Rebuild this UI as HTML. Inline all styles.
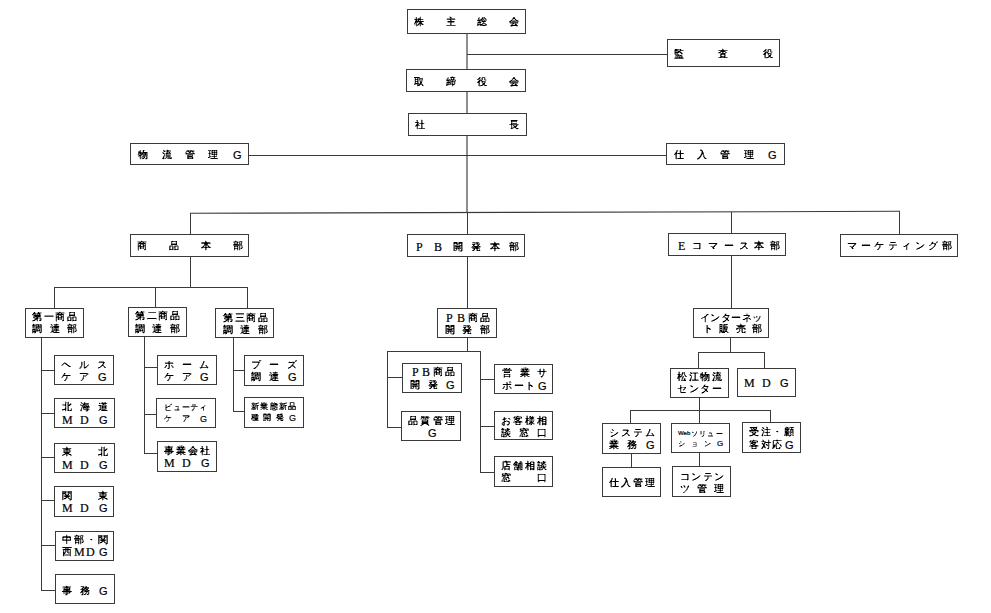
<!DOCTYPE html>
<html><head><meta charset="utf-8"><style>
html,body{margin:0;padding:0;background:#fff;width:991px;height:613px;overflow:hidden}
body{position:relative;font-family:"Liberation Sans",sans-serif;color:#000}
.l{position:absolute;background:#3a3a3a}
.b{position:absolute;box-sizing:border-box;border:1px solid #3a3a3a;background:#fff}
.c{position:absolute;white-space:nowrap;-webkit-text-stroke:0.2px #000}
svg{position:absolute;left:0;top:0}
</style></head><body>
<div class="l" style="left:466px;top:33px;width:2px;height:179px;background:#8e8e8e"></div>
<div class="l" style="left:190px;top:213px;width:1px;height:75px"></div>
<div class="l" style="left:467px;top:212px;width:1px;height:140px"></div>
<div class="l" style="left:731px;top:212px;width:1px;height:97px"></div>
<div class="l" style="left:730px;top:308px;width:1px;height:45px"></div>
<div class="l" style="left:899px;top:211px;width:1px;height:24px"></div>
<div class="l" style="left:54px;top:287px;width:1px;height:22px"></div>
<div class="l" style="left:155px;top:287px;width:1px;height:21px"></div>
<div class="l" style="left:247px;top:287px;width:1px;height:22px"></div>
<div class="l" style="left:41px;top:337px;width:1px;height:254px"></div>
<div class="l" style="left:144px;top:336px;width:1px;height:118px"></div>
<div class="l" style="left:233px;top:337px;width:1px;height:75px"></div>
<div class="l" style="left:387px;top:351px;width:1px;height:77px"></div>
<div class="l" style="left:480px;top:351px;width:1px;height:122px"></div>
<div class="l" style="left:698px;top:352px;width:1px;height:17px"></div>
<div class="l" style="left:764px;top:352px;width:1px;height:17px"></div>
<div class="l" style="left:699px;top:397px;width:1px;height:14px"></div>
<div class="l" style="left:630px;top:410px;width:1px;height:14px"></div>
<div class="l" style="left:699px;top:410px;width:1px;height:14px"></div>
<div class="l" style="left:770px;top:410px;width:1px;height:13px"></div>
<div class="l" style="left:631px;top:453px;width:1px;height:15px"></div>
<div class="l" style="left:699px;top:452px;width:1px;height:15px"></div>
<div class="l" style="left:467px;top:54px;width:201px;height:1px"></div>
<div class="l" style="left:248px;top:155px;width:419px;height:1px"></div>
<div class="l" style="left:54px;top:287px;width:194px;height:1px"></div>
<div class="l" style="left:41px;top:370px;width:14px;height:1px"></div>
<div class="l" style="left:41px;top:413px;width:14px;height:1px"></div>
<div class="l" style="left:41px;top:457px;width:14px;height:1px"></div>
<div class="l" style="left:41px;top:500px;width:14px;height:1px"></div>
<div class="l" style="left:41px;top:545px;width:15px;height:1px"></div>
<div class="l" style="left:41px;top:590px;width:15px;height:1px"></div>
<div class="l" style="left:144px;top:367px;width:14px;height:1px"></div>
<div class="l" style="left:144px;top:414px;width:13px;height:1px"></div>
<div class="l" style="left:144px;top:453px;width:14px;height:1px"></div>
<div class="l" style="left:233px;top:370px;width:12px;height:1px"></div>
<div class="l" style="left:233px;top:411px;width:12px;height:1px"></div>
<div class="l" style="left:387px;top:351px;width:94px;height:1px"></div>
<div class="l" style="left:387px;top:377px;width:16px;height:1px"></div>
<div class="l" style="left:387px;top:427px;width:15px;height:1px"></div>
<div class="l" style="left:480px;top:379px;width:15px;height:1px"></div>
<div class="l" style="left:480px;top:426px;width:15px;height:1px"></div>
<div class="l" style="left:480px;top:472px;width:15px;height:1px"></div>
<div class="l" style="left:698px;top:352px;width:67px;height:1px"></div>
<div class="l" style="left:630px;top:410px;width:141px;height:1px"></div>
<div class="b" style="left:407px;top:9px;width:119px;height:25px"></div>
<div class="b" style="left:667px;top:39px;width:113px;height:28px"></div>
<div class="b" style="left:406px;top:69px;width:120px;height:23px"></div>
<div class="b" style="left:408px;top:113px;width:119px;height:23px"></div>
<div class="b" style="left:130px;top:143px;width:119px;height:22px"></div>
<div class="b" style="left:666px;top:143px;width:119px;height:22px"></div>
<div class="b" style="left:130px;top:234px;width:119px;height:23px"></div>
<div class="b" style="left:407px;top:234px;width:118px;height:23px"></div>
<div class="b" style="left:668px;top:233px;width:118px;height:23px"></div>
<div class="b" style="left:840px;top:234px;width:118px;height:23px"></div>
<div class="b" style="left:25px;top:308px;width:59px;height:30px"></div>
<div class="b" style="left:128px;top:307px;width:59px;height:30px"></div>
<div class="b" style="left:215px;top:308px;width:59px;height:30px"></div>
<div class="b" style="left:54px;top:355px;width:60px;height:30px"></div>
<div class="b" style="left:54px;top:398px;width:61px;height:30px"></div>
<div class="b" style="left:54px;top:443px;width:61px;height:30px"></div>
<div class="b" style="left:54px;top:486px;width:60px;height:31px"></div>
<div class="b" style="left:55px;top:531px;width:59px;height:30px"></div>
<div class="b" style="left:55px;top:574px;width:60px;height:30px"></div>
<div class="b" style="left:157px;top:355px;width:60px;height:30px"></div>
<div class="b" style="left:156px;top:398px;width:60px;height:30px"></div>
<div class="b" style="left:157px;top:441px;width:60px;height:31px"></div>
<div class="b" style="left:244px;top:355px;width:60px;height:31px"></div>
<div class="b" style="left:244px;top:397px;width:60px;height:31px"></div>
<div class="b" style="left:437px;top:308px;width:60px;height:30px"></div>
<div class="b" style="left:402px;top:363px;width:60px;height:30px"></div>
<div class="b" style="left:494px;top:364px;width:59px;height:30px"></div>
<div class="b" style="left:401px;top:411px;width:60px;height:30px"></div>
<div class="b" style="left:494px;top:411px;width:59px;height:29px"></div>
<div class="b" style="left:494px;top:456px;width:59px;height:31px"></div>
<div class="b" style="left:693px;top:308px;width:76px;height:30px"></div>
<div class="b" style="left:670px;top:368px;width:59px;height:30px"></div>
<div class="b" style="left:737px;top:368px;width:59px;height:29px"></div>
<div class="b" style="left:602px;top:423px;width:59px;height:31px"></div>
<div class="b" style="left:671px;top:423px;width:59px;height:30px"></div>
<div class="b" style="left:742px;top:422px;width:59px;height:31px"></div>
<div class="b" style="left:602px;top:467px;width:59px;height:30px"></div>
<div class="b" style="left:672px;top:466px;width:59px;height:31px"></div>
<span class="c" style="left:233px;top:150px;font-family:'Liberation Sans';font-size:11px;line-height:10px">G</span>
<span class="c" style="left:768px;top:150px;font-family:'Liberation Sans';font-size:11px;line-height:10px">G</span>
<span class="c" style="left:416px;top:242px;font-family:'Liberation Serif';font-size:12px;line-height:10px">P</span>
<span class="c" style="left:434px;top:242px;font-family:'Liberation Serif';font-size:12px;line-height:10px">B</span>
<span class="c" style="left:678px;top:241px;font-family:'Liberation Serif';font-size:12px;line-height:10px">E</span>
<span class="c" style="left:98px;top:372px;font-family:'Liberation Sans';font-size:11px;line-height:10px">G</span>
<span class="c" style="left:62px;top:415px;font-family:'Liberation Serif';font-size:12px;line-height:10px">M</span>
<span class="c" style="left:80px;top:415px;font-family:'Liberation Serif';font-size:12px;line-height:10px">D</span>
<span class="c" style="left:99px;top:415px;font-family:'Liberation Sans';font-size:11px;line-height:10px">G</span>
<span class="c" style="left:62px;top:460px;font-family:'Liberation Serif';font-size:12px;line-height:10px">M</span>
<span class="c" style="left:80px;top:460px;font-family:'Liberation Serif';font-size:12px;line-height:10px">D</span>
<span class="c" style="left:99px;top:460px;font-family:'Liberation Sans';font-size:11px;line-height:10px">G</span>
<span class="c" style="left:62px;top:503px;font-family:'Liberation Serif';font-size:12px;line-height:10px">M</span>
<span class="c" style="left:80px;top:503px;font-family:'Liberation Serif';font-size:12px;line-height:10px">D</span>
<span class="c" style="left:99px;top:503px;font-family:'Liberation Sans';font-size:11px;line-height:10px">G</span>
<span class="c" style="left:74px;top:547px;font-family:'Liberation Serif';font-size:12px;line-height:10px">M</span>
<span class="c" style="left:86px;top:547px;font-family:'Liberation Serif';font-size:12px;line-height:10px">D</span>
<span class="c" style="left:99px;top:547px;font-family:'Liberation Sans';font-size:11px;line-height:10px">G</span>
<span class="c" style="left:99px;top:586px;font-family:'Liberation Sans';font-size:11px;line-height:10px">G</span>
<span class="c" style="left:200px;top:372px;font-family:'Liberation Sans';font-size:11px;line-height:10px">G</span>
<span class="c" style="left:200px;top:415px;font-size:9px;line-height:8px">G</span>
<span class="c" style="left:164px;top:458px;font-family:'Liberation Serif';font-size:12px;line-height:10px">M</span>
<span class="c" style="left:182px;top:458px;font-family:'Liberation Serif';font-size:12px;line-height:10px">D</span>
<span class="c" style="left:201px;top:458px;font-family:'Liberation Sans';font-size:11px;line-height:10px">G</span>
<span class="c" style="left:288px;top:372px;font-family:'Liberation Sans';font-size:11px;line-height:10px">G</span>
<span class="c" style="left:289px;top:414px;font-size:9px;line-height:8px">G</span>
<span class="c" style="left:446px;top:313px;font-family:'Liberation Serif';font-size:12px;line-height:10px">P</span>
<span class="c" style="left:457px;top:313px;font-family:'Liberation Serif';font-size:12px;line-height:10px">B</span>
<span class="c" style="left:412px;top:367px;font-family:'Liberation Serif';font-size:12px;line-height:10px">P</span>
<span class="c" style="left:422px;top:367px;font-family:'Liberation Serif';font-size:12px;line-height:10px">B</span>
<span class="c" style="left:446px;top:380px;font-family:'Liberation Sans';font-size:11px;line-height:10px">G</span>
<span class="c" style="left:538px;top:381px;font-family:'Liberation Sans';font-size:11px;line-height:10px">G</span>
<span class="c" style="left:428px;top:428px;font-family:'Liberation Sans';font-size:11px;line-height:10px">G</span>
<span class="c" style="left:744px;top:378px;font-family:'Liberation Serif';font-size:12px;line-height:10px">M</span>
<span class="c" style="left:762px;top:378px;font-family:'Liberation Serif';font-size:12px;line-height:10px">D</span>
<span class="c" style="left:780px;top:378px;font-family:'Liberation Sans';font-size:11px;line-height:10px">G</span>
<span class="c" style="left:646px;top:440px;font-family:'Liberation Sans';font-size:11px;line-height:10px">G</span>
<span class="c" style="left:678px;top:430px;font-size:6px;line-height:7px">Web</span>
<span class="c" style="left:717px;top:440px;font-size:8px;line-height:7px">G</span>
<span class="c" style="left:785px;top:440px;font-family:'Liberation Sans';font-size:11px;line-height:10px">G</span>
<svg width="991" height="613" viewBox="0 0 991 613" shape-rendering="crispEdges" fill="#000">
<line x1="190" y1="213.3" x2="900" y2="211.3" stroke="#3a3a3a" stroke-width="1.1" shape-rendering="auto"/>
<g transform="translate(410 13)"><path d="M5 6h2v1h-2zM8 6h3v1h-3zM6 7h1v1h-1zM8 7h1v1h-1zM5 8h8v1h-8zM5 9h1v1h-1zM10 9h1v1h-1zM9 10h3v1h-3zM8 11h1v1h-1zM12 11h1v1h-1z"/><path d="M6 4h1v1h-1zM10 4h1v1h-1zM6 5h1v1h-1zM8 5h3v1h-3zM7 6h1v1h-1zM11 6h2v1h-2zM10 7h1v1h-1zM13 8h1v1h-1zM6 9h2v1h-2zM9 9h1v1h-1zM11 9h1v1h-1zM4 10h1v1h-1zM6 10h1v1h-1zM6 11h1v1h-1zM10 11h1v1h-1zM6 12h2v1h-2zM10 12h1v1h-1z" fill-opacity="0.72"/><path d="M4 6h1v1h-1zM5 7h1v1h-1zM7 7h1v1h-1zM5 10h1v1h-1zM8 10h1v1h-1zM12 10h1v1h-1zM4 11h1v1h-1zM7 11h1v1h-1zM9 11h1v1h-1zM11 11h1v1h-1zM13 11h1v1h-1z" fill-opacity="0.45"/><path d="M10 3h1v1h-1zM5 4h1v1h-1zM9 4h1v1h-1zM4 5h2v1h-2zM7 5h1v1h-1zM13 6h1v1h-1zM9 7h1v1h-1zM4 9h1v1h-1zM8 9h1v1h-1zM5 11h1v1h-1zM5 12h1v1h-1zM8 12h2v1h-2zM6 13h1v1h-1zM10 13h1v1h-1z" fill-opacity="0.2"/></g>
<g transform="translate(442 13)"><path d="M8 4h1v1h-1zM8 6h1v1h-1zM6 8h6v1h-6z"/><path d="M8 5h2v1h-2zM5 6h3v1h-3zM9 6h4v1h-4zM8 7h1v1h-1zM8 9h2v1h-2zM8 10h1v1h-1zM8 11h1v1h-1zM5 12h8v1h-8z" fill-opacity="0.72"/><path d="M9 4h1v1h-1zM5 5h3v1h-3zM10 5h3v1h-3zM9 7h1v1h-1zM5 8h1v1h-1zM12 8h1v1h-1zM6 9h2v1h-2zM10 9h2v1h-2zM9 10h1v1h-1zM9 11h1v1h-1zM4 12h1v1h-1zM13 12h1v1h-1z" fill-opacity="0.45"/><path d="M7 3h2v1h-2zM7 4h1v1h-1zM4 6h1v1h-1zM13 6h1v1h-1zM5 9h1v1h-1zM12 9h1v1h-1z" fill-opacity="0.2"/></g>
<g transform="translate(473 13)"><path d="M9 5h1v1h-1zM8 6h1v1h-1zM5 7h2v1h-2zM9 8h3v1h-3zM5 9h3v1h-3zM5 11h1v1h-1zM7 11h2v1h-2zM10 12h2v1h-2z"/><path d="M9 4h1v1h-1zM11 4h1v1h-1zM5 5h1v1h-1zM11 5h2v1h-2zM5 6h1v1h-1zM7 6h1v1h-1zM9 6h2v1h-2zM12 6h1v1h-1zM4 7h1v1h-1zM7 7h3v1h-3zM11 7h1v1h-1zM6 8h1v1h-1zM12 8h1v1h-1zM10 9h1v1h-1zM9 10h3v1h-3zM4 11h1v1h-1zM6 11h1v1h-1zM9 11h1v1h-1zM12 11h2v1h-2zM4 12h1v1h-1zM7 12h3v1h-3zM12 12h1v1h-1z" fill-opacity="0.72"/><path d="M6 4h1v1h-1zM10 4h1v1h-1zM6 5h1v1h-1zM8 5h1v1h-1zM10 5h1v1h-1zM6 6h1v1h-1zM13 6h1v1h-1zM10 7h1v1h-1zM12 7h2v1h-2zM5 8h1v1h-1zM7 8h2v1h-2zM4 9h1v1h-1zM4 10h4v1h-4zM12 10h1v1h-1zM5 12h1v1h-1zM13 12h1v1h-1z" fill-opacity="0.45"/><path d="M5 4h1v1h-1zM4 6h1v1h-1zM11 6h1v1h-1zM8 9h1v1h-1zM11 9h1v1h-1zM10 11h2v1h-2zM6 12h1v1h-1z" fill-opacity="0.2"/></g>
<g transform="translate(505 13)"><path d="M8 5h2v1h-2zM10 6h1v1h-1zM6 7h1v1h-1zM11 7h1v1h-1zM5 8h1v1h-1zM8 10h1v1h-1zM10 11h1v1h-1zM6 12h6v1h-6z"/><path d="M8 4h2v1h-2zM7 6h1v1h-1zM12 7h1v1h-1zM4 8h1v1h-1zM7 8h4v1h-4zM12 8h1v1h-1zM5 9h8v1h-8zM7 10h1v1h-1zM10 10h1v1h-1zM7 11h1v1h-1zM11 11h1v1h-1zM12 12h1v1h-1z" fill-opacity="0.72"/><path d="M7 5h1v1h-1zM5 7h1v1h-1zM7 7h4v1h-4zM6 8h1v1h-1zM11 8h1v1h-1zM13 8h1v1h-1zM4 9h1v1h-1zM5 10h2v1h-2zM9 10h1v1h-1zM11 10h2v1h-2zM6 11h1v1h-1zM5 12h1v1h-1zM6 13h1v1h-1z" fill-opacity="0.45"/><path d="M10 5h1v1h-1zM6 6h1v1h-1zM8 6h2v1h-2zM11 6h1v1h-1zM13 7h1v1h-1zM13 9h1v1h-1zM8 11h2v1h-2zM5 13h1v1h-1zM7 13h1v1h-1zM11 13h2v1h-2z" fill-opacity="0.2"/></g>
<g transform="translate(670 45)"><path d="M5 4h2v1h-2zM10 4h1v1h-1zM5 5h2v1h-2zM10 5h1v1h-1zM8 6h2v1h-2zM5 7h4v1h-4zM10 7h1v1h-1zM11 8h1v1h-1zM8 10h1v1h-1zM10 10h1v1h-1zM9 12h1v1h-1zM11 12h1v1h-1z"/><path d="M7 4h2v1h-2zM7 5h1v1h-1zM11 5h2v1h-2zM5 6h1v1h-1zM11 7h1v1h-1zM5 8h1v1h-1zM7 8h1v1h-1zM5 9h4v1h-4zM6 10h2v1h-2zM9 10h1v1h-1zM11 10h1v1h-1zM7 11h1v1h-1zM9 11h1v1h-1zM11 11h1v1h-1zM5 12h4v1h-4zM10 12h1v1h-1zM12 12h1v1h-1zM5 13h8v1h-8z" fill-opacity="0.72"/><path d="M9 4h1v1h-1zM4 5h1v1h-1zM8 5h2v1h-2zM13 5h1v1h-1zM4 6h1v1h-1zM6 6h2v1h-2zM10 6h1v1h-1zM4 7h1v1h-1zM9 7h1v1h-1zM4 8h1v1h-1zM6 8h1v1h-1zM12 8h1v1h-1zM5 10h1v1h-1zM5 11h2v1h-2zM8 11h1v1h-1zM10 11h1v1h-1zM12 11h1v1h-1zM4 13h1v1h-1zM13 13h1v1h-1z" fill-opacity="0.45"/><path d="M4 4h1v1h-1zM11 4h1v1h-1zM10 8h1v1h-1zM4 9h1v1h-1zM9 9h1v1h-1zM11 9h2v1h-2zM12 10h1v1h-1zM4 12h1v1h-1zM13 12h1v1h-1z" fill-opacity="0.2"/></g>
<g transform="translate(714 45)"><path d="M7 5h3v1h-3zM7 6h4v1h-4zM5 7h1v1h-1zM8 8h3v1h-3zM7 9h1v1h-1zM10 9h1v1h-1zM7 11h1v1h-1zM10 11h1v1h-1zM6 12h1v1h-1zM10 12h1v1h-1z"/><path d="M8 4h1v1h-1zM5 5h2v1h-2zM10 5h3v1h-3zM6 6h1v1h-1zM6 7h1v1h-1zM8 7h1v1h-1zM11 7h2v1h-2zM7 8h1v1h-1zM6 9h1v1h-1zM8 9h2v1h-2zM6 10h1v1h-1zM10 10h1v1h-1zM6 11h1v1h-1zM8 11h2v1h-2zM5 12h1v1h-1zM7 12h3v1h-3zM11 12h2v1h-2z" fill-opacity="0.72"/><path d="M9 4h1v1h-1zM4 5h1v1h-1zM13 5h1v1h-1zM11 6h1v1h-1zM4 7h1v1h-1zM9 7h1v1h-1zM6 8h1v1h-1zM11 8h1v1h-1zM11 9h1v1h-1zM7 10h1v1h-1zM11 10h1v1h-1zM11 11h1v1h-1zM4 12h1v1h-1zM13 12h1v1h-1z" fill-opacity="0.45"/><path d="M8 3h1v1h-1zM4 8h2v1h-2z" fill-opacity="0.2"/></g>
<g transform="translate(759 45)"><path d="M6 5h1v1h-1zM6 7h1v1h-1zM8 7h1v1h-1zM5 8h2v1h-2zM9 8h1v1h-1zM5 9h1v1h-1zM10 10h2v1h-2zM10 11h1v1h-1zM8 12h1v1h-1zM12 12h1v1h-1z"/><path d="M6 4h1v1h-1zM9 4h3v1h-3zM5 5h1v1h-1zM9 5h1v1h-1zM11 5h1v1h-1zM4 6h2v1h-2zM9 6h1v1h-1zM11 6h1v1h-1zM7 7h1v1h-1zM10 8h2v1h-2zM4 9h1v1h-1zM6 9h1v1h-1zM9 9h1v1h-1zM11 9h1v1h-1zM6 10h1v1h-1zM6 11h1v1h-1zM9 11h1v1h-1zM11 11h1v1h-1zM6 12h2v1h-2zM9 12h1v1h-1zM11 12h1v1h-1zM13 12h1v1h-1z" fill-opacity="0.72"/><path d="M7 4h1v1h-1zM8 5h1v1h-1zM6 6h3v1h-3zM12 6h1v1h-1zM12 7h1v1h-1zM8 8h1v1h-1zM12 8h1v1h-1zM12 9h1v1h-1zM5 10h1v1h-1zM9 10h1v1h-1zM5 11h1v1h-1zM5 12h1v1h-1z" fill-opacity="0.45"/><path d="M8 4h1v1h-1zM12 4h1v1h-1zM7 5h1v1h-1zM12 5h1v1h-1zM13 6h1v1h-1zM5 7h1v1h-1zM9 7h1v1h-1zM11 7h1v1h-1zM13 7h1v1h-1zM4 8h1v1h-1zM7 8h1v1h-1zM8 9h1v1h-1zM10 9h1v1h-1zM10 12h1v1h-1zM6 13h2v1h-2z" fill-opacity="0.2"/></g>
<g transform="translate(410 73)"><path d="M4 4h5v1h-5zM5 6h1v1h-1zM7 6h1v1h-1zM5 8h1v1h-1zM7 8h1v1h-1zM10 9h2v1h-2zM5 10h3v1h-3zM10 10h1v1h-1zM9 11h1v1h-1zM8 12h1v1h-1zM12 12h1v1h-1z"/><path d="M9 4h1v1h-1zM5 5h1v1h-1zM7 5h1v1h-1zM9 5h4v1h-4zM6 6h1v1h-1zM9 6h1v1h-1zM12 6h1v1h-1zM5 7h1v1h-1zM7 7h1v1h-1zM6 8h1v1h-1zM10 8h2v1h-2zM5 9h1v1h-1zM7 9h1v1h-1zM8 10h1v1h-1zM11 10h1v1h-1zM4 11h1v1h-1zM7 11h2v1h-2zM10 11h3v1h-3zM7 12h1v1h-1zM9 12h1v1h-1z" fill-opacity="0.72"/><path d="M8 5h1v1h-1zM8 6h1v1h-1zM10 6h2v1h-2zM8 7h5v1h-5zM8 8h1v1h-1zM8 9h1v1h-1zM4 10h1v1h-1zM9 10h1v1h-1zM5 11h1v1h-1zM13 12h1v1h-1z" fill-opacity="0.45"/><path d="M4 5h1v1h-1zM4 6h1v1h-1zM4 7h1v1h-1zM4 8h1v1h-1zM9 8h1v1h-1zM12 8h1v1h-1zM4 9h1v1h-1zM6 11h1v1h-1zM7 13h1v1h-1z" fill-opacity="0.2"/></g>
<g transform="translate(442 73)"><path d="M9 4h3v1h-3zM9 6h1v1h-1zM11 6h1v1h-1zM5 7h2v1h-2zM10 8h1v1h-1zM5 9h3v1h-3zM5 11h1v1h-1zM10 11h2v1h-2z"/><path d="M8 4h1v1h-1zM12 4h1v1h-1zM5 5h1v1h-1zM9 5h1v1h-1zM11 5h1v1h-1zM5 6h1v1h-1zM7 6h1v1h-1zM10 6h1v1h-1zM4 7h1v1h-1zM7 7h2v1h-2zM10 7h1v1h-1zM13 7h1v1h-1zM6 8h1v1h-1zM8 8h2v1h-2zM11 8h2v1h-2zM8 9h1v1h-1zM10 9h1v1h-1zM12 9h1v1h-1zM6 10h1v1h-1zM8 10h1v1h-1zM10 10h1v1h-1zM12 10h1v1h-1zM4 11h1v1h-1zM6 11h3v1h-3zM12 11h1v1h-1zM4 12h1v1h-1zM10 12h1v1h-1z" fill-opacity="0.72"/><path d="M10 3h1v1h-1zM6 4h1v1h-1zM6 5h1v1h-1zM12 5h1v1h-1zM4 6h1v1h-1zM6 6h1v1h-1zM8 6h1v1h-1zM12 6h1v1h-1zM9 7h1v1h-1zM11 7h2v1h-2zM5 8h1v1h-1zM7 8h1v1h-1zM13 8h1v1h-1zM4 9h1v1h-1zM9 9h1v1h-1zM4 10h2v1h-2zM7 10h1v1h-1zM9 10h1v1h-1zM9 11h1v1h-1zM5 12h1v1h-1z" fill-opacity="0.45"/><path d="M9 3h1v1h-1zM5 4h1v1h-1zM13 4h1v1h-1zM8 5h1v1h-1zM13 6h1v1h-1zM11 9h1v1h-1zM13 9h1v1h-1zM11 10h1v1h-1zM13 10h1v1h-1zM6 12h1v1h-1zM11 12h1v1h-1zM10 13h1v1h-1z" fill-opacity="0.2"/></g>
<g transform="translate(473 73)"><path d="M6 5h1v1h-1zM6 7h1v1h-1zM8 7h1v1h-1zM5 8h2v1h-2zM9 8h1v1h-1zM5 9h1v1h-1zM10 10h2v1h-2zM10 11h1v1h-1zM8 12h1v1h-1zM12 12h1v1h-1z"/><path d="M6 4h1v1h-1zM9 4h3v1h-3zM5 5h1v1h-1zM9 5h1v1h-1zM11 5h1v1h-1zM4 6h2v1h-2zM9 6h1v1h-1zM11 6h1v1h-1zM7 7h1v1h-1zM10 8h2v1h-2zM4 9h1v1h-1zM6 9h1v1h-1zM9 9h1v1h-1zM11 9h1v1h-1zM6 10h1v1h-1zM6 11h1v1h-1zM9 11h1v1h-1zM11 11h1v1h-1zM6 12h2v1h-2zM9 12h1v1h-1zM11 12h1v1h-1zM13 12h1v1h-1z" fill-opacity="0.72"/><path d="M7 4h1v1h-1zM8 5h1v1h-1zM6 6h3v1h-3zM12 6h1v1h-1zM12 7h1v1h-1zM8 8h1v1h-1zM12 8h1v1h-1zM12 9h1v1h-1zM5 10h1v1h-1zM9 10h1v1h-1zM5 11h1v1h-1zM5 12h1v1h-1z" fill-opacity="0.45"/><path d="M8 4h1v1h-1zM12 4h1v1h-1zM7 5h1v1h-1zM12 5h1v1h-1zM13 6h1v1h-1zM5 7h1v1h-1zM9 7h1v1h-1zM11 7h1v1h-1zM13 7h1v1h-1zM4 8h1v1h-1zM7 8h1v1h-1zM8 9h1v1h-1zM10 9h1v1h-1zM10 12h1v1h-1zM6 13h2v1h-2z" fill-opacity="0.2"/></g>
<g transform="translate(505 73)"><path d="M8 5h2v1h-2zM10 6h1v1h-1zM6 7h1v1h-1zM11 7h1v1h-1zM5 8h1v1h-1zM8 10h1v1h-1zM10 11h1v1h-1zM6 12h6v1h-6z"/><path d="M8 4h2v1h-2zM7 6h1v1h-1zM12 7h1v1h-1zM4 8h1v1h-1zM7 8h4v1h-4zM12 8h1v1h-1zM5 9h8v1h-8zM7 10h1v1h-1zM10 10h1v1h-1zM7 11h1v1h-1zM11 11h1v1h-1zM12 12h1v1h-1z" fill-opacity="0.72"/><path d="M7 5h1v1h-1zM5 7h1v1h-1zM7 7h4v1h-4zM6 8h1v1h-1zM11 8h1v1h-1zM13 8h1v1h-1zM4 9h1v1h-1zM5 10h2v1h-2zM9 10h1v1h-1zM11 10h2v1h-2zM6 11h1v1h-1zM5 12h1v1h-1zM6 13h1v1h-1z" fill-opacity="0.45"/><path d="M10 5h1v1h-1zM6 6h1v1h-1zM8 6h2v1h-2zM11 6h1v1h-1zM13 7h1v1h-1zM13 9h1v1h-1zM8 11h2v1h-2zM5 13h1v1h-1zM7 13h1v1h-1zM11 13h2v1h-2z" fill-opacity="0.2"/></g>
<g transform="translate(411 116)"><path d="M5 6h2v1h-2zM6 7h1v1h-1zM10 7h2v1h-2zM6 8h1v1h-1zM5 9h2v1h-2zM10 12h1v1h-1z"/><path d="M6 4h1v1h-1zM10 4h1v1h-1zM6 5h1v1h-1zM10 5h1v1h-1zM4 6h1v1h-1zM7 6h1v1h-1zM10 6h1v1h-1zM9 7h1v1h-1zM12 7h1v1h-1zM5 8h1v1h-1zM7 8h1v1h-1zM10 8h1v1h-1zM7 9h1v1h-1zM10 9h1v1h-1zM6 10h1v1h-1zM10 10h1v1h-1zM6 11h1v1h-1zM10 11h1v1h-1zM6 12h1v1h-1zM8 12h2v1h-2zM11 12h3v1h-3z" fill-opacity="0.72"/><path d="M5 4h1v1h-1zM11 4h1v1h-1zM11 5h1v1h-1zM11 6h1v1h-1zM7 7h2v1h-2zM11 8h1v1h-1zM4 9h1v1h-1zM8 9h1v1h-1zM11 9h1v1h-1zM4 10h2v1h-2zM11 10h1v1h-1zM11 11h1v1h-1zM7 12h1v1h-1z" fill-opacity="0.45"/><path d="M10 3h1v1h-1zM5 5h1v1h-1zM13 7h1v1h-1zM5 11h1v1h-1zM5 12h1v1h-1zM6 13h1v1h-1z" fill-opacity="0.2"/></g>
<g transform="translate(505 116)"><path d="M6 4h6v1h-6zM6 5h1v1h-1zM6 7h1v1h-1zM6 8h1v1h-1zM11 9h1v1h-1zM9 10h2v1h-2zM10 11h1v1h-1zM6 12h1v1h-1zM11 12h2v1h-2z"/><path d="M7 5h5v1h-5zM6 6h1v1h-1zM7 7h5v1h-5zM5 8h1v1h-1zM7 8h6v1h-6zM6 9h1v1h-1zM8 9h1v1h-1zM6 10h1v1h-1zM11 10h1v1h-1zM6 11h1v1h-1zM8 11h2v1h-2zM7 12h1v1h-1z" fill-opacity="0.72"/><path d="M12 4h1v1h-1zM4 8h1v1h-1zM13 8h1v1h-1zM9 9h1v1h-1zM12 9h1v1h-1zM7 11h1v1h-1zM13 12h1v1h-1z" fill-opacity="0.45"/><path d="M5 4h1v1h-1zM7 6h1v1h-1zM11 6h1v1h-1zM7 9h1v1h-1zM10 9h1v1h-1zM7 10h2v1h-2zM11 11h1v1h-1zM5 12h1v1h-1zM8 12h1v1h-1zM10 12h1v1h-1zM12 13h1v1h-1z" fill-opacity="0.2"/></g>
<g transform="translate(134 146)"><path d="M9 4h1v1h-1zM9 5h1v1h-1zM5 6h2v1h-2zM9 6h4v1h-4zM6 7h1v1h-1zM8 7h1v1h-1zM11 7h1v1h-1zM7 8h1v1h-1zM11 8h1v1h-1zM5 9h2v1h-2zM10 11h1v1h-1zM9 12h1v1h-1zM12 12h1v1h-1z"/><path d="M6 4h1v1h-1zM5 5h2v1h-2zM4 6h1v1h-1zM7 6h2v1h-2zM4 7h2v1h-2zM7 7h1v1h-1zM9 7h2v1h-2zM12 7h1v1h-1zM4 8h1v1h-1zM6 8h1v1h-1zM8 8h3v1h-3zM12 8h1v1h-1zM9 9h4v1h-4zM6 10h1v1h-1zM8 10h3v1h-3zM12 10h1v1h-1zM6 11h1v1h-1zM12 11h1v1h-1zM6 12h1v1h-1zM8 12h1v1h-1z" fill-opacity="0.72"/><path d="M10 4h1v1h-1zM4 5h1v1h-1zM13 6h1v1h-1zM13 7h1v1h-1zM5 8h1v1h-1zM13 8h1v1h-1zM4 9h1v1h-1zM7 9h1v1h-1zM13 9h1v1h-1zM4 10h2v1h-2zM11 10h1v1h-1zM13 10h1v1h-1zM7 11h3v1h-3zM13 11h1v1h-1zM11 12h1v1h-1zM13 12h1v1h-1z" fill-opacity="0.45"/><path d="M5 4h1v1h-1zM8 4h1v1h-1zM8 5h1v1h-1zM3 8h1v1h-1zM8 9h1v1h-1zM7 10h1v1h-1zM5 11h1v1h-1zM5 12h1v1h-1zM7 12h1v1h-1zM10 12h1v1h-1zM6 13h1v1h-1zM8 13h1v1h-1zM11 13h2v1h-2z" fill-opacity="0.2"/></g>
<g transform="translate(158 146)"><path d="M9 4h1v1h-1zM6 5h1v1h-1zM9 5h1v1h-1zM11 6h1v1h-1zM5 7h1v1h-1zM8 7h2v1h-2zM5 11h1v1h-1zM5 12h1v1h-1zM12 12h1v1h-1z"/><path d="M5 4h1v1h-1zM10 4h1v1h-1zM10 5h1v1h-1zM9 6h1v1h-1zM10 7h3v1h-3zM6 8h1v1h-1zM8 8h1v1h-1zM6 9h1v1h-1zM8 9h4v1h-4zM5 10h1v1h-1zM8 10h4v1h-4zM8 11h1v1h-1zM10 11h2v1h-2zM13 11h1v1h-1zM4 12h1v1h-1zM7 12h1v1h-1zM10 12h2v1h-2zM13 12h1v1h-1z" fill-opacity="0.72"/><path d="M6 4h1v1h-1zM8 4h1v1h-1zM11 4h2v1h-2zM5 5h1v1h-1zM7 5h2v1h-2zM11 5h2v1h-2zM4 6h2v1h-2zM8 6h1v1h-1zM10 6h1v1h-1zM6 7h2v1h-2zM9 8h4v1h-4zM12 9h1v1h-1zM6 10h1v1h-1zM12 10h1v1h-1zM9 11h1v1h-1zM12 11h1v1h-1zM6 12h1v1h-1zM9 12h1v1h-1z" fill-opacity="0.45"/><path d="M9 3h1v1h-1zM7 4h1v1h-1zM12 6h1v1h-1zM4 7h1v1h-1zM7 8h1v1h-1zM5 9h1v1h-1zM7 9h1v1h-1zM7 10h1v1h-1zM4 11h1v1h-1zM6 11h2v1h-2zM8 12h1v1h-1zM5 13h1v1h-1z" fill-opacity="0.2"/></g>
<g transform="translate(181 146)"><path d="M7 5h1v1h-1zM9 5h1v1h-1zM11 5h1v1h-1zM8 6h1v1h-1zM5 7h1v1h-1zM12 7h1v1h-1zM7 10h4v1h-4zM11 11h1v1h-1zM7 12h1v1h-1zM11 12h1v1h-1z"/><path d="M6 4h2v1h-2zM9 4h2v1h-2zM5 5h2v1h-2zM8 5h1v1h-1zM10 5h1v1h-1zM12 5h1v1h-1zM9 6h1v1h-1zM6 7h6v1h-6zM13 7h1v1h-1zM7 8h5v1h-5zM6 9h2v1h-2zM11 9h1v1h-1zM6 10h1v1h-1zM11 10h1v1h-1zM6 11h2v1h-2zM6 12h1v1h-1zM8 12h3v1h-3z" fill-opacity="0.72"/><path d="M8 4h1v1h-1zM11 4h2v1h-2zM4 6h2v1h-2zM11 6h2v1h-2zM4 7h1v1h-1zM5 8h2v1h-2zM8 9h3v1h-3zM8 11h3v1h-3z" fill-opacity="0.45"/><path d="M5 4h1v1h-1zM13 4h1v1h-1zM13 5h1v1h-1zM7 6h1v1h-1zM4 8h1v1h-1zM12 8h2v1h-2zM12 11h1v1h-1zM12 12h1v1h-1z" fill-opacity="0.2"/></g>
<g transform="translate(204 146)"><path d="M8 4h1v1h-1zM10 4h1v1h-1zM12 4h1v1h-1zM8 6h1v1h-1zM10 6h1v1h-1zM12 6h1v1h-1zM5 7h1v1h-1zM8 8h1v1h-1zM10 8h1v1h-1zM12 8h1v1h-1zM10 10h1v1h-1zM4 11h1v1h-1zM7 12h6v1h-6z"/><path d="M4 4h3v1h-3zM9 4h1v1h-1zM11 4h1v1h-1zM5 5h1v1h-1zM8 5h1v1h-1zM10 5h1v1h-1zM12 5h1v1h-1zM5 6h1v1h-1zM9 6h1v1h-1zM11 6h1v1h-1zM6 7h1v1h-1zM8 7h1v1h-1zM10 7h1v1h-1zM12 7h1v1h-1zM5 8h1v1h-1zM9 8h1v1h-1zM11 8h1v1h-1zM5 9h1v1h-1zM10 9h1v1h-1zM5 10h2v1h-2zM8 10h2v1h-2zM11 10h2v1h-2zM5 11h1v1h-1zM10 11h1v1h-1zM13 12h1v1h-1z" fill-opacity="0.72"/><path d="M7 4h1v1h-1zM7 5h1v1h-1zM7 6h1v1h-1zM4 7h1v1h-1zM7 7h1v1h-1zM7 8h1v1h-1zM12 9h1v1h-1zM7 10h1v1h-1zM6 12h1v1h-1z" fill-opacity="0.45"/><path d="M13 4h1v1h-1zM6 5h1v1h-1zM9 5h1v1h-1zM11 5h1v1h-1zM13 5h1v1h-1zM6 6h1v1h-1zM13 6h1v1h-1zM9 7h1v1h-1zM11 7h1v1h-1zM13 7h1v1h-1zM6 8h1v1h-1zM13 8h1v1h-1zM6 9h1v1h-1zM9 9h1v1h-1zM6 11h1v1h-1zM9 11h1v1h-1z" fill-opacity="0.2"/></g>
<g transform="translate(670 146)"><path d="M10 5h1v1h-1zM6 6h1v1h-1zM10 6h1v1h-1zM5 7h2v1h-2zM8 7h5v1h-5zM10 8h1v1h-1zM10 9h1v1h-1zM10 10h1v1h-1zM10 11h1v1h-1zM8 12h5v1h-5z"/><path d="M7 4h1v1h-1zM10 4h1v1h-1zM6 5h1v1h-1zM7 7h1v1h-1zM13 7h1v1h-1zM4 8h3v1h-3zM6 9h1v1h-1zM6 10h1v1h-1zM6 11h1v1h-1zM6 12h2v1h-2zM13 12h1v1h-1z" fill-opacity="0.72"/><path d="M6 4h1v1h-1zM7 5h1v1h-1zM5 6h1v1h-1zM5 9h1v1h-1zM5 10h1v1h-1zM5 11h1v1h-1zM5 12h1v1h-1z" fill-opacity="0.45"/><path d="M9 4h1v1h-1zM9 5h1v1h-1zM9 6h1v1h-1zM4 7h1v1h-1zM9 8h1v1h-1zM9 9h1v1h-1zM9 10h1v1h-1zM9 11h1v1h-1zM6 13h1v1h-1z" fill-opacity="0.2"/></g>
<g transform="translate(693 146)"><path d="M8 4h1v1h-1zM9 5h1v1h-1zM9 6h1v1h-1zM9 7h1v1h-1zM8 8h1v1h-1zM7 10h1v1h-1zM6 11h1v1h-1zM11 11h1v1h-1zM5 12h1v1h-1zM12 12h1v1h-1z"/><path d="M7 4h1v1h-1zM8 7h1v1h-1zM10 7h1v1h-1zM10 8h1v1h-1zM7 9h2v1h-2zM10 9h1v1h-1zM10 10h1v1h-1zM4 12h1v1h-1z" fill-opacity="0.72"/><path d="M7 3h1v1h-1zM9 4h1v1h-1zM8 5h1v1h-1zM8 6h1v1h-1zM10 6h1v1h-1zM9 8h1v1h-1zM6 10h1v1h-1zM11 10h1v1h-1zM5 11h1v1h-1zM7 11h1v1h-1zM6 12h1v1h-1zM11 12h1v1h-1zM13 12h1v1h-1zM4 13h1v1h-1z" fill-opacity="0.45"/><path d="M8 3h1v1h-1zM7 8h1v1h-1zM11 9h1v1h-1zM8 10h1v1h-1zM10 11h1v1h-1zM12 11h1v1h-1zM5 13h1v1h-1z" fill-opacity="0.2"/></g>
<g transform="translate(716 146)"><path d="M7 5h1v1h-1zM9 5h1v1h-1zM11 5h1v1h-1zM8 6h1v1h-1zM5 7h1v1h-1zM12 7h1v1h-1zM7 10h4v1h-4zM11 11h1v1h-1zM7 12h1v1h-1zM11 12h1v1h-1z"/><path d="M6 4h2v1h-2zM9 4h2v1h-2zM5 5h2v1h-2zM8 5h1v1h-1zM10 5h1v1h-1zM12 5h1v1h-1zM9 6h1v1h-1zM6 7h6v1h-6zM13 7h1v1h-1zM7 8h5v1h-5zM6 9h2v1h-2zM11 9h1v1h-1zM6 10h1v1h-1zM11 10h1v1h-1zM6 11h2v1h-2zM6 12h1v1h-1zM8 12h3v1h-3z" fill-opacity="0.72"/><path d="M8 4h1v1h-1zM11 4h2v1h-2zM4 6h2v1h-2zM11 6h2v1h-2zM4 7h1v1h-1zM5 8h2v1h-2zM8 9h3v1h-3zM8 11h3v1h-3z" fill-opacity="0.45"/><path d="M5 4h1v1h-1zM13 4h1v1h-1zM13 5h1v1h-1zM7 6h1v1h-1zM4 8h1v1h-1zM12 8h2v1h-2zM12 11h1v1h-1zM12 12h1v1h-1z" fill-opacity="0.2"/></g>
<g transform="translate(740 146)"><path d="M8 4h1v1h-1zM10 4h1v1h-1zM12 4h1v1h-1zM8 6h1v1h-1zM10 6h1v1h-1zM12 6h1v1h-1zM5 7h1v1h-1zM8 8h1v1h-1zM10 8h1v1h-1zM12 8h1v1h-1zM10 10h1v1h-1zM4 11h1v1h-1zM7 12h6v1h-6z"/><path d="M4 4h3v1h-3zM9 4h1v1h-1zM11 4h1v1h-1zM5 5h1v1h-1zM8 5h1v1h-1zM10 5h1v1h-1zM12 5h1v1h-1zM5 6h1v1h-1zM9 6h1v1h-1zM11 6h1v1h-1zM6 7h1v1h-1zM8 7h1v1h-1zM10 7h1v1h-1zM12 7h1v1h-1zM5 8h1v1h-1zM9 8h1v1h-1zM11 8h1v1h-1zM5 9h1v1h-1zM10 9h1v1h-1zM5 10h2v1h-2zM8 10h2v1h-2zM11 10h2v1h-2zM5 11h1v1h-1zM10 11h1v1h-1zM13 12h1v1h-1z" fill-opacity="0.72"/><path d="M7 4h1v1h-1zM7 5h1v1h-1zM7 6h1v1h-1zM4 7h1v1h-1zM7 7h1v1h-1zM7 8h1v1h-1zM12 9h1v1h-1zM7 10h1v1h-1zM6 12h1v1h-1z" fill-opacity="0.45"/><path d="M13 4h1v1h-1zM6 5h1v1h-1zM9 5h1v1h-1zM11 5h1v1h-1zM13 5h1v1h-1zM6 6h1v1h-1zM13 6h1v1h-1zM9 7h1v1h-1zM11 7h1v1h-1zM13 7h1v1h-1zM6 8h1v1h-1zM13 8h1v1h-1zM6 9h1v1h-1zM9 9h1v1h-1zM6 11h1v1h-1zM9 11h1v1h-1z" fill-opacity="0.2"/></g>
<g transform="translate(133 237)"><path d="M8 4h1v1h-1zM7 5h1v1h-1zM10 5h1v1h-1zM6 6h6v1h-6zM7 8h1v1h-1zM10 8h1v1h-1zM5 9h1v1h-1zM7 9h1v1h-1zM10 9h1v1h-1zM7 10h1v1h-1zM7 11h1v1h-1zM12 12h1v1h-1z"/><path d="M9 4h1v1h-1zM6 5h1v1h-1zM5 6h1v1h-1zM12 6h1v1h-1zM5 7h1v1h-1zM7 7h1v1h-1zM9 7h2v1h-2zM12 7h1v1h-1zM5 8h2v1h-2zM11 8h2v1h-2zM6 9h1v1h-1zM8 9h2v1h-2zM12 9h1v1h-1zM5 10h1v1h-1zM10 10h1v1h-1zM12 10h1v1h-1zM5 11h1v1h-1zM10 11h1v1h-1zM12 11h1v1h-1zM5 12h1v1h-1zM11 12h1v1h-1z" fill-opacity="0.72"/><path d="M5 4h3v1h-3zM10 4h3v1h-3zM5 5h1v1h-1zM8 5h2v1h-2zM11 5h2v1h-2zM8 7h1v1h-1zM11 9h1v1h-1zM8 10h2v1h-2zM8 11h2v1h-2zM5 13h1v1h-1z" fill-opacity="0.45"/><path d="M8 3h1v1h-1zM4 4h1v1h-1zM13 4h1v1h-1zM4 5h1v1h-1zM13 5h1v1h-1zM4 6h1v1h-1zM4 7h1v1h-1zM6 7h1v1h-1zM11 7h1v1h-1zM4 8h1v1h-1zM9 8h1v1h-1zM4 9h1v1h-1zM4 10h1v1h-1zM6 10h1v1h-1zM11 10h1v1h-1zM4 11h1v1h-1zM6 11h1v1h-1zM11 11h1v1h-1zM4 12h1v1h-1zM11 13h1v1h-1z" fill-opacity="0.2"/></g>
<g transform="translate(165 237)"><path d="M7 4h1v1h-1zM11 4h1v1h-1zM11 6h1v1h-1zM6 7h6v1h-6zM5 12h1v1h-1zM7 12h1v1h-1zM10 12h1v1h-1zM12 12h1v1h-1z"/><path d="M6 4h1v1h-1zM8 4h3v1h-3zM6 5h1v1h-1zM11 5h1v1h-1zM6 6h1v1h-1zM4 9h2v1h-2zM7 9h1v1h-1zM9 9h2v1h-2zM12 9h1v1h-1zM4 10h1v1h-1zM7 10h1v1h-1zM9 10h1v1h-1zM4 11h1v1h-1zM7 11h1v1h-1zM4 12h1v1h-1zM6 12h1v1h-1zM9 12h1v1h-1zM11 12h1v1h-1z" fill-opacity="0.72"/><path d="M7 6h4v1h-4zM5 8h3v1h-3zM10 8h3v1h-3zM6 9h1v1h-1zM8 9h1v1h-1zM11 9h1v1h-1zM13 9h1v1h-1zM5 10h1v1h-1zM8 10h1v1h-1zM10 10h1v1h-1zM12 10h2v1h-2zM5 11h1v1h-1zM8 11h3v1h-3zM12 11h2v1h-2zM8 12h1v1h-1zM13 12h1v1h-1z" fill-opacity="0.45"/><path d="M7 5h1v1h-1zM10 5h1v1h-1zM4 8h1v1h-1zM9 8h1v1h-1zM4 13h1v1h-1zM9 13h1v1h-1z" fill-opacity="0.2"/></g>
<g transform="translate(197 237)"><path d="M8 5h2v1h-2zM7 6h4v1h-4zM8 7h2v1h-2zM6 9h1v1h-1zM11 9h1v1h-1zM5 10h1v1h-1zM8 10h2v1h-2zM12 10h1v1h-1z"/><path d="M8 4h1v1h-1zM5 5h3v1h-3zM10 5h3v1h-3zM5 6h2v1h-2zM11 6h2v1h-2zM7 7h1v1h-1zM10 7h1v1h-1zM7 8h4v1h-4zM8 9h1v1h-1zM4 10h1v1h-1zM6 10h2v1h-2zM10 10h2v1h-2zM13 10h1v1h-1zM8 11h1v1h-1zM8 12h1v1h-1z" fill-opacity="0.72"/><path d="M9 4h1v1h-1zM4 5h1v1h-1zM4 6h1v1h-1zM13 6h1v1h-1zM6 8h1v1h-1zM11 8h1v1h-1zM5 9h1v1h-1zM9 9h1v1h-1zM12 9h1v1h-1zM9 11h1v1h-1zM9 12h1v1h-1z" fill-opacity="0.45"/><path d="M8 3h1v1h-1zM13 5h1v1h-1zM7 9h1v1h-1zM10 9h1v1h-1zM4 11h2v1h-2zM8 13h1v1h-1z" fill-opacity="0.2"/></g>
<g transform="translate(229 237)"><path d="M6 4h1v1h-1zM8 5h1v1h-1zM5 7h4v1h-4zM5 9h1v1h-1zM8 9h1v1h-1zM5 11h1v1h-1zM8 11h1v1h-1zM12 11h1v1h-1z"/><path d="M7 4h1v1h-1zM11 4h2v1h-2zM5 5h1v1h-1zM10 5h1v1h-1zM12 5h1v1h-1zM5 6h1v1h-1zM8 6h1v1h-1zM10 6h1v1h-1zM12 6h1v1h-1zM4 7h1v1h-1zM9 7h4v1h-4zM5 8h6v1h-6zM12 8h1v1h-1zM6 9h2v1h-2zM10 9h1v1h-1zM5 10h1v1h-1zM8 10h1v1h-1zM10 10h1v1h-1zM13 10h1v1h-1zM6 11h2v1h-2zM10 11h1v1h-1zM5 12h1v1h-1zM8 12h1v1h-1zM10 12h1v1h-1z" fill-opacity="0.72"/><path d="M5 4h1v1h-1zM8 4h1v1h-1zM10 4h1v1h-1zM4 5h1v1h-1zM6 5h2v1h-2zM9 5h1v1h-1zM6 6h2v1h-2zM11 6h1v1h-1zM4 8h1v1h-1zM11 8h1v1h-1zM12 9h2v1h-2zM12 10h1v1h-1zM11 11h1v1h-1z" fill-opacity="0.45"/><path d="M6 3h1v1h-1zM4 4h1v1h-1zM9 4h1v1h-1zM13 4h1v1h-1zM11 5h1v1h-1zM13 5h1v1h-1zM13 8h1v1h-1zM9 9h1v1h-1zM11 9h1v1h-1zM6 10h1v1h-1zM9 10h1v1h-1zM11 10h1v1h-1zM9 11h1v1h-1zM13 11h1v1h-1zM6 12h1v1h-1zM9 12h1v1h-1zM11 12h1v1h-1zM5 13h1v1h-1zM8 13h1v1h-1zM10 13h1v1h-1z" fill-opacity="0.2"/></g>
<g transform="translate(449 238)"><path d="M5 4h3v1h-3zM10 4h3v1h-3zM5 5h1v1h-1zM7 5h1v1h-1zM10 5h1v1h-1zM12 5h1v1h-1zM12 7h1v1h-1zM7 8h4v1h-4zM7 10h1v1h-1zM9 10h1v1h-1zM12 12h1v1h-1z"/><path d="M6 5h1v1h-1zM8 5h2v1h-2zM11 5h1v1h-1zM8 6h1v1h-1zM12 6h1v1h-1zM5 7h3v1h-3zM10 7h2v1h-2zM5 8h2v1h-2zM12 8h1v1h-1zM5 9h1v1h-1zM7 9h4v1h-4zM12 9h1v1h-1zM5 10h2v1h-2zM8 10h1v1h-1zM10 10h3v1h-3zM5 11h1v1h-1zM7 11h1v1h-1zM12 11h1v1h-1zM5 12h2v1h-2z" fill-opacity="0.72"/><path d="M4 4h1v1h-1zM8 4h2v1h-2zM13 4h1v1h-1zM4 5h1v1h-1zM13 5h1v1h-1zM4 6h2v1h-2zM7 6h1v1h-1zM9 6h2v1h-2zM13 6h1v1h-1zM4 7h1v1h-1zM8 7h2v1h-2zM13 7h1v1h-1zM4 8h1v1h-1zM11 8h1v1h-1zM13 8h1v1h-1zM4 9h1v1h-1zM6 9h1v1h-1zM11 9h1v1h-1zM13 9h1v1h-1zM4 10h1v1h-1zM13 10h1v1h-1zM4 11h1v1h-1zM9 11h2v1h-2zM13 11h1v1h-1zM4 12h1v1h-1zM7 12h1v1h-1zM9 12h3v1h-3zM13 12h1v1h-1zM11 13h2v1h-2z" fill-opacity="0.45"/><path d="M8 11h1v1h-1zM10 13h1v1h-1z" fill-opacity="0.2"/></g>
<g transform="translate(467 238)"><path d="M10 5h1v1h-1zM6 6h2v1h-2zM6 7h1v1h-1zM11 7h1v1h-1zM7 8h4v1h-4zM12 8h1v1h-1zM8 9h3v1h-3zM7 10h1v1h-1zM9 10h2v1h-2zM7 11h1v1h-1zM6 12h1v1h-1zM10 12h1v1h-1zM12 12h1v1h-1z"/><path d="M6 4h2v1h-2zM9 4h3v1h-3zM9 5h1v1h-1zM5 6h1v1h-1zM10 6h3v1h-3zM10 7h1v1h-1zM5 8h2v1h-2zM11 8h1v1h-1zM5 9h3v1h-3zM11 9h1v1h-1zM6 10h1v1h-1zM8 10h1v1h-1zM11 10h1v1h-1zM10 11h1v1h-1zM5 12h1v1h-1zM11 12h1v1h-1z" fill-opacity="0.72"/><path d="M5 4h1v1h-1zM8 4h1v1h-1zM7 5h2v1h-2zM11 5h2v1h-2zM9 6h1v1h-1zM7 7h1v1h-1zM13 8h1v1h-1zM4 9h1v1h-1zM12 9h1v1h-1zM5 10h1v1h-1zM12 10h1v1h-1zM6 11h1v1h-1zM9 11h1v1h-1zM12 11h1v1h-1zM9 12h1v1h-1z" fill-opacity="0.45"/><path d="M5 5h2v1h-2zM8 6h1v1h-1zM13 9h1v1h-1zM7 12h1v1h-1zM13 12h1v1h-1z" fill-opacity="0.2"/></g>
<g transform="translate(486 238)"><path d="M8 5h2v1h-2zM7 6h4v1h-4zM8 7h2v1h-2zM6 9h1v1h-1zM11 9h1v1h-1zM5 10h1v1h-1zM8 10h2v1h-2zM12 10h1v1h-1z"/><path d="M8 4h1v1h-1zM5 5h3v1h-3zM10 5h3v1h-3zM5 6h2v1h-2zM11 6h2v1h-2zM7 7h1v1h-1zM10 7h1v1h-1zM7 8h4v1h-4zM8 9h1v1h-1zM4 10h1v1h-1zM6 10h2v1h-2zM10 10h2v1h-2zM13 10h1v1h-1zM8 11h1v1h-1zM8 12h1v1h-1z" fill-opacity="0.72"/><path d="M9 4h1v1h-1zM4 5h1v1h-1zM4 6h1v1h-1zM13 6h1v1h-1zM6 8h1v1h-1zM11 8h1v1h-1zM5 9h1v1h-1zM9 9h1v1h-1zM12 9h1v1h-1zM9 11h1v1h-1zM9 12h1v1h-1z" fill-opacity="0.45"/><path d="M8 3h1v1h-1zM13 5h1v1h-1zM7 9h1v1h-1zM10 9h1v1h-1zM4 11h2v1h-2zM8 13h1v1h-1z" fill-opacity="0.2"/></g>
<g transform="translate(505 238)"><path d="M6 4h1v1h-1zM8 5h1v1h-1zM5 7h4v1h-4zM5 9h1v1h-1zM8 9h1v1h-1zM5 11h1v1h-1zM8 11h1v1h-1zM12 11h1v1h-1z"/><path d="M7 4h1v1h-1zM11 4h2v1h-2zM5 5h1v1h-1zM10 5h1v1h-1zM12 5h1v1h-1zM5 6h1v1h-1zM8 6h1v1h-1zM10 6h1v1h-1zM12 6h1v1h-1zM4 7h1v1h-1zM9 7h4v1h-4zM5 8h6v1h-6zM12 8h1v1h-1zM6 9h2v1h-2zM10 9h1v1h-1zM5 10h1v1h-1zM8 10h1v1h-1zM10 10h1v1h-1zM13 10h1v1h-1zM6 11h2v1h-2zM10 11h1v1h-1zM5 12h1v1h-1zM8 12h1v1h-1zM10 12h1v1h-1z" fill-opacity="0.72"/><path d="M5 4h1v1h-1zM8 4h1v1h-1zM10 4h1v1h-1zM4 5h1v1h-1zM6 5h2v1h-2zM9 5h1v1h-1zM6 6h2v1h-2zM11 6h1v1h-1zM4 8h1v1h-1zM11 8h1v1h-1zM12 9h2v1h-2zM12 10h1v1h-1zM11 11h1v1h-1z" fill-opacity="0.45"/><path d="M6 3h1v1h-1zM4 4h1v1h-1zM9 4h1v1h-1zM13 4h1v1h-1zM11 5h1v1h-1zM13 5h1v1h-1zM13 8h1v1h-1zM9 9h1v1h-1zM11 9h1v1h-1zM6 10h1v1h-1zM9 10h1v1h-1zM11 10h1v1h-1zM9 11h1v1h-1zM13 11h1v1h-1zM6 12h1v1h-1zM9 12h1v1h-1zM11 12h1v1h-1zM5 13h1v1h-1zM8 13h1v1h-1zM10 13h1v1h-1z" fill-opacity="0.2"/></g>
<g transform="translate(688 237)"><path d="M6 6h6v1h-6zM11 11h1v1h-1z"/><path d="M11 7h1v1h-1zM11 8h1v1h-1zM11 9h1v1h-1zM11 10h1v1h-1zM6 11h5v1h-5z" fill-opacity="0.72"/><path d="M5 6h1v1h-1zM12 6h1v1h-1zM12 7h1v1h-1zM12 8h1v1h-1zM12 9h1v1h-1zM12 10h1v1h-1zM5 11h1v1h-1zM12 11h1v1h-1z" fill-opacity="0.45"/><path d="M11 12h1v1h-1z" fill-opacity="0.2"/></g>
<g transform="translate(704 237)"><path d="M5 6h8v1h-8zM10 9h1v1h-1zM9 10h1v1h-1zM9 11h1v1h-1z"/><path d="M11 7h2v1h-2zM10 8h2v1h-2zM7 9h1v1h-1zM9 9h1v1h-1zM8 10h1v1h-1z" fill-opacity="0.72"/><path d="M8 9h1v1h-1zM10 11h1v1h-1z" fill-opacity="0.45"/><path d="M4 6h1v1h-1zM13 6h1v1h-1zM6 9h1v1h-1zM8 11h1v1h-1z" fill-opacity="0.2"/></g>
<g transform="translate(720 237)"><path d="M5 8h8v1h-8z"/><path d="M5 7h8v1h-8z" fill-opacity="0.45"/><path d="M4 8h1v1h-1zM13 8h1v1h-1z" fill-opacity="0.2"/></g>
<g transform="translate(735 237)"><path d="M10 6h1v1h-1zM10 7h1v1h-1zM9 9h1v1h-1zM6 11h1v1h-1z"/><path d="M6 6h4v1h-4zM11 6h1v1h-1zM9 8h1v1h-1zM8 9h1v1h-1zM10 9h1v1h-1zM7 10h2v1h-2zM11 10h1v1h-1zM5 11h1v1h-1zM11 11h2v1h-2z" fill-opacity="0.72"/><path d="M6 5h5v1h-5zM10 8h1v1h-1zM10 10h1v1h-1zM7 11h1v1h-1zM5 12h1v1h-1z" fill-opacity="0.45"/><path d="M5 6h1v1h-1zM9 7h1v1h-1zM11 7h1v1h-1z" fill-opacity="0.2"/></g>
<g transform="translate(750 237)"><path d="M8 5h2v1h-2zM7 6h4v1h-4zM8 7h2v1h-2zM6 9h1v1h-1zM11 9h1v1h-1zM5 10h1v1h-1zM8 10h2v1h-2zM12 10h1v1h-1z"/><path d="M8 4h1v1h-1zM5 5h3v1h-3zM10 5h3v1h-3zM5 6h2v1h-2zM11 6h2v1h-2zM7 7h1v1h-1zM10 7h1v1h-1zM7 8h4v1h-4zM8 9h1v1h-1zM4 10h1v1h-1zM6 10h2v1h-2zM10 10h2v1h-2zM13 10h1v1h-1zM8 11h1v1h-1zM8 12h1v1h-1z" fill-opacity="0.72"/><path d="M9 4h1v1h-1zM4 5h1v1h-1zM4 6h1v1h-1zM13 6h1v1h-1zM6 8h1v1h-1zM11 8h1v1h-1zM5 9h1v1h-1zM9 9h1v1h-1zM12 9h1v1h-1zM9 11h1v1h-1zM9 12h1v1h-1z" fill-opacity="0.45"/><path d="M8 3h1v1h-1zM13 5h1v1h-1zM7 9h1v1h-1zM10 9h1v1h-1zM4 11h2v1h-2zM8 13h1v1h-1z" fill-opacity="0.2"/></g>
<g transform="translate(766 237)"><path d="M6 4h1v1h-1zM8 5h1v1h-1zM5 7h4v1h-4zM5 9h1v1h-1zM8 9h1v1h-1zM5 11h1v1h-1zM8 11h1v1h-1zM12 11h1v1h-1z"/><path d="M7 4h1v1h-1zM11 4h2v1h-2zM5 5h1v1h-1zM10 5h1v1h-1zM12 5h1v1h-1zM5 6h1v1h-1zM8 6h1v1h-1zM10 6h1v1h-1zM12 6h1v1h-1zM4 7h1v1h-1zM9 7h4v1h-4zM5 8h6v1h-6zM12 8h1v1h-1zM6 9h2v1h-2zM10 9h1v1h-1zM5 10h1v1h-1zM8 10h1v1h-1zM10 10h1v1h-1zM13 10h1v1h-1zM6 11h2v1h-2zM10 11h1v1h-1zM5 12h1v1h-1zM8 12h1v1h-1zM10 12h1v1h-1z" fill-opacity="0.72"/><path d="M5 4h1v1h-1zM8 4h1v1h-1zM10 4h1v1h-1zM4 5h1v1h-1zM6 5h2v1h-2zM9 5h1v1h-1zM6 6h2v1h-2zM11 6h1v1h-1zM4 8h1v1h-1zM11 8h1v1h-1zM12 9h2v1h-2zM12 10h1v1h-1zM11 11h1v1h-1z" fill-opacity="0.45"/><path d="M6 3h1v1h-1zM4 4h1v1h-1zM9 4h1v1h-1zM13 4h1v1h-1zM11 5h1v1h-1zM13 5h1v1h-1zM13 8h1v1h-1zM9 9h1v1h-1zM11 9h1v1h-1zM6 10h1v1h-1zM9 10h1v1h-1zM11 10h1v1h-1zM9 11h1v1h-1zM13 11h1v1h-1zM6 12h1v1h-1zM9 12h1v1h-1zM11 12h1v1h-1zM5 13h1v1h-1zM8 13h1v1h-1zM10 13h1v1h-1z" fill-opacity="0.2"/></g>
<g transform="translate(843 237)"><path d="M5 6h8v1h-8zM10 9h1v1h-1zM9 10h1v1h-1zM9 11h1v1h-1z"/><path d="M11 7h2v1h-2zM10 8h2v1h-2zM7 9h1v1h-1zM9 9h1v1h-1zM8 10h1v1h-1z" fill-opacity="0.72"/><path d="M8 9h1v1h-1zM10 11h1v1h-1z" fill-opacity="0.45"/><path d="M4 6h1v1h-1zM13 6h1v1h-1zM6 9h1v1h-1zM8 11h1v1h-1z" fill-opacity="0.2"/></g>
<g transform="translate(857 237)"><path d="M5 8h8v1h-8z"/><path d="M5 7h8v1h-8z" fill-opacity="0.45"/><path d="M4 8h1v1h-1zM13 8h1v1h-1z" fill-opacity="0.2"/></g>
<g transform="translate(870 237)"><path d="M7 5h1v1h-1zM6 7h7v1h-7z"/><path d="M7 6h1v1h-1zM5 8h1v1h-1zM9 9h1v1h-1zM9 10h1v1h-1zM8 11h1v1h-1zM7 12h2v1h-2z" fill-opacity="0.72"/><path d="M8 5h1v1h-1zM6 6h1v1h-1zM13 7h1v1h-1zM6 8h1v1h-1zM9 8h2v1h-2zM4 9h2v1h-2zM10 9h1v1h-1zM9 11h1v1h-1z" fill-opacity="0.45"/><path d="M5 7h1v1h-1zM8 10h1v1h-1zM10 10h1v1h-1z" fill-opacity="0.2"/></g>
<g transform="translate(884 237)"><path d="M7 5h4v1h-4z"/><path d="M6 5h1v1h-1zM11 5h1v1h-1zM8 8h2v1h-2zM8 10h1v1h-1zM7 11h2v1h-2zM6 12h2v1h-2z" fill-opacity="0.72"/><path d="M5 7h8v1h-8zM5 8h3v1h-3zM10 8h3v1h-3zM8 9h2v1h-2zM9 10h1v1h-1z" fill-opacity="0.45"/></g>
<g transform="translate(897 237)"><path d="M10 7h1v1h-1zM9 8h1v1h-1zM7 9h1v1h-1z"/><path d="M11 6h1v1h-1zM8 8h1v1h-1zM9 9h1v1h-1zM9 10h1v1h-1zM9 11h1v1h-1zM9 12h1v1h-1z" fill-opacity="0.72"/><path d="M11 7h1v1h-1zM10 8h1v1h-1zM6 9h1v1h-1zM8 9h1v1h-1z" fill-opacity="0.45"/><path d="M10 6h1v1h-1zM12 6h1v1h-1zM9 7h1v1h-1zM10 9h1v1h-1zM10 10h1v1h-1zM10 11h1v1h-1zM10 12h1v1h-1z" fill-opacity="0.2"/></g>
<g transform="translate(911 237)"><path d="M6 6h1v1h-1zM10 9h1v1h-1zM9 10h1v1h-1zM7 11h1v1h-1z"/><path d="M7 6h1v1h-1zM11 8h2v1h-2zM11 9h1v1h-1zM8 10h1v1h-1zM6 11h1v1h-1zM8 11h1v1h-1z" fill-opacity="0.72"/><path d="M5 5h2v1h-2zM12 7h1v1h-1zM10 10h1v1h-1zM5 12h2v1h-2z" fill-opacity="0.45"/><path d="M5 6h1v1h-1zM7 7h1v1h-1zM13 7h1v1h-1zM9 9h1v1h-1zM7 10h1v1h-1zM5 11h1v1h-1z" fill-opacity="0.2"/></g>
<g transform="translate(924 237)"><path d="M8 5h1v1h-1zM8 6h1v1h-1zM11 7h1v1h-1zM6 12h1v1h-1z"/><path d="M12 5h1v1h-1zM7 6h1v1h-1zM9 6h3v1h-3zM5 8h1v1h-1zM10 8h1v1h-1zM10 9h1v1h-1zM9 10h1v1h-1zM7 11h2v1h-2z" fill-opacity="0.72"/><path d="M13 4h1v1h-1zM13 5h1v1h-1zM6 7h2v1h-2zM10 7h1v1h-1zM6 8h1v1h-1zM11 8h1v1h-1zM9 9h1v1h-1zM8 10h1v1h-1zM5 12h1v1h-1zM7 12h1v1h-1z" fill-opacity="0.45"/><path d="M8 4h1v1h-1zM12 4h1v1h-1zM7 5h1v1h-1zM9 5h1v1h-1zM12 6h1v1h-1zM6 11h1v1h-1z" fill-opacity="0.2"/></g>
<g transform="translate(938 237)"><path d="M6 4h1v1h-1zM8 5h1v1h-1zM5 7h4v1h-4zM5 9h1v1h-1zM8 9h1v1h-1zM5 11h1v1h-1zM8 11h1v1h-1zM12 11h1v1h-1z"/><path d="M7 4h1v1h-1zM11 4h2v1h-2zM5 5h1v1h-1zM10 5h1v1h-1zM12 5h1v1h-1zM5 6h1v1h-1zM8 6h1v1h-1zM10 6h1v1h-1zM12 6h1v1h-1zM4 7h1v1h-1zM9 7h4v1h-4zM5 8h6v1h-6zM12 8h1v1h-1zM6 9h2v1h-2zM10 9h1v1h-1zM5 10h1v1h-1zM8 10h1v1h-1zM10 10h1v1h-1zM13 10h1v1h-1zM6 11h2v1h-2zM10 11h1v1h-1zM5 12h1v1h-1zM8 12h1v1h-1zM10 12h1v1h-1z" fill-opacity="0.72"/><path d="M5 4h1v1h-1zM8 4h1v1h-1zM10 4h1v1h-1zM4 5h1v1h-1zM6 5h2v1h-2zM9 5h1v1h-1zM6 6h2v1h-2zM11 6h1v1h-1zM4 8h1v1h-1zM11 8h1v1h-1zM12 9h2v1h-2zM12 10h1v1h-1zM11 11h1v1h-1z" fill-opacity="0.45"/><path d="M6 3h1v1h-1zM4 4h1v1h-1zM9 4h1v1h-1zM13 4h1v1h-1zM11 5h1v1h-1zM13 5h1v1h-1zM13 8h1v1h-1zM9 9h1v1h-1zM11 9h1v1h-1zM6 10h1v1h-1zM9 10h1v1h-1zM11 10h1v1h-1zM9 11h1v1h-1zM13 11h1v1h-1zM6 12h1v1h-1zM9 12h1v1h-1zM11 12h1v1h-1zM5 13h1v1h-1zM8 13h1v1h-1zM10 13h1v1h-1z" fill-opacity="0.2"/></g>
<g transform="translate(28 308)"><path d="M6 4h1v1h-1zM10 4h1v1h-1zM5 5h2v1h-2zM10 5h2v1h-2zM11 6h1v1h-1zM6 7h6v1h-6zM7 8h5v1h-5zM9 9h1v1h-1zM8 10h2v1h-2zM7 11h1v1h-1zM5 12h2v1h-2zM12 12h1v1h-1z"/><path d="M7 5h1v1h-1zM9 5h1v1h-1zM4 6h2v1h-2zM7 6h1v1h-1zM9 6h1v1h-1zM12 7h1v1h-1zM6 8h1v1h-1zM12 8h1v1h-1zM5 9h2v1h-2zM8 9h1v1h-1zM7 10h1v1h-1zM12 10h1v1h-1zM8 11h2v1h-2zM12 11h1v1h-1zM9 12h1v1h-1zM11 12h1v1h-1z" fill-opacity="0.72"/><path d="M11 4h2v1h-2zM8 5h1v1h-1zM12 5h1v1h-1zM6 6h1v1h-1zM8 6h1v1h-1zM10 6h1v1h-1zM12 6h1v1h-1zM5 7h1v1h-1zM5 8h1v1h-1zM7 9h1v1h-1zM10 9h3v1h-3zM6 10h1v1h-1zM10 10h2v1h-2zM13 10h1v1h-1zM6 11h1v1h-1zM13 11h1v1h-1zM4 12h1v1h-1z" fill-opacity="0.45"/><path d="M5 4h1v1h-1zM7 4h1v1h-1zM9 4h1v1h-1zM13 4h1v1h-1zM13 5h1v1h-1zM4 7h1v1h-1zM5 10h1v1h-1zM11 11h1v1h-1zM7 12h2v1h-2zM13 12h1v1h-1zM4 13h2v1h-2zM9 13h1v1h-1z" fill-opacity="0.2"/></g>
<g transform="translate(40 308)"><path d="M5 8h8v1h-8z" fill-opacity="0.72"/><path d="M5 7h8v1h-8zM4 8h1v1h-1zM13 8h1v1h-1z" fill-opacity="0.45"/><path d="M4 7h1v1h-1zM13 7h1v1h-1z" fill-opacity="0.2"/></g>
<g transform="translate(51 308)"><path d="M8 4h1v1h-1zM7 5h1v1h-1zM10 5h1v1h-1zM6 6h6v1h-6zM7 8h1v1h-1zM10 8h1v1h-1zM5 9h1v1h-1zM7 9h1v1h-1zM10 9h1v1h-1zM7 10h1v1h-1zM7 11h1v1h-1zM12 12h1v1h-1z"/><path d="M9 4h1v1h-1zM6 5h1v1h-1zM5 6h1v1h-1zM12 6h1v1h-1zM5 7h1v1h-1zM7 7h1v1h-1zM9 7h2v1h-2zM12 7h1v1h-1zM5 8h2v1h-2zM11 8h2v1h-2zM6 9h1v1h-1zM8 9h2v1h-2zM12 9h1v1h-1zM5 10h1v1h-1zM10 10h1v1h-1zM12 10h1v1h-1zM5 11h1v1h-1zM10 11h1v1h-1zM12 11h1v1h-1zM5 12h1v1h-1zM11 12h1v1h-1z" fill-opacity="0.72"/><path d="M5 4h3v1h-3zM10 4h3v1h-3zM5 5h1v1h-1zM8 5h2v1h-2zM11 5h2v1h-2zM8 7h1v1h-1zM11 9h1v1h-1zM8 10h2v1h-2zM8 11h2v1h-2zM5 13h1v1h-1z" fill-opacity="0.45"/><path d="M8 3h1v1h-1zM4 4h1v1h-1zM13 4h1v1h-1zM4 5h1v1h-1zM13 5h1v1h-1zM4 6h1v1h-1zM4 7h1v1h-1zM6 7h1v1h-1zM11 7h1v1h-1zM4 8h1v1h-1zM9 8h1v1h-1zM4 9h1v1h-1zM4 10h1v1h-1zM6 10h1v1h-1zM11 10h1v1h-1zM4 11h1v1h-1zM6 11h1v1h-1zM11 11h1v1h-1zM4 12h1v1h-1zM11 13h1v1h-1z" fill-opacity="0.2"/></g>
<g transform="translate(63 308)"><path d="M7 4h1v1h-1zM11 4h1v1h-1zM11 6h1v1h-1zM6 7h6v1h-6zM5 12h1v1h-1zM7 12h1v1h-1zM10 12h1v1h-1zM12 12h1v1h-1z"/><path d="M6 4h1v1h-1zM8 4h3v1h-3zM6 5h1v1h-1zM11 5h1v1h-1zM6 6h1v1h-1zM4 9h2v1h-2zM7 9h1v1h-1zM9 9h2v1h-2zM12 9h1v1h-1zM4 10h1v1h-1zM7 10h1v1h-1zM9 10h1v1h-1zM4 11h1v1h-1zM7 11h1v1h-1zM4 12h1v1h-1zM6 12h1v1h-1zM9 12h1v1h-1zM11 12h1v1h-1z" fill-opacity="0.72"/><path d="M7 6h4v1h-4zM5 8h3v1h-3zM10 8h3v1h-3zM6 9h1v1h-1zM8 9h1v1h-1zM11 9h1v1h-1zM13 9h1v1h-1zM5 10h1v1h-1zM8 10h1v1h-1zM10 10h1v1h-1zM12 10h2v1h-2zM5 11h1v1h-1zM8 11h3v1h-3zM12 11h2v1h-2zM8 12h1v1h-1zM13 12h1v1h-1z" fill-opacity="0.45"/><path d="M7 5h1v1h-1zM10 5h1v1h-1zM4 8h1v1h-1zM9 8h1v1h-1zM4 13h1v1h-1zM9 13h1v1h-1z" fill-opacity="0.2"/></g>
<g transform="translate(28 320)"><path d="M5 4h1v1h-1zM5 5h1v1h-1zM10 5h1v1h-1zM10 6h1v1h-1zM8 7h1v1h-1zM5 9h2v1h-2zM9 10h1v1h-1zM11 10h1v1h-1zM5 11h3v1h-3zM7 12h1v1h-1zM12 12h1v1h-1z"/><path d="M8 4h3v1h-3zM12 4h1v1h-1zM4 5h1v1h-1zM6 5h3v1h-3zM12 5h2v1h-2zM5 6h2v1h-2zM8 6h2v1h-2zM11 6h3v1h-3zM5 7h1v1h-1zM9 7h5v1h-5zM8 8h1v1h-1zM10 8h1v1h-1zM13 8h1v1h-1zM4 9h1v1h-1zM7 9h3v1h-3zM11 9h1v1h-1zM13 9h1v1h-1zM4 10h1v1h-1zM6 10h3v1h-3zM10 10h1v1h-1zM13 10h1v1h-1zM4 11h1v1h-1zM13 11h1v1h-1zM4 12h1v1h-1zM6 12h1v1h-1z" fill-opacity="0.72"/><path d="M6 4h2v1h-2zM11 4h1v1h-1zM13 4h1v1h-1zM9 5h1v1h-1zM11 5h1v1h-1zM4 6h1v1h-1zM7 6h1v1h-1zM4 7h1v1h-1zM6 7h2v1h-2zM5 8h3v1h-3zM9 8h1v1h-1zM11 8h2v1h-2zM12 9h1v1h-1zM5 10h1v1h-1zM12 10h1v1h-1zM8 11h2v1h-2zM11 11h2v1h-2zM5 12h1v1h-1zM11 12h1v1h-1zM13 12h1v1h-1z" fill-opacity="0.45"/><path d="M5 3h1v1h-1zM4 4h1v1h-1zM4 8h1v1h-1zM10 9h1v1h-1zM10 11h1v1h-1zM4 13h1v1h-1zM6 13h1v1h-1zM12 13h1v1h-1z" fill-opacity="0.2"/></g>
<g transform="translate(46 320)"><path d="M10 4h1v1h-1zM8 6h5v1h-5zM6 7h1v1h-1zM8 7h4v1h-4zM10 9h1v1h-1zM10 10h1v1h-1zM6 11h1v1h-1zM8 12h5v1h-5z"/><path d="M5 4h1v1h-1zM8 4h2v1h-2zM11 4h1v1h-1zM9 5h2v1h-2zM7 6h1v1h-1zM12 7h1v1h-1zM6 8h1v1h-1zM9 8h2v1h-2zM6 9h1v1h-1zM8 9h2v1h-2zM11 9h1v1h-1zM6 10h4v1h-4zM11 10h2v1h-2zM5 11h1v1h-1zM7 11h1v1h-1zM10 11h1v1h-1zM7 12h1v1h-1z" fill-opacity="0.72"/><path d="M12 4h1v1h-1zM5 5h2v1h-2zM8 5h1v1h-1zM11 5h1v1h-1zM4 6h3v1h-3zM4 7h2v1h-2zM7 7h1v1h-1zM7 8h2v1h-2zM11 8h2v1h-2zM7 9h1v1h-1zM12 9h1v1h-1zM9 11h1v1h-1zM4 12h2v1h-2zM13 12h1v1h-1z" fill-opacity="0.45"/><path d="M10 3h1v1h-1zM4 4h1v1h-1zM6 4h2v1h-2zM12 5h1v1h-1zM13 6h1v1h-1zM5 8h1v1h-1zM5 9h1v1h-1zM5 10h1v1h-1zM13 10h1v1h-1zM8 11h1v1h-1zM6 12h1v1h-1z" fill-opacity="0.2"/></g>
<g transform="translate(63 320)"><path d="M6 4h1v1h-1zM8 5h1v1h-1zM5 7h4v1h-4zM5 9h1v1h-1zM8 9h1v1h-1zM5 11h1v1h-1zM8 11h1v1h-1zM12 11h1v1h-1z"/><path d="M7 4h1v1h-1zM11 4h2v1h-2zM5 5h1v1h-1zM10 5h1v1h-1zM12 5h1v1h-1zM5 6h1v1h-1zM8 6h1v1h-1zM10 6h1v1h-1zM12 6h1v1h-1zM4 7h1v1h-1zM9 7h4v1h-4zM5 8h6v1h-6zM12 8h1v1h-1zM6 9h2v1h-2zM10 9h1v1h-1zM5 10h1v1h-1zM8 10h1v1h-1zM10 10h1v1h-1zM13 10h1v1h-1zM6 11h2v1h-2zM10 11h1v1h-1zM5 12h1v1h-1zM8 12h1v1h-1zM10 12h1v1h-1z" fill-opacity="0.72"/><path d="M5 4h1v1h-1zM8 4h1v1h-1zM10 4h1v1h-1zM4 5h1v1h-1zM6 5h2v1h-2zM9 5h1v1h-1zM6 6h2v1h-2zM11 6h1v1h-1zM4 8h1v1h-1zM11 8h1v1h-1zM12 9h2v1h-2zM12 10h1v1h-1zM11 11h1v1h-1z" fill-opacity="0.45"/><path d="M6 3h1v1h-1zM4 4h1v1h-1zM9 4h1v1h-1zM13 4h1v1h-1zM11 5h1v1h-1zM13 5h1v1h-1zM13 8h1v1h-1zM9 9h1v1h-1zM11 9h1v1h-1zM6 10h1v1h-1zM9 10h1v1h-1zM11 10h1v1h-1zM9 11h1v1h-1zM13 11h1v1h-1zM6 12h1v1h-1zM9 12h1v1h-1zM11 12h1v1h-1zM5 13h1v1h-1zM8 13h1v1h-1zM10 13h1v1h-1z" fill-opacity="0.2"/></g>
<g transform="translate(131 307)"><path d="M6 4h1v1h-1zM10 4h1v1h-1zM5 5h2v1h-2zM10 5h2v1h-2zM11 6h1v1h-1zM6 7h6v1h-6zM7 8h5v1h-5zM9 9h1v1h-1zM8 10h2v1h-2zM7 11h1v1h-1zM5 12h2v1h-2zM12 12h1v1h-1z"/><path d="M7 5h1v1h-1zM9 5h1v1h-1zM4 6h2v1h-2zM7 6h1v1h-1zM9 6h1v1h-1zM12 7h1v1h-1zM6 8h1v1h-1zM12 8h1v1h-1zM5 9h2v1h-2zM8 9h1v1h-1zM7 10h1v1h-1zM12 10h1v1h-1zM8 11h2v1h-2zM12 11h1v1h-1zM9 12h1v1h-1zM11 12h1v1h-1z" fill-opacity="0.72"/><path d="M11 4h2v1h-2zM8 5h1v1h-1zM12 5h1v1h-1zM6 6h1v1h-1zM8 6h1v1h-1zM10 6h1v1h-1zM12 6h1v1h-1zM5 7h1v1h-1zM5 8h1v1h-1zM7 9h1v1h-1zM10 9h3v1h-3zM6 10h1v1h-1zM10 10h2v1h-2zM13 10h1v1h-1zM6 11h1v1h-1zM13 11h1v1h-1zM4 12h1v1h-1z" fill-opacity="0.45"/><path d="M5 4h1v1h-1zM7 4h1v1h-1zM9 4h1v1h-1zM13 4h1v1h-1zM13 5h1v1h-1zM4 7h1v1h-1zM5 10h1v1h-1zM11 11h1v1h-1zM7 12h2v1h-2zM13 12h1v1h-1zM4 13h2v1h-2zM9 13h1v1h-1z" fill-opacity="0.2"/></g>
<g transform="translate(143 307)"><path d="M5 11h8v1h-8z"/><path d="M6 5h7v1h-7zM4 11h1v1h-1z" fill-opacity="0.72"/><path d="M5 5h1v1h-1zM13 11h1v1h-1z" fill-opacity="0.45"/><path d="M4 12h1v1h-1zM13 12h1v1h-1z" fill-opacity="0.2"/></g>
<g transform="translate(154 307)"><path d="M8 4h1v1h-1zM7 5h1v1h-1zM10 5h1v1h-1zM6 6h6v1h-6zM7 8h1v1h-1zM10 8h1v1h-1zM5 9h1v1h-1zM7 9h1v1h-1zM10 9h1v1h-1zM7 10h1v1h-1zM7 11h1v1h-1zM12 12h1v1h-1z"/><path d="M9 4h1v1h-1zM6 5h1v1h-1zM5 6h1v1h-1zM12 6h1v1h-1zM5 7h1v1h-1zM7 7h1v1h-1zM9 7h2v1h-2zM12 7h1v1h-1zM5 8h2v1h-2zM11 8h2v1h-2zM6 9h1v1h-1zM8 9h2v1h-2zM12 9h1v1h-1zM5 10h1v1h-1zM10 10h1v1h-1zM12 10h1v1h-1zM5 11h1v1h-1zM10 11h1v1h-1zM12 11h1v1h-1zM5 12h1v1h-1zM11 12h1v1h-1z" fill-opacity="0.72"/><path d="M5 4h3v1h-3zM10 4h3v1h-3zM5 5h1v1h-1zM8 5h2v1h-2zM11 5h2v1h-2zM8 7h1v1h-1zM11 9h1v1h-1zM8 10h2v1h-2zM8 11h2v1h-2zM5 13h1v1h-1z" fill-opacity="0.45"/><path d="M8 3h1v1h-1zM4 4h1v1h-1zM13 4h1v1h-1zM4 5h1v1h-1zM13 5h1v1h-1zM4 6h1v1h-1zM4 7h1v1h-1zM6 7h1v1h-1zM11 7h1v1h-1zM4 8h1v1h-1zM9 8h1v1h-1zM4 9h1v1h-1zM4 10h1v1h-1zM6 10h1v1h-1zM11 10h1v1h-1zM4 11h1v1h-1zM6 11h1v1h-1zM11 11h1v1h-1zM4 12h1v1h-1zM11 13h1v1h-1z" fill-opacity="0.2"/></g>
<g transform="translate(166 307)"><path d="M7 4h1v1h-1zM11 4h1v1h-1zM11 6h1v1h-1zM6 7h6v1h-6zM5 12h1v1h-1zM7 12h1v1h-1zM10 12h1v1h-1zM12 12h1v1h-1z"/><path d="M6 4h1v1h-1zM8 4h3v1h-3zM6 5h1v1h-1zM11 5h1v1h-1zM6 6h1v1h-1zM4 9h2v1h-2zM7 9h1v1h-1zM9 9h2v1h-2zM12 9h1v1h-1zM4 10h1v1h-1zM7 10h1v1h-1zM9 10h1v1h-1zM4 11h1v1h-1zM7 11h1v1h-1zM4 12h1v1h-1zM6 12h1v1h-1zM9 12h1v1h-1zM11 12h1v1h-1z" fill-opacity="0.72"/><path d="M7 6h4v1h-4zM5 8h3v1h-3zM10 8h3v1h-3zM6 9h1v1h-1zM8 9h1v1h-1zM11 9h1v1h-1zM13 9h1v1h-1zM5 10h1v1h-1zM8 10h1v1h-1zM10 10h1v1h-1zM12 10h2v1h-2zM5 11h1v1h-1zM8 11h3v1h-3zM12 11h2v1h-2zM8 12h1v1h-1zM13 12h1v1h-1z" fill-opacity="0.45"/><path d="M7 5h1v1h-1zM10 5h1v1h-1zM4 8h1v1h-1zM9 8h1v1h-1zM4 13h1v1h-1zM9 13h1v1h-1z" fill-opacity="0.2"/></g>
<g transform="translate(131 320)"><path d="M5 4h1v1h-1zM5 5h1v1h-1zM10 5h1v1h-1zM10 6h1v1h-1zM8 7h1v1h-1zM5 9h2v1h-2zM9 10h1v1h-1zM11 10h1v1h-1zM5 11h3v1h-3zM7 12h1v1h-1zM12 12h1v1h-1z"/><path d="M8 4h3v1h-3zM12 4h1v1h-1zM4 5h1v1h-1zM6 5h3v1h-3zM12 5h2v1h-2zM5 6h2v1h-2zM8 6h2v1h-2zM11 6h3v1h-3zM5 7h1v1h-1zM9 7h5v1h-5zM8 8h1v1h-1zM10 8h1v1h-1zM13 8h1v1h-1zM4 9h1v1h-1zM7 9h3v1h-3zM11 9h1v1h-1zM13 9h1v1h-1zM4 10h1v1h-1zM6 10h3v1h-3zM10 10h1v1h-1zM13 10h1v1h-1zM4 11h1v1h-1zM13 11h1v1h-1zM4 12h1v1h-1zM6 12h1v1h-1z" fill-opacity="0.72"/><path d="M6 4h2v1h-2zM11 4h1v1h-1zM13 4h1v1h-1zM9 5h1v1h-1zM11 5h1v1h-1zM4 6h1v1h-1zM7 6h1v1h-1zM4 7h1v1h-1zM6 7h2v1h-2zM5 8h3v1h-3zM9 8h1v1h-1zM11 8h2v1h-2zM12 9h1v1h-1zM5 10h1v1h-1zM12 10h1v1h-1zM8 11h2v1h-2zM11 11h2v1h-2zM5 12h1v1h-1zM11 12h1v1h-1zM13 12h1v1h-1z" fill-opacity="0.45"/><path d="M5 3h1v1h-1zM4 4h1v1h-1zM4 8h1v1h-1zM10 9h1v1h-1zM10 11h1v1h-1zM4 13h1v1h-1zM6 13h1v1h-1zM12 13h1v1h-1z" fill-opacity="0.2"/></g>
<g transform="translate(148 320)"><path d="M10 4h1v1h-1zM8 6h5v1h-5zM6 7h1v1h-1zM8 7h4v1h-4zM10 9h1v1h-1zM10 10h1v1h-1zM6 11h1v1h-1zM8 12h5v1h-5z"/><path d="M5 4h1v1h-1zM8 4h2v1h-2zM11 4h1v1h-1zM9 5h2v1h-2zM7 6h1v1h-1zM12 7h1v1h-1zM6 8h1v1h-1zM9 8h2v1h-2zM6 9h1v1h-1zM8 9h2v1h-2zM11 9h1v1h-1zM6 10h4v1h-4zM11 10h2v1h-2zM5 11h1v1h-1zM7 11h1v1h-1zM10 11h1v1h-1zM7 12h1v1h-1z" fill-opacity="0.72"/><path d="M12 4h1v1h-1zM5 5h2v1h-2zM8 5h1v1h-1zM11 5h1v1h-1zM4 6h3v1h-3zM4 7h2v1h-2zM7 7h1v1h-1zM7 8h2v1h-2zM11 8h2v1h-2zM7 9h1v1h-1zM12 9h1v1h-1zM9 11h1v1h-1zM4 12h2v1h-2zM13 12h1v1h-1z" fill-opacity="0.45"/><path d="M10 3h1v1h-1zM4 4h1v1h-1zM6 4h2v1h-2zM12 5h1v1h-1zM13 6h1v1h-1zM5 8h1v1h-1zM5 9h1v1h-1zM5 10h1v1h-1zM13 10h1v1h-1zM8 11h1v1h-1zM6 12h1v1h-1z" fill-opacity="0.2"/></g>
<g transform="translate(166 320)"><path d="M6 4h1v1h-1zM8 5h1v1h-1zM5 7h4v1h-4zM5 9h1v1h-1zM8 9h1v1h-1zM5 11h1v1h-1zM8 11h1v1h-1zM12 11h1v1h-1z"/><path d="M7 4h1v1h-1zM11 4h2v1h-2zM5 5h1v1h-1zM10 5h1v1h-1zM12 5h1v1h-1zM5 6h1v1h-1zM8 6h1v1h-1zM10 6h1v1h-1zM12 6h1v1h-1zM4 7h1v1h-1zM9 7h4v1h-4zM5 8h6v1h-6zM12 8h1v1h-1zM6 9h2v1h-2zM10 9h1v1h-1zM5 10h1v1h-1zM8 10h1v1h-1zM10 10h1v1h-1zM13 10h1v1h-1zM6 11h2v1h-2zM10 11h1v1h-1zM5 12h1v1h-1zM8 12h1v1h-1zM10 12h1v1h-1z" fill-opacity="0.72"/><path d="M5 4h1v1h-1zM8 4h1v1h-1zM10 4h1v1h-1zM4 5h1v1h-1zM6 5h2v1h-2zM9 5h1v1h-1zM6 6h2v1h-2zM11 6h1v1h-1zM4 8h1v1h-1zM11 8h1v1h-1zM12 9h2v1h-2zM12 10h1v1h-1zM11 11h1v1h-1z" fill-opacity="0.45"/><path d="M6 3h1v1h-1zM4 4h1v1h-1zM9 4h1v1h-1zM13 4h1v1h-1zM11 5h1v1h-1zM13 5h1v1h-1zM13 8h1v1h-1zM9 9h1v1h-1zM11 9h1v1h-1zM6 10h1v1h-1zM9 10h1v1h-1zM11 10h1v1h-1zM9 11h1v1h-1zM13 11h1v1h-1zM6 12h1v1h-1zM9 12h1v1h-1zM11 12h1v1h-1zM5 13h1v1h-1zM8 13h1v1h-1zM10 13h1v1h-1z" fill-opacity="0.2"/></g>
<g transform="translate(219 309)"><path d="M6 4h1v1h-1zM10 4h1v1h-1zM5 5h2v1h-2zM10 5h2v1h-2zM11 6h1v1h-1zM6 7h6v1h-6zM7 8h5v1h-5zM9 9h1v1h-1zM8 10h2v1h-2zM7 11h1v1h-1zM5 12h2v1h-2zM12 12h1v1h-1z"/><path d="M7 5h1v1h-1zM9 5h1v1h-1zM4 6h2v1h-2zM7 6h1v1h-1zM9 6h1v1h-1zM12 7h1v1h-1zM6 8h1v1h-1zM12 8h1v1h-1zM5 9h2v1h-2zM8 9h1v1h-1zM7 10h1v1h-1zM12 10h1v1h-1zM8 11h2v1h-2zM12 11h1v1h-1zM9 12h1v1h-1zM11 12h1v1h-1z" fill-opacity="0.72"/><path d="M11 4h2v1h-2zM8 5h1v1h-1zM12 5h1v1h-1zM6 6h1v1h-1zM8 6h1v1h-1zM10 6h1v1h-1zM12 6h1v1h-1zM5 7h1v1h-1zM5 8h1v1h-1zM7 9h1v1h-1zM10 9h3v1h-3zM6 10h1v1h-1zM10 10h2v1h-2zM13 10h1v1h-1zM6 11h1v1h-1zM13 11h1v1h-1zM4 12h1v1h-1z" fill-opacity="0.45"/><path d="M5 4h1v1h-1zM7 4h1v1h-1zM9 4h1v1h-1zM13 4h1v1h-1zM13 5h1v1h-1zM4 7h1v1h-1zM5 10h1v1h-1zM11 11h1v1h-1zM7 12h2v1h-2zM13 12h1v1h-1zM4 13h2v1h-2zM9 13h1v1h-1z" fill-opacity="0.2"/></g>
<g transform="translate(231 309)"><path d="M6 8h6v1h-6z"/><path d="M5 4h8v1h-8zM5 12h8v1h-8z" fill-opacity="0.72"/><path d="M5 5h8v1h-8zM5 8h1v1h-1zM5 11h8v1h-8zM4 12h1v1h-1zM13 12h1v1h-1z" fill-opacity="0.45"/><path d="M4 4h1v1h-1zM12 8h1v1h-1zM4 11h1v1h-1zM13 11h1v1h-1z" fill-opacity="0.2"/></g>
<g transform="translate(242 309)"><path d="M8 4h1v1h-1zM7 5h1v1h-1zM10 5h1v1h-1zM6 6h6v1h-6zM7 8h1v1h-1zM10 8h1v1h-1zM5 9h1v1h-1zM7 9h1v1h-1zM10 9h1v1h-1zM7 10h1v1h-1zM7 11h1v1h-1zM12 12h1v1h-1z"/><path d="M9 4h1v1h-1zM6 5h1v1h-1zM5 6h1v1h-1zM12 6h1v1h-1zM5 7h1v1h-1zM7 7h1v1h-1zM9 7h2v1h-2zM12 7h1v1h-1zM5 8h2v1h-2zM11 8h2v1h-2zM6 9h1v1h-1zM8 9h2v1h-2zM12 9h1v1h-1zM5 10h1v1h-1zM10 10h1v1h-1zM12 10h1v1h-1zM5 11h1v1h-1zM10 11h1v1h-1zM12 11h1v1h-1zM5 12h1v1h-1zM11 12h1v1h-1z" fill-opacity="0.72"/><path d="M5 4h3v1h-3zM10 4h3v1h-3zM5 5h1v1h-1zM8 5h2v1h-2zM11 5h2v1h-2zM8 7h1v1h-1zM11 9h1v1h-1zM8 10h2v1h-2zM8 11h2v1h-2zM5 13h1v1h-1z" fill-opacity="0.45"/><path d="M8 3h1v1h-1zM4 4h1v1h-1zM13 4h1v1h-1zM4 5h1v1h-1zM13 5h1v1h-1zM4 6h1v1h-1zM4 7h1v1h-1zM6 7h1v1h-1zM11 7h1v1h-1zM4 8h1v1h-1zM9 8h1v1h-1zM4 9h1v1h-1zM4 10h1v1h-1zM6 10h1v1h-1zM11 10h1v1h-1zM4 11h1v1h-1zM6 11h1v1h-1zM11 11h1v1h-1zM4 12h1v1h-1zM11 13h1v1h-1z" fill-opacity="0.2"/></g>
<g transform="translate(254 309)"><path d="M7 4h1v1h-1zM11 4h1v1h-1zM11 6h1v1h-1zM6 7h6v1h-6zM5 12h1v1h-1zM7 12h1v1h-1zM10 12h1v1h-1zM12 12h1v1h-1z"/><path d="M6 4h1v1h-1zM8 4h3v1h-3zM6 5h1v1h-1zM11 5h1v1h-1zM6 6h1v1h-1zM4 9h2v1h-2zM7 9h1v1h-1zM9 9h2v1h-2zM12 9h1v1h-1zM4 10h1v1h-1zM7 10h1v1h-1zM9 10h1v1h-1zM4 11h1v1h-1zM7 11h1v1h-1zM4 12h1v1h-1zM6 12h1v1h-1zM9 12h1v1h-1zM11 12h1v1h-1z" fill-opacity="0.72"/><path d="M7 6h4v1h-4zM5 8h3v1h-3zM10 8h3v1h-3zM6 9h1v1h-1zM8 9h1v1h-1zM11 9h1v1h-1zM13 9h1v1h-1zM5 10h1v1h-1zM8 10h1v1h-1zM10 10h1v1h-1zM12 10h2v1h-2zM5 11h1v1h-1zM8 11h3v1h-3zM12 11h2v1h-2zM8 12h1v1h-1zM13 12h1v1h-1z" fill-opacity="0.45"/><path d="M7 5h1v1h-1zM10 5h1v1h-1zM4 8h1v1h-1zM9 8h1v1h-1zM4 13h1v1h-1zM9 13h1v1h-1z" fill-opacity="0.2"/></g>
<g transform="translate(219 321)"><path d="M5 4h1v1h-1zM5 5h1v1h-1zM10 5h1v1h-1zM10 6h1v1h-1zM8 7h1v1h-1zM5 9h2v1h-2zM9 10h1v1h-1zM11 10h1v1h-1zM5 11h3v1h-3zM7 12h1v1h-1zM12 12h1v1h-1z"/><path d="M8 4h3v1h-3zM12 4h1v1h-1zM4 5h1v1h-1zM6 5h3v1h-3zM12 5h2v1h-2zM5 6h2v1h-2zM8 6h2v1h-2zM11 6h3v1h-3zM5 7h1v1h-1zM9 7h5v1h-5zM8 8h1v1h-1zM10 8h1v1h-1zM13 8h1v1h-1zM4 9h1v1h-1zM7 9h3v1h-3zM11 9h1v1h-1zM13 9h1v1h-1zM4 10h1v1h-1zM6 10h3v1h-3zM10 10h1v1h-1zM13 10h1v1h-1zM4 11h1v1h-1zM13 11h1v1h-1zM4 12h1v1h-1zM6 12h1v1h-1z" fill-opacity="0.72"/><path d="M6 4h2v1h-2zM11 4h1v1h-1zM13 4h1v1h-1zM9 5h1v1h-1zM11 5h1v1h-1zM4 6h1v1h-1zM7 6h1v1h-1zM4 7h1v1h-1zM6 7h2v1h-2zM5 8h3v1h-3zM9 8h1v1h-1zM11 8h2v1h-2zM12 9h1v1h-1zM5 10h1v1h-1zM12 10h1v1h-1zM8 11h2v1h-2zM11 11h2v1h-2zM5 12h1v1h-1zM11 12h1v1h-1zM13 12h1v1h-1z" fill-opacity="0.45"/><path d="M5 3h1v1h-1zM4 4h1v1h-1zM4 8h1v1h-1zM10 9h1v1h-1zM10 11h1v1h-1zM4 13h1v1h-1zM6 13h1v1h-1zM12 13h1v1h-1z" fill-opacity="0.2"/></g>
<g transform="translate(236 321)"><path d="M10 4h1v1h-1zM8 6h5v1h-5zM6 7h1v1h-1zM8 7h4v1h-4zM10 9h1v1h-1zM10 10h1v1h-1zM6 11h1v1h-1zM8 12h5v1h-5z"/><path d="M5 4h1v1h-1zM8 4h2v1h-2zM11 4h1v1h-1zM9 5h2v1h-2zM7 6h1v1h-1zM12 7h1v1h-1zM6 8h1v1h-1zM9 8h2v1h-2zM6 9h1v1h-1zM8 9h2v1h-2zM11 9h1v1h-1zM6 10h4v1h-4zM11 10h2v1h-2zM5 11h1v1h-1zM7 11h1v1h-1zM10 11h1v1h-1zM7 12h1v1h-1z" fill-opacity="0.72"/><path d="M12 4h1v1h-1zM5 5h2v1h-2zM8 5h1v1h-1zM11 5h1v1h-1zM4 6h3v1h-3zM4 7h2v1h-2zM7 7h1v1h-1zM7 8h2v1h-2zM11 8h2v1h-2zM7 9h1v1h-1zM12 9h1v1h-1zM9 11h1v1h-1zM4 12h2v1h-2zM13 12h1v1h-1z" fill-opacity="0.45"/><path d="M10 3h1v1h-1zM4 4h1v1h-1zM6 4h2v1h-2zM12 5h1v1h-1zM13 6h1v1h-1zM5 8h1v1h-1zM5 9h1v1h-1zM5 10h1v1h-1zM13 10h1v1h-1zM8 11h1v1h-1zM6 12h1v1h-1z" fill-opacity="0.2"/></g>
<g transform="translate(254 321)"><path d="M6 4h1v1h-1zM8 5h1v1h-1zM5 7h4v1h-4zM5 9h1v1h-1zM8 9h1v1h-1zM5 11h1v1h-1zM8 11h1v1h-1zM12 11h1v1h-1z"/><path d="M7 4h1v1h-1zM11 4h2v1h-2zM5 5h1v1h-1zM10 5h1v1h-1zM12 5h1v1h-1zM5 6h1v1h-1zM8 6h1v1h-1zM10 6h1v1h-1zM12 6h1v1h-1zM4 7h1v1h-1zM9 7h4v1h-4zM5 8h6v1h-6zM12 8h1v1h-1zM6 9h2v1h-2zM10 9h1v1h-1zM5 10h1v1h-1zM8 10h1v1h-1zM10 10h1v1h-1zM13 10h1v1h-1zM6 11h2v1h-2zM10 11h1v1h-1zM5 12h1v1h-1zM8 12h1v1h-1zM10 12h1v1h-1z" fill-opacity="0.72"/><path d="M5 4h1v1h-1zM8 4h1v1h-1zM10 4h1v1h-1zM4 5h1v1h-1zM6 5h2v1h-2zM9 5h1v1h-1zM6 6h2v1h-2zM11 6h1v1h-1zM4 8h1v1h-1zM11 8h1v1h-1zM12 9h2v1h-2zM12 10h1v1h-1zM11 11h1v1h-1z" fill-opacity="0.45"/><path d="M6 3h1v1h-1zM4 4h1v1h-1zM9 4h1v1h-1zM13 4h1v1h-1zM11 5h1v1h-1zM13 5h1v1h-1zM13 8h1v1h-1zM9 9h1v1h-1zM11 9h1v1h-1zM6 10h1v1h-1zM9 10h1v1h-1zM11 10h1v1h-1zM9 11h1v1h-1zM13 11h1v1h-1zM6 12h1v1h-1zM9 12h1v1h-1zM11 12h1v1h-1zM5 13h1v1h-1zM8 13h1v1h-1zM10 13h1v1h-1z" fill-opacity="0.2"/></g>
<g transform="translate(57 356)"><path d="M8 7h1v1h-1zM9 8h1v1h-1zM11 9h1v1h-1zM12 10h1v1h-1z"/><path d="M6 7h2v1h-2zM5 8h1v1h-1zM10 8h1v1h-1zM10 9h1v1h-1zM13 10h1v1h-1z" fill-opacity="0.72"/><path d="M7 6h1v1h-1zM9 7h1v1h-1zM6 8h1v1h-1zM4 9h2v1h-2zM11 10h1v1h-1z" fill-opacity="0.45"/><path d="M8 6h1v1h-1zM8 8h1v1h-1zM12 9h1v1h-1z" fill-opacity="0.2"/></g>
<g transform="translate(75 356)"><path d="M9 11h2v1h-2z"/><path d="M9 5h1v1h-1zM6 6h1v1h-1zM9 6h1v1h-1zM6 7h1v1h-1zM9 7h1v1h-1zM6 8h1v1h-1zM9 8h1v1h-1zM6 9h1v1h-1zM9 9h1v1h-1zM12 9h1v1h-1zM6 10h1v1h-1zM9 10h1v1h-1zM11 10h1v1h-1zM5 11h1v1h-1z" fill-opacity="0.72"/><path d="M7 6h1v1h-1zM7 7h1v1h-1zM7 8h1v1h-1zM13 8h1v1h-1zM13 9h1v1h-1zM5 10h1v1h-1zM12 10h1v1h-1zM6 11h1v1h-1zM11 11h1v1h-1zM4 12h2v1h-2zM9 12h1v1h-1z" fill-opacity="0.45"/><path d="M6 5h1v1h-1zM8 5h1v1h-1zM8 6h1v1h-1zM8 7h1v1h-1zM8 8h1v1h-1zM7 9h2v1h-2zM8 10h1v1h-1zM10 10h1v1h-1zM4 11h1v1h-1zM8 11h1v1h-1zM10 12h1v1h-1z" fill-opacity="0.2"/></g>
<g transform="translate(93 356)"><path d="M10 6h1v1h-1zM10 7h1v1h-1zM9 9h1v1h-1zM6 11h1v1h-1z"/><path d="M6 6h4v1h-4zM11 6h1v1h-1zM9 8h1v1h-1zM8 9h1v1h-1zM10 9h1v1h-1zM7 10h2v1h-2zM11 10h1v1h-1zM5 11h1v1h-1zM11 11h2v1h-2z" fill-opacity="0.72"/><path d="M6 5h5v1h-5zM10 8h1v1h-1zM10 10h1v1h-1zM7 11h1v1h-1zM5 12h1v1h-1z" fill-opacity="0.45"/><path d="M5 6h1v1h-1zM9 7h1v1h-1zM11 7h1v1h-1z" fill-opacity="0.2"/></g>
<g transform="translate(57 368)"><path d="M7 5h1v1h-1zM6 7h7v1h-7z"/><path d="M7 6h1v1h-1zM5 8h1v1h-1zM9 9h1v1h-1zM9 10h1v1h-1zM8 11h1v1h-1zM7 12h2v1h-2z" fill-opacity="0.72"/><path d="M8 5h1v1h-1zM6 6h1v1h-1zM13 7h1v1h-1zM6 8h1v1h-1zM9 8h2v1h-2zM4 9h2v1h-2zM10 9h1v1h-1zM9 11h1v1h-1z" fill-opacity="0.45"/><path d="M5 7h1v1h-1zM8 10h1v1h-1zM10 10h1v1h-1z" fill-opacity="0.2"/></g>
<g transform="translate(75 368)"><path d="M5 5h7v1h-7z"/><path d="M12 5h1v1h-1zM12 6h1v1h-1zM8 7h1v1h-1zM11 7h1v1h-1zM8 8h1v1h-1zM8 9h1v1h-1zM8 10h1v1h-1zM7 11h1v1h-1zM6 12h1v1h-1z" fill-opacity="0.72"/><path d="M11 6h1v1h-1zM9 7h2v1h-2zM9 8h2v1h-2zM7 10h1v1h-1z" fill-opacity="0.45"/><path d="M4 5h1v1h-1zM13 5h1v1h-1zM13 6h1v1h-1zM7 9h1v1h-1zM6 11h1v1h-1zM8 11h1v1h-1zM5 12h1v1h-1zM7 12h1v1h-1z" fill-opacity="0.2"/></g>
<g transform="translate(58 398)"><path d="M7 6h1v1h-1zM12 6h1v1h-1zM7 7h1v1h-1zM10 7h2v1h-2zM7 10h1v1h-1zM5 11h3v1h-3zM10 12h1v1h-1zM12 12h1v1h-1z"/><path d="M7 4h1v1h-1zM10 4h1v1h-1zM7 5h1v1h-1zM10 5h1v1h-1zM10 6h2v1h-2zM7 8h1v1h-1zM10 8h1v1h-1zM7 9h1v1h-1zM10 9h1v1h-1zM10 10h1v1h-1zM4 11h1v1h-1zM10 11h1v1h-1zM13 11h1v1h-1zM7 12h1v1h-1zM11 12h1v1h-1zM13 12h1v1h-1z" fill-opacity="0.72"/><path d="M8 4h2v1h-2zM9 5h1v1h-1zM12 5h1v1h-1zM4 6h3v1h-3zM9 6h1v1h-1zM5 7h2v1h-2zM9 7h1v1h-1zM9 8h1v1h-1zM9 9h1v1h-1zM9 10h1v1h-1zM13 10h1v1h-1zM9 11h1v1h-1zM4 12h1v1h-1zM9 12h1v1h-1z" fill-opacity="0.45"/><path d="M7 3h1v1h-1zM10 3h1v1h-1zM8 5h1v1h-1zM13 5h1v1h-1zM8 6h1v1h-1zM13 6h1v1h-1zM4 7h1v1h-1zM8 7h1v1h-1zM12 7h1v1h-1zM8 8h1v1h-1zM8 9h1v1h-1zM6 10h1v1h-1zM8 10h1v1h-1zM8 11h1v1h-1zM12 11h1v1h-1zM5 12h1v1h-1zM8 12h1v1h-1zM7 13h1v1h-1z" fill-opacity="0.2"/></g>
<g transform="translate(76 398)"><path d="M8 5h1v1h-1zM7 6h2v1h-2zM8 8h1v1h-1zM10 8h3v1h-3zM7 9h3v1h-3zM11 9h1v1h-1zM11 11h1v1h-1zM11 12h1v1h-1z"/><path d="M5 4h1v1h-1zM8 4h1v1h-1zM6 5h1v1h-1zM9 5h4v1h-4zM9 6h3v1h-3zM5 7h6v1h-6zM12 7h1v1h-1zM6 8h2v1h-2zM9 8h1v1h-1zM10 9h1v1h-1zM12 9h1v1h-1zM5 10h1v1h-1zM7 10h1v1h-1zM10 10h2v1h-2zM5 11h1v1h-1zM8 11h3v1h-3zM12 11h1v1h-1zM4 12h2v1h-2zM10 12h1v1h-1z" fill-opacity="0.72"/><path d="M5 5h1v1h-1zM7 5h1v1h-1zM4 6h1v1h-1zM12 6h1v1h-1zM4 7h1v1h-1zM11 7h1v1h-1zM13 8h1v1h-1zM5 9h2v1h-2zM13 9h1v1h-1zM8 10h2v1h-2zM12 10h1v1h-1zM7 11h1v1h-1zM13 11h1v1h-1zM10 13h1v1h-1z" fill-opacity="0.45"/><path d="M4 4h1v1h-1zM9 4h1v1h-1zM5 6h2v1h-2zM5 8h1v1h-1zM6 10h1v1h-1zM4 11h1v1h-1zM9 12h1v1h-1zM12 12h1v1h-1zM5 13h1v1h-1zM11 13h1v1h-1z" fill-opacity="0.2"/></g>
<g transform="translate(94 398)"><path d="M5 5h1v1h-1zM8 5h4v1h-4zM9 6h1v1h-1zM5 7h2v1h-2zM8 8h1v1h-1zM11 8h1v1h-1zM8 9h1v1h-1zM11 9h1v1h-1zM6 11h1v1h-1zM8 12h5v1h-5z"/><path d="M8 4h1v1h-1zM11 4h1v1h-1zM7 5h1v1h-1zM12 5h1v1h-1zM8 7h1v1h-1zM11 7h1v1h-1zM6 8h1v1h-1zM9 8h2v1h-2zM6 9h1v1h-1zM9 9h2v1h-2zM6 10h1v1h-1zM8 10h1v1h-1zM11 10h1v1h-1zM5 11h1v1h-1zM8 11h3v1h-3zM7 12h1v1h-1z" fill-opacity="0.72"/><path d="M10 4h1v1h-1zM6 5h1v1h-1zM8 6h1v1h-1zM10 6h2v1h-2zM4 7h1v1h-1zM7 7h1v1h-1zM9 7h2v1h-2zM12 7h1v1h-1zM7 8h1v1h-1zM12 8h1v1h-1zM7 9h1v1h-1zM12 9h1v1h-1zM7 10h1v1h-1zM9 10h2v1h-2zM12 10h1v1h-1zM7 11h1v1h-1zM11 11h1v1h-1zM4 12h2v1h-2zM13 12h1v1h-1z" fill-opacity="0.45"/><path d="M5 4h1v1h-1zM7 4h1v1h-1zM9 4h1v1h-1zM13 5h1v1h-1zM5 8h1v1h-1zM5 9h1v1h-1zM5 10h1v1h-1zM12 11h1v1h-1z" fill-opacity="0.2"/></g>
<g transform="translate(58 443)"><path d="M8 5h2v1h-2zM8 6h2v1h-2zM6 9h5v1h-5zM7 10h4v1h-4zM6 11h1v1h-1zM11 11h2v1h-2z"/><path d="M8 4h1v1h-1zM5 5h3v1h-3zM10 5h3v1h-3zM6 6h2v1h-2zM10 6h2v1h-2zM6 7h1v1h-1zM8 7h2v1h-2zM11 7h1v1h-1zM6 8h1v1h-1zM8 8h2v1h-2zM11 8h1v1h-1zM11 9h1v1h-1zM5 11h1v1h-1zM8 11h1v1h-1zM4 12h1v1h-1zM8 12h1v1h-1z" fill-opacity="0.72"/><path d="M9 4h1v1h-1zM4 5h1v1h-1zM5 6h1v1h-1zM5 7h1v1h-1zM7 7h1v1h-1zM10 7h1v1h-1zM12 7h1v1h-1zM5 8h1v1h-1zM7 8h1v1h-1zM10 8h1v1h-1zM12 8h1v1h-1zM5 9h1v1h-1zM7 11h1v1h-1zM9 11h2v1h-2zM5 12h1v1h-1zM9 12h1v1h-1zM12 12h2v1h-2z" fill-opacity="0.45"/><path d="M8 3h1v1h-1zM13 5h1v1h-1zM12 6h1v1h-1zM12 9h1v1h-1zM6 10h1v1h-1zM11 10h1v1h-1zM4 11h1v1h-1zM13 11h1v1h-1zM8 13h1v1h-1z" fill-opacity="0.2"/></g>
<g transform="translate(94 443)"><path d="M7 6h1v1h-1zM12 6h1v1h-1zM7 7h1v1h-1zM10 7h2v1h-2zM7 10h1v1h-1zM5 11h3v1h-3zM10 12h1v1h-1zM12 12h1v1h-1z"/><path d="M7 4h1v1h-1zM10 4h1v1h-1zM7 5h1v1h-1zM10 5h1v1h-1zM10 6h2v1h-2zM7 8h1v1h-1zM10 8h1v1h-1zM7 9h1v1h-1zM10 9h1v1h-1zM10 10h1v1h-1zM4 11h1v1h-1zM10 11h1v1h-1zM13 11h1v1h-1zM7 12h1v1h-1zM11 12h1v1h-1zM13 12h1v1h-1z" fill-opacity="0.72"/><path d="M8 4h2v1h-2zM9 5h1v1h-1zM12 5h1v1h-1zM4 6h3v1h-3zM9 6h1v1h-1zM5 7h2v1h-2zM9 7h1v1h-1zM9 8h1v1h-1zM9 9h1v1h-1zM9 10h1v1h-1zM13 10h1v1h-1zM9 11h1v1h-1zM4 12h1v1h-1zM9 12h1v1h-1z" fill-opacity="0.45"/><path d="M7 3h1v1h-1zM10 3h1v1h-1zM8 5h1v1h-1zM13 5h1v1h-1zM8 6h1v1h-1zM13 6h1v1h-1zM4 7h1v1h-1zM8 7h1v1h-1zM12 7h1v1h-1zM8 8h1v1h-1zM8 9h1v1h-1zM6 10h1v1h-1zM8 10h1v1h-1zM8 11h1v1h-1zM12 11h1v1h-1zM5 12h1v1h-1zM8 12h1v1h-1zM7 13h1v1h-1z" fill-opacity="0.2"/></g>
<g transform="translate(58 487)"><path d="M7 5h1v1h-1zM10 5h1v1h-1zM5 6h2v1h-2zM7 7h1v1h-1zM10 7h1v1h-1zM8 8h2v1h-2zM7 9h4v1h-4zM8 10h1v1h-1zM6 11h2v1h-2zM12 12h1v1h-1z"/><path d="M4 4h4v1h-4zM10 4h4v1h-4zM4 5h3v1h-3zM11 5h3v1h-3zM4 6h1v1h-1zM7 6h1v1h-1zM10 6h4v1h-4zM4 7h1v1h-1zM13 7h1v1h-1zM4 8h1v1h-1zM7 8h1v1h-1zM10 8h1v1h-1zM13 8h1v1h-1zM4 9h1v1h-1zM6 9h1v1h-1zM11 9h1v1h-1zM13 9h1v1h-1zM4 10h1v1h-1zM9 10h2v1h-2zM13 10h1v1h-1zM4 11h1v1h-1zM10 11h2v1h-2zM13 11h1v1h-1zM4 12h1v1h-1zM13 12h1v1h-1z" fill-opacity="0.72"/><path d="M8 4h2v1h-2zM8 5h2v1h-2zM5 7h1v1h-1zM8 7h2v1h-2zM12 7h1v1h-1zM5 8h2v1h-2zM11 8h2v1h-2zM5 9h1v1h-1zM12 9h1v1h-1zM5 10h1v1h-1zM7 10h1v1h-1zM12 10h1v1h-1zM5 11h1v1h-1zM12 11h1v1h-1zM5 12h1v1h-1zM11 12h1v1h-1zM12 13h1v1h-1z" fill-opacity="0.45"/><path d="M8 6h2v1h-2zM6 7h1v1h-1zM8 11h1v1h-1zM6 12h1v1h-1zM4 13h1v1h-1zM11 13h1v1h-1z" fill-opacity="0.2"/></g>
<g transform="translate(94 487)"><path d="M8 5h2v1h-2zM8 6h2v1h-2zM6 9h5v1h-5zM7 10h4v1h-4zM6 11h1v1h-1zM11 11h2v1h-2z"/><path d="M8 4h1v1h-1zM5 5h3v1h-3zM10 5h3v1h-3zM6 6h2v1h-2zM10 6h2v1h-2zM6 7h1v1h-1zM8 7h2v1h-2zM11 7h1v1h-1zM6 8h1v1h-1zM8 8h2v1h-2zM11 8h1v1h-1zM11 9h1v1h-1zM5 11h1v1h-1zM8 11h1v1h-1zM4 12h1v1h-1zM8 12h1v1h-1z" fill-opacity="0.72"/><path d="M9 4h1v1h-1zM4 5h1v1h-1zM5 6h1v1h-1zM5 7h1v1h-1zM7 7h1v1h-1zM10 7h1v1h-1zM12 7h1v1h-1zM5 8h1v1h-1zM7 8h1v1h-1zM10 8h1v1h-1zM12 8h1v1h-1zM5 9h1v1h-1zM7 11h1v1h-1zM9 11h2v1h-2zM5 12h1v1h-1zM9 12h1v1h-1zM12 12h2v1h-2z" fill-opacity="0.45"/><path d="M8 3h1v1h-1zM13 5h1v1h-1zM12 6h1v1h-1zM12 9h1v1h-1zM6 10h1v1h-1zM11 10h1v1h-1zM4 11h1v1h-1zM13 11h1v1h-1zM8 13h1v1h-1z" fill-opacity="0.2"/></g>
<g transform="translate(58 531)"><path d="M8 5h1v1h-1zM5 6h1v1h-1zM8 6h2v1h-2zM11 6h2v1h-2zM8 8h1v1h-1zM12 8h1v1h-1zM8 9h1v1h-1z"/><path d="M8 4h1v1h-1zM5 5h3v1h-3zM9 5h3v1h-3zM4 6h1v1h-1zM6 6h2v1h-2zM10 6h1v1h-1zM8 7h1v1h-1zM12 7h1v1h-1zM4 8h2v1h-2zM5 9h3v1h-3zM9 9h4v1h-4zM8 10h1v1h-1zM8 11h1v1h-1zM8 12h1v1h-1z" fill-opacity="0.72"/><path d="M12 5h1v1h-1zM4 7h2v1h-2zM6 8h2v1h-2zM9 8h3v1h-3zM4 9h1v1h-1z" fill-opacity="0.45"/><path d="M8 3h1v1h-1zM9 4h1v1h-1zM4 5h1v1h-1zM9 7h1v1h-1zM11 7h1v1h-1zM9 10h1v1h-1zM9 11h1v1h-1zM9 12h1v1h-1z" fill-opacity="0.2"/></g>
<g transform="translate(70 531)"><path d="M6 4h1v1h-1zM8 5h1v1h-1zM5 7h4v1h-4zM5 9h1v1h-1zM8 9h1v1h-1zM5 11h1v1h-1zM8 11h1v1h-1zM12 11h1v1h-1z"/><path d="M7 4h1v1h-1zM11 4h2v1h-2zM5 5h1v1h-1zM10 5h1v1h-1zM12 5h1v1h-1zM5 6h1v1h-1zM8 6h1v1h-1zM10 6h1v1h-1zM12 6h1v1h-1zM4 7h1v1h-1zM9 7h4v1h-4zM5 8h6v1h-6zM12 8h1v1h-1zM6 9h2v1h-2zM10 9h1v1h-1zM5 10h1v1h-1zM8 10h1v1h-1zM10 10h1v1h-1zM13 10h1v1h-1zM6 11h2v1h-2zM10 11h1v1h-1zM5 12h1v1h-1zM8 12h1v1h-1zM10 12h1v1h-1z" fill-opacity="0.72"/><path d="M5 4h1v1h-1zM8 4h1v1h-1zM10 4h1v1h-1zM4 5h1v1h-1zM6 5h2v1h-2zM9 5h1v1h-1zM6 6h2v1h-2zM11 6h1v1h-1zM4 8h1v1h-1zM11 8h1v1h-1zM12 9h2v1h-2zM12 10h1v1h-1zM11 11h1v1h-1z" fill-opacity="0.45"/><path d="M6 3h1v1h-1zM4 4h1v1h-1zM9 4h1v1h-1zM13 4h1v1h-1zM11 5h1v1h-1zM13 5h1v1h-1zM13 8h1v1h-1zM9 9h1v1h-1zM11 9h1v1h-1zM6 10h1v1h-1zM9 10h1v1h-1zM11 10h1v1h-1zM9 11h1v1h-1zM13 11h1v1h-1zM6 12h1v1h-1zM9 12h1v1h-1zM11 12h1v1h-1zM5 13h1v1h-1zM8 13h1v1h-1zM10 13h1v1h-1z" fill-opacity="0.2"/></g>
<g transform="translate(82 531)"><path d="M9 8h1v1h-1z"/><path d="M8 8h1v1h-1z" fill-opacity="0.72"/><path d="M10 8h1v1h-1zM9 9h1v1h-1z" fill-opacity="0.2"/></g>
<g transform="translate(94 531)"><path d="M7 5h1v1h-1zM10 5h1v1h-1zM5 6h2v1h-2zM7 7h1v1h-1zM10 7h1v1h-1zM8 8h2v1h-2zM7 9h4v1h-4zM8 10h1v1h-1zM6 11h2v1h-2zM12 12h1v1h-1z"/><path d="M4 4h4v1h-4zM10 4h4v1h-4zM4 5h3v1h-3zM11 5h3v1h-3zM4 6h1v1h-1zM7 6h1v1h-1zM10 6h4v1h-4zM4 7h1v1h-1zM13 7h1v1h-1zM4 8h1v1h-1zM7 8h1v1h-1zM10 8h1v1h-1zM13 8h1v1h-1zM4 9h1v1h-1zM6 9h1v1h-1zM11 9h1v1h-1zM13 9h1v1h-1zM4 10h1v1h-1zM9 10h2v1h-2zM13 10h1v1h-1zM4 11h1v1h-1zM10 11h2v1h-2zM13 11h1v1h-1zM4 12h1v1h-1zM13 12h1v1h-1z" fill-opacity="0.72"/><path d="M8 4h2v1h-2zM8 5h2v1h-2zM5 7h1v1h-1zM8 7h2v1h-2zM12 7h1v1h-1zM5 8h2v1h-2zM11 8h2v1h-2zM5 9h1v1h-1zM12 9h1v1h-1zM5 10h1v1h-1zM7 10h1v1h-1zM12 10h1v1h-1zM5 11h1v1h-1zM12 11h1v1h-1zM5 12h1v1h-1zM11 12h1v1h-1zM12 13h1v1h-1z" fill-opacity="0.45"/><path d="M8 6h2v1h-2zM6 7h1v1h-1zM8 11h1v1h-1zM6 12h1v1h-1zM4 13h1v1h-1zM11 13h1v1h-1z" fill-opacity="0.2"/></g>
<g transform="translate(58 543)"><path d="M5 4h8v1h-8zM5 6h7v1h-7zM5 9h1v1h-1zM5 10h2v1h-2zM5 11h1v1h-1zM5 12h1v1h-1z"/><path d="M4 4h1v1h-1zM13 4h1v1h-1zM7 5h1v1h-1zM9 5h1v1h-1zM12 6h1v1h-1zM5 7h1v1h-1zM7 7h1v1h-1zM9 7h1v1h-1zM12 7h1v1h-1zM5 8h1v1h-1zM7 8h1v1h-1zM9 8h1v1h-1zM12 8h1v1h-1zM6 9h2v1h-2zM9 9h2v1h-2zM12 9h1v1h-1zM12 10h1v1h-1zM12 11h1v1h-1zM12 12h1v1h-1z" fill-opacity="0.72"/><path d="M8 5h1v1h-1zM10 5h1v1h-1zM8 7h1v1h-1zM10 7h1v1h-1zM8 8h1v1h-1zM10 8h1v1h-1zM11 9h1v1h-1zM10 10h2v1h-2zM6 11h6v1h-6zM6 12h6v1h-6z" fill-opacity="0.45"/><path d="M4 6h1v1h-1zM6 7h1v1h-1zM11 7h1v1h-1zM6 8h1v1h-1zM11 8h1v1h-1zM7 10h1v1h-1zM5 13h1v1h-1zM12 13h1v1h-1z" fill-opacity="0.2"/></g>
<g transform="translate(58 582)"><path d="M8 4h1v1h-1zM8 5h2v1h-2zM11 6h1v1h-1zM6 7h6v1h-6zM8 8h2v1h-2zM4 9h9v1h-9zM11 10h1v1h-1zM8 12h1v1h-1z"/><path d="M9 4h1v1h-1zM6 5h2v1h-2zM10 5h2v1h-2zM6 6h1v1h-1zM8 6h2v1h-2zM5 8h3v1h-3zM10 8h2v1h-2zM13 9h1v1h-1zM8 10h2v1h-2zM8 11h2v1h-2z" fill-opacity="0.72"/><path d="M5 4h3v1h-3zM10 4h3v1h-3zM5 5h1v1h-1zM12 5h1v1h-1zM5 6h1v1h-1zM7 6h1v1h-1zM10 6h1v1h-1zM5 7h1v1h-1zM5 10h3v1h-3zM10 10h1v1h-1zM12 10h1v1h-1zM5 11h3v1h-3zM10 11h2v1h-2zM7 12h1v1h-1zM9 12h1v1h-1z" fill-opacity="0.45"/><path d="M8 3h1v1h-1zM4 4h1v1h-1zM4 5h1v1h-1zM12 6h1v1h-1zM12 7h1v1h-1zM12 8h1v1h-1zM7 13h2v1h-2z" fill-opacity="0.2"/></g>
<g transform="translate(76 582)"><path d="M7 5h1v1h-1zM9 5h2v1h-2zM6 6h1v1h-1zM8 6h2v1h-2zM6 7h2v1h-2zM10 7h2v1h-2zM6 8h1v1h-1zM9 8h1v1h-1zM12 8h1v1h-1zM5 9h2v1h-2zM9 9h3v1h-3zM6 12h1v1h-1zM8 12h1v1h-1zM11 12h1v1h-1z"/><path d="M5 4h3v1h-3zM10 4h1v1h-1zM11 5h2v1h-2zM10 6h3v1h-3zM5 7h1v1h-1zM8 7h1v1h-1zM7 8h2v1h-2zM10 8h2v1h-2zM8 9h1v1h-1zM12 9h1v1h-1zM4 10h3v1h-3zM10 10h1v1h-1zM12 10h1v1h-1zM6 11h1v1h-1zM9 11h1v1h-1zM12 11h1v1h-1zM9 12h1v1h-1zM12 12h1v1h-1z" fill-opacity="0.72"/><path d="M9 4h1v1h-1zM6 5h1v1h-1zM8 5h1v1h-1zM5 6h1v1h-1zM7 6h1v1h-1zM4 7h1v1h-1zM9 7h1v1h-1zM13 8h1v1h-1zM7 9h1v1h-1zM7 10h1v1h-1zM7 11h1v1h-1zM10 11h1v1h-1zM5 12h1v1h-1zM7 12h1v1h-1z" fill-opacity="0.45"/><path d="M4 4h1v1h-1zM8 4h1v1h-1zM5 8h1v1h-1zM13 9h1v1h-1zM8 10h2v1h-2zM11 10h1v1h-1zM13 10h1v1h-1zM4 11h1v1h-1zM11 11h1v1h-1zM13 11h1v1h-1zM10 12h1v1h-1zM5 13h2v1h-2z" fill-opacity="0.2"/></g>
<g transform="translate(160 356)"><path d="M8 7h2v1h-2zM6 9h1v1h-1zM8 12h1v1h-1z"/><path d="M9 5h1v1h-1zM8 6h2v1h-2zM5 7h3v1h-3zM10 7h3v1h-3zM9 8h1v1h-1zM9 9h1v1h-1zM11 9h1v1h-1zM5 10h1v1h-1zM9 10h1v1h-1zM12 10h1v1h-1zM5 11h1v1h-1zM9 11h1v1h-1z" fill-opacity="0.72"/><path d="M8 5h1v1h-1zM5 6h3v1h-3zM10 6h3v1h-3zM8 8h1v1h-1zM8 9h1v1h-1zM6 10h1v1h-1zM8 10h1v1h-1zM4 11h1v1h-1zM8 11h1v1h-1zM12 11h2v1h-2zM7 12h1v1h-1zM9 12h1v1h-1z" fill-opacity="0.45"/><path d="M13 7h1v1h-1zM5 9h1v1h-1zM12 9h1v1h-1zM11 10h1v1h-1zM13 10h1v1h-1z" fill-opacity="0.2"/></g>
<g transform="translate(178 356)"><path d="M5 8h8v1h-8z"/><path d="M5 7h8v1h-8z" fill-opacity="0.45"/><path d="M4 8h1v1h-1zM13 8h1v1h-1z" fill-opacity="0.2"/></g>
<g transform="translate(195 356)"><path d="M8 6h1v1h-1zM6 11h1v1h-1zM12 11h1v1h-1z"/><path d="M8 5h1v1h-1zM8 7h1v1h-1zM7 8h1v1h-1zM7 9h1v1h-1zM11 9h1v1h-1zM6 10h1v1h-1zM11 10h1v1h-1zM5 11h1v1h-1zM7 11h5v1h-5z" fill-opacity="0.72"/><path d="M9 5h1v1h-1zM7 7h1v1h-1zM8 8h1v1h-1zM6 9h1v1h-1zM10 9h1v1h-1zM7 10h1v1h-1zM12 10h1v1h-1zM5 12h1v1h-1z" fill-opacity="0.45"/><path d="M9 6h1v1h-1zM4 11h1v1h-1zM13 11h1v1h-1zM6 12h1v1h-1zM12 12h1v1h-1z" fill-opacity="0.2"/></g>
<g transform="translate(160 368)"><path d="M7 5h1v1h-1zM6 7h7v1h-7z"/><path d="M7 6h1v1h-1zM5 8h1v1h-1zM9 9h1v1h-1zM9 10h1v1h-1zM8 11h1v1h-1zM7 12h2v1h-2z" fill-opacity="0.72"/><path d="M8 5h1v1h-1zM6 6h1v1h-1zM13 7h1v1h-1zM6 8h1v1h-1zM9 8h2v1h-2zM4 9h2v1h-2zM10 9h1v1h-1zM9 11h1v1h-1z" fill-opacity="0.45"/><path d="M5 7h1v1h-1zM8 10h1v1h-1zM10 10h1v1h-1z" fill-opacity="0.2"/></g>
<g transform="translate(178 368)"><path d="M5 5h7v1h-7z"/><path d="M12 5h1v1h-1zM12 6h1v1h-1zM8 7h1v1h-1zM11 7h1v1h-1zM8 8h1v1h-1zM8 9h1v1h-1zM8 10h1v1h-1zM7 11h1v1h-1zM6 12h1v1h-1z" fill-opacity="0.72"/><path d="M11 6h1v1h-1zM9 7h2v1h-2zM9 8h2v1h-2zM7 10h1v1h-1z" fill-opacity="0.45"/><path d="M4 5h1v1h-1zM13 5h1v1h-1zM13 6h1v1h-1zM7 9h1v1h-1zM6 11h1v1h-1zM8 11h1v1h-1zM5 12h1v1h-1zM7 12h1v1h-1z" fill-opacity="0.2"/></g>
<g transform="translate(160 400)"><path d="M8 6h1v1h-1zM6 7h1v1h-1z"/><path d="M11 4h1v1h-1zM9 6h1v1h-1zM6 10h4v1h-4z" fill-opacity="0.72"/><path d="M10 4h1v1h-1zM5 5h2v1h-2zM9 5h1v1h-1zM5 6h3v1h-3zM5 7h1v1h-1zM7 7h1v1h-1zM5 8h2v1h-2zM5 9h2v1h-2zM10 10h1v1h-1z" fill-opacity="0.45"/><path d="M11 3h1v1h-1zM5 4h2v1h-2zM10 5h1v1h-1zM10 6h1v1h-1zM5 10h1v1h-1z" fill-opacity="0.2"/></g>
<g transform="translate(169 400)"><path d="M7 6h2v1h-2zM8 9h2v1h-2z" fill-opacity="0.72"/><path d="M6 6h1v1h-1zM9 6h1v1h-1zM9 7h1v1h-1zM8 8h2v1h-2zM6 9h2v1h-2zM6 10h4v1h-4z" fill-opacity="0.45"/><path d="M8 7h1v1h-1zM5 9h1v1h-1zM10 9h1v1h-1zM5 10h1v1h-1zM10 10h1v1h-1z" fill-opacity="0.2"/></g>
<g transform="translate(178 400)"><path d="M5 6h6v1h-6z" fill-opacity="0.72"/><path d="M5 7h6v1h-6z" fill-opacity="0.45"/><path d="M4 6h1v1h-1zM11 6h1v1h-1zM4 7h1v1h-1zM11 7h1v1h-1z" fill-opacity="0.2"/></g>
<g transform="translate(186 400)"><path d="M5 6h6v1h-6zM7 9h1v1h-1zM6 10h1v1h-1z" fill-opacity="0.72"/><path d="M6 4h4v1h-4zM6 5h4v1h-4zM11 6h1v1h-1zM8 7h1v1h-1zM7 8h2v1h-2zM6 9h1v1h-1z" fill-opacity="0.45"/><path d="M4 6h1v1h-1zM7 7h1v1h-1zM5 10h1v1h-1zM7 10h1v1h-1z" fill-opacity="0.2"/></g>
<g transform="translate(195 400)"><path d="M7 7h2v1h-2z"/><path d="M8 8h1v1h-1zM8 9h1v1h-1z" fill-opacity="0.72"/><path d="M9 5h1v1h-1zM8 6h2v1h-2zM6 7h1v1h-1zM6 8h1v1h-1zM8 10h1v1h-1z" fill-opacity="0.45"/><path d="M10 5h1v1h-1zM5 8h1v1h-1zM7 8h1v1h-1z" fill-opacity="0.2"/></g>
<g transform="translate(160 411)"><path d="M8 6h2v1h-2z"/><path d="M6 5h1v1h-1zM6 6h2v1h-2zM10 6h1v1h-1z" fill-opacity="0.72"/><path d="M6 4h1v1h-1zM5 6h1v1h-1zM4 7h2v1h-2zM8 7h1v1h-1zM8 8h1v1h-1zM7 9h2v1h-2zM6 10h2v1h-2z" fill-opacity="0.45"/><path d="M7 4h1v1h-1zM7 5h1v1h-1zM11 6h1v1h-1zM9 7h1v1h-1zM4 8h1v1h-1z" fill-opacity="0.2"/></g>
<g transform="translate(178 411)"><path d="M10 5h1v1h-1z"/><path d="M5 4h6v1h-6zM7 6h1v1h-1zM9 6h1v1h-1zM7 8h1v1h-1zM6 9h1v1h-1z" fill-opacity="0.72"/><path d="M5 5h5v1h-5zM11 5h1v1h-1zM8 6h1v1h-1zM10 6h1v1h-1zM7 7h1v1h-1zM5 10h2v1h-2z" fill-opacity="0.45"/><path d="M4 4h1v1h-1zM11 4h1v1h-1zM8 7h1v1h-1zM6 8h1v1h-1zM7 9h1v1h-1z" fill-opacity="0.2"/></g>
<g transform="translate(160 442)"><path d="M8 4h1v1h-1zM8 5h2v1h-2zM11 6h1v1h-1zM6 7h6v1h-6zM8 8h2v1h-2zM4 9h9v1h-9zM11 10h1v1h-1zM8 12h1v1h-1z"/><path d="M9 4h1v1h-1zM6 5h2v1h-2zM10 5h2v1h-2zM6 6h1v1h-1zM8 6h2v1h-2zM5 8h3v1h-3zM10 8h2v1h-2zM13 9h1v1h-1zM8 10h2v1h-2zM8 11h2v1h-2z" fill-opacity="0.72"/><path d="M5 4h3v1h-3zM10 4h3v1h-3zM5 5h1v1h-1zM12 5h1v1h-1zM5 6h1v1h-1zM7 6h1v1h-1zM10 6h1v1h-1zM5 7h1v1h-1zM5 10h3v1h-3zM10 10h1v1h-1zM12 10h1v1h-1zM5 11h3v1h-3zM10 11h2v1h-2zM7 12h1v1h-1zM9 12h1v1h-1z" fill-opacity="0.45"/><path d="M8 3h1v1h-1zM4 4h1v1h-1zM4 5h1v1h-1zM12 6h1v1h-1zM12 7h1v1h-1zM12 8h1v1h-1zM7 13h2v1h-2z" fill-opacity="0.2"/></g>
<g transform="translate(172 442)"><path d="M6 5h2v1h-2zM9 5h3v1h-3zM7 6h1v1h-1zM10 6h1v1h-1zM5 7h7v1h-7zM8 9h1v1h-1zM5 10h8v1h-8zM6 11h1v1h-1z"/><path d="M9 4h1v1h-1zM11 4h1v1h-1zM8 5h1v1h-1zM6 6h1v1h-1zM12 7h1v1h-1zM8 8h2v1h-2zM6 9h2v1h-2zM9 9h3v1h-3zM4 10h1v1h-1zM7 11h2v1h-2zM10 11h2v1h-2zM4 12h2v1h-2zM8 12h1v1h-1zM12 12h1v1h-1z" fill-opacity="0.72"/><path d="M9 3h1v1h-1zM5 4h4v1h-4zM10 4h1v1h-1zM5 5h1v1h-1zM12 5h1v1h-1zM5 6h1v1h-1zM8 6h2v1h-2zM11 6h2v1h-2zM4 7h1v1h-1zM6 8h2v1h-2zM10 8h2v1h-2zM5 9h1v1h-1zM13 10h1v1h-1zM5 11h1v1h-1zM9 11h1v1h-1zM9 12h1v1h-1zM11 12h1v1h-1zM13 12h1v1h-1z" fill-opacity="0.45"/><path d="M7 3h2v1h-2zM10 3h1v1h-1zM12 4h1v1h-1zM4 5h1v1h-1zM13 5h1v1h-1zM4 6h1v1h-1zM13 6h1v1h-1zM13 7h1v1h-1zM5 8h1v1h-1zM12 9h1v1h-1zM6 12h1v1h-1zM8 13h1v1h-1z" fill-opacity="0.2"/></g>
<g transform="translate(184 442)"><path d="M8 5h2v1h-2zM10 6h1v1h-1zM6 7h1v1h-1zM11 7h1v1h-1zM5 8h1v1h-1zM8 10h1v1h-1zM10 11h1v1h-1zM6 12h6v1h-6z"/><path d="M8 4h2v1h-2zM7 6h1v1h-1zM12 7h1v1h-1zM4 8h1v1h-1zM7 8h4v1h-4zM12 8h1v1h-1zM5 9h8v1h-8zM7 10h1v1h-1zM10 10h1v1h-1zM7 11h1v1h-1zM11 11h1v1h-1zM12 12h1v1h-1z" fill-opacity="0.72"/><path d="M7 5h1v1h-1zM5 7h1v1h-1zM7 7h4v1h-4zM6 8h1v1h-1zM11 8h1v1h-1zM13 8h1v1h-1zM4 9h1v1h-1zM5 10h2v1h-2zM9 10h1v1h-1zM11 10h2v1h-2zM6 11h1v1h-1zM5 12h1v1h-1zM6 13h1v1h-1z" fill-opacity="0.45"/><path d="M10 5h1v1h-1zM6 6h1v1h-1zM8 6h2v1h-2zM11 6h1v1h-1zM13 7h1v1h-1zM13 9h1v1h-1zM8 11h2v1h-2zM5 13h1v1h-1zM7 13h1v1h-1zM11 13h2v1h-2z" fill-opacity="0.2"/></g>
<g transform="translate(196 442)"><path d="M5 6h2v1h-2zM6 7h1v1h-1zM10 7h2v1h-2zM6 8h1v1h-1zM5 9h2v1h-2zM10 12h1v1h-1z"/><path d="M6 4h1v1h-1zM10 4h1v1h-1zM6 5h1v1h-1zM10 5h1v1h-1zM4 6h1v1h-1zM7 6h1v1h-1zM10 6h1v1h-1zM9 7h1v1h-1zM12 7h1v1h-1zM5 8h1v1h-1zM7 8h1v1h-1zM10 8h1v1h-1zM7 9h1v1h-1zM10 9h1v1h-1zM6 10h1v1h-1zM10 10h1v1h-1zM6 11h1v1h-1zM10 11h1v1h-1zM6 12h1v1h-1zM8 12h2v1h-2zM11 12h3v1h-3z" fill-opacity="0.72"/><path d="M5 4h1v1h-1zM11 4h1v1h-1zM11 5h1v1h-1zM11 6h1v1h-1zM7 7h2v1h-2zM11 8h1v1h-1zM4 9h1v1h-1zM8 9h1v1h-1zM11 9h1v1h-1zM4 10h2v1h-2zM11 10h1v1h-1zM11 11h1v1h-1zM7 12h1v1h-1z" fill-opacity="0.45"/><path d="M10 3h1v1h-1zM5 5h1v1h-1zM13 7h1v1h-1zM5 11h1v1h-1zM5 12h1v1h-1zM6 13h1v1h-1z" fill-opacity="0.2"/></g>
<g transform="translate(247 356)"><path d="M11 6h1v1h-1zM8 11h1v1h-1zM7 12h1v1h-1z"/><path d="M12 4h2v1h-2zM5 6h6v1h-6zM12 6h1v1h-1zM11 7h1v1h-1zM11 8h1v1h-1zM10 9h1v1h-1zM9 10h1v1h-1z" fill-opacity="0.72"/><path d="M5 5h8v1h-8zM10 8h1v1h-1zM10 10h1v1h-1zM9 11h1v1h-1zM6 12h1v1h-1zM8 12h1v1h-1z" fill-opacity="0.45"/><path d="M14 4h1v1h-1zM13 5h1v1h-1zM12 7h1v1h-1zM9 9h1v1h-1zM11 9h1v1h-1zM7 11h1v1h-1z" fill-opacity="0.2"/></g>
<g transform="translate(265 356)"><path d="M5 8h8v1h-8z"/><path d="M5 7h8v1h-8z" fill-opacity="0.45"/><path d="M4 8h1v1h-1zM13 8h1v1h-1z" fill-opacity="0.2"/></g>
<g transform="translate(283 356)"><path d="M6 6h3v1h-3zM10 6h1v1h-1zM9 9h1v1h-1zM6 11h1v1h-1z"/><path d="M13 4h1v1h-1zM12 5h1v1h-1zM9 6h1v1h-1zM11 6h1v1h-1zM10 7h1v1h-1zM9 8h1v1h-1zM8 9h1v1h-1zM7 10h2v1h-2zM10 10h2v1h-2zM7 11h1v1h-1zM11 11h1v1h-1zM5 12h1v1h-1z" fill-opacity="0.72"/><path d="M12 4h1v1h-1zM5 6h1v1h-1zM10 8h1v1h-1zM10 9h1v1h-1zM5 11h1v1h-1zM12 11h1v1h-1z" fill-opacity="0.45"/><path d="M6 5h1v1h-1zM9 5h3v1h-3zM13 5h1v1h-1zM9 7h1v1h-1zM11 7h1v1h-1zM9 10h1v1h-1zM6 12h1v1h-1zM12 12h1v1h-1z" fill-opacity="0.2"/></g>
<g transform="translate(247 368)"><path d="M5 4h1v1h-1zM5 5h1v1h-1zM10 5h1v1h-1zM10 6h1v1h-1zM8 7h1v1h-1zM5 9h2v1h-2zM9 10h1v1h-1zM11 10h1v1h-1zM5 11h3v1h-3zM7 12h1v1h-1zM12 12h1v1h-1z"/><path d="M8 4h3v1h-3zM12 4h1v1h-1zM4 5h1v1h-1zM6 5h3v1h-3zM12 5h2v1h-2zM5 6h2v1h-2zM8 6h2v1h-2zM11 6h3v1h-3zM5 7h1v1h-1zM9 7h5v1h-5zM8 8h1v1h-1zM10 8h1v1h-1zM13 8h1v1h-1zM4 9h1v1h-1zM7 9h3v1h-3zM11 9h1v1h-1zM13 9h1v1h-1zM4 10h1v1h-1zM6 10h3v1h-3zM10 10h1v1h-1zM13 10h1v1h-1zM4 11h1v1h-1zM13 11h1v1h-1zM4 12h1v1h-1zM6 12h1v1h-1z" fill-opacity="0.72"/><path d="M6 4h2v1h-2zM11 4h1v1h-1zM13 4h1v1h-1zM9 5h1v1h-1zM11 5h1v1h-1zM4 6h1v1h-1zM7 6h1v1h-1zM4 7h1v1h-1zM6 7h2v1h-2zM5 8h3v1h-3zM9 8h1v1h-1zM11 8h2v1h-2zM12 9h1v1h-1zM5 10h1v1h-1zM12 10h1v1h-1zM8 11h2v1h-2zM11 11h2v1h-2zM5 12h1v1h-1zM11 12h1v1h-1zM13 12h1v1h-1z" fill-opacity="0.45"/><path d="M5 3h1v1h-1zM4 4h1v1h-1zM4 8h1v1h-1zM10 9h1v1h-1zM10 11h1v1h-1zM4 13h1v1h-1zM6 13h1v1h-1zM12 13h1v1h-1z" fill-opacity="0.2"/></g>
<g transform="translate(265 368)"><path d="M10 4h1v1h-1zM8 6h5v1h-5zM6 7h1v1h-1zM8 7h4v1h-4zM10 9h1v1h-1zM10 10h1v1h-1zM6 11h1v1h-1zM8 12h5v1h-5z"/><path d="M5 4h1v1h-1zM8 4h2v1h-2zM11 4h1v1h-1zM9 5h2v1h-2zM7 6h1v1h-1zM12 7h1v1h-1zM6 8h1v1h-1zM9 8h2v1h-2zM6 9h1v1h-1zM8 9h2v1h-2zM11 9h1v1h-1zM6 10h4v1h-4zM11 10h2v1h-2zM5 11h1v1h-1zM7 11h1v1h-1zM10 11h1v1h-1zM7 12h1v1h-1z" fill-opacity="0.72"/><path d="M12 4h1v1h-1zM5 5h2v1h-2zM8 5h1v1h-1zM11 5h1v1h-1zM4 6h3v1h-3zM4 7h2v1h-2zM7 7h1v1h-1zM7 8h2v1h-2zM11 8h2v1h-2zM7 9h1v1h-1zM12 9h1v1h-1zM9 11h1v1h-1zM4 12h2v1h-2zM13 12h1v1h-1z" fill-opacity="0.45"/><path d="M10 3h1v1h-1zM4 4h1v1h-1zM6 4h2v1h-2zM12 5h1v1h-1zM13 6h1v1h-1zM5 8h1v1h-1zM5 9h1v1h-1zM5 10h1v1h-1zM13 10h1v1h-1zM8 11h1v1h-1zM6 12h1v1h-1z" fill-opacity="0.2"/></g>
<g transform="translate(247 399)"><path d="M9 4h1v1h-1zM6 6h1v1h-1zM10 6h1v1h-1zM6 8h2v1h-2z"/><path d="M5 4h4v1h-4zM10 4h1v1h-1zM5 5h3v1h-3zM8 6h2v1h-2zM11 6h1v1h-1zM6 7h1v1h-1zM8 7h1v1h-1zM10 7h1v1h-1zM5 8h1v1h-1zM10 8h1v1h-1zM5 9h4v1h-4zM10 9h1v1h-1zM6 10h2v1h-2zM10 10h1v1h-1z" fill-opacity="0.72"/><path d="M6 3h1v1h-1zM11 3h1v1h-1zM4 4h1v1h-1zM11 4h1v1h-1zM8 5h2v1h-2zM5 6h1v1h-1zM7 6h1v1h-1zM5 7h1v1h-1zM7 7h1v1h-1zM9 7h1v1h-1zM8 8h2v1h-2zM4 9h1v1h-1zM4 10h2v1h-2zM8 10h1v1h-1z" fill-opacity="0.45"/><path d="M5 3h1v1h-1zM10 3h1v1h-1zM4 6h1v1h-1zM4 7h1v1h-1zM9 9h1v1h-1z" fill-opacity="0.2"/></g>
<g transform="translate(256 399)"><path d="M6 5h1v1h-1zM9 5h1v1h-1zM5 6h5v1h-5zM7 8h2v1h-2z"/><path d="M5 4h5v1h-5zM5 5h1v1h-1zM7 5h2v1h-2zM10 5h1v1h-1zM10 6h1v1h-1zM6 7h4v1h-4zM5 8h2v1h-2zM9 8h2v1h-2zM6 9h4v1h-4zM10 10h2v1h-2z" fill-opacity="0.72"/><path d="M5 3h1v1h-1zM7 3h2v1h-2zM10 4h1v1h-1zM4 5h1v1h-1zM11 5h1v1h-1zM4 6h1v1h-1zM5 7h1v1h-1zM10 7h1v1h-1zM4 8h1v1h-1zM11 8h1v1h-1zM10 9h1v1h-1zM4 10h2v1h-2zM7 10h2v1h-2z" fill-opacity="0.45"/><path d="M6 3h1v1h-1zM9 3h2v1h-2zM11 6h1v1h-1zM5 9h1v1h-1z" fill-opacity="0.2"/></g>
<g transform="translate(266 399)"><path d="M9 4h1v1h-1zM9 5h2v1h-2zM5 6h3v1h-3zM8 9h1v1h-1z"/><path d="M5 4h4v1h-4zM10 4h1v1h-1zM5 5h1v1h-1zM7 5h2v1h-2zM11 5h1v1h-1zM8 6h1v1h-1zM10 6h1v1h-1zM5 7h5v1h-5zM9 8h2v1h-2zM6 9h2v1h-2zM4 10h1v1h-1zM6 10h1v1h-1zM9 10h2v1h-2z" fill-opacity="0.72"/><path d="M5 3h2v1h-2zM8 3h1v1h-1zM4 4h1v1h-1zM4 5h1v1h-1zM6 5h1v1h-1zM4 6h1v1h-1zM9 6h1v1h-1zM11 6h1v1h-1zM4 7h1v1h-1zM10 7h1v1h-1zM4 8h5v1h-5zM11 8h1v1h-1zM4 9h2v1h-2zM10 9h1v1h-1zM5 10h1v1h-1zM7 10h2v1h-2zM11 10h1v1h-1zM7 11h3v1h-3z" fill-opacity="0.45"/><path d="M11 4h1v1h-1zM11 7h1v1h-1zM9 9h1v1h-1zM11 9h1v1h-1zM6 11h1v1h-1z" fill-opacity="0.2"/></g>
<g transform="translate(275 399)"><path d="M9 4h1v1h-1zM6 6h1v1h-1zM10 6h1v1h-1zM6 8h2v1h-2z"/><path d="M5 4h4v1h-4zM10 4h1v1h-1zM5 5h3v1h-3zM8 6h2v1h-2zM11 6h1v1h-1zM6 7h1v1h-1zM8 7h1v1h-1zM10 7h1v1h-1zM5 8h1v1h-1zM10 8h1v1h-1zM5 9h4v1h-4zM10 9h1v1h-1zM6 10h2v1h-2zM10 10h1v1h-1z" fill-opacity="0.72"/><path d="M6 3h1v1h-1zM11 3h1v1h-1zM4 4h1v1h-1zM11 4h1v1h-1zM8 5h2v1h-2zM5 6h1v1h-1zM7 6h1v1h-1zM5 7h1v1h-1zM7 7h1v1h-1zM9 7h1v1h-1zM8 8h2v1h-2zM4 9h1v1h-1zM4 10h2v1h-2zM8 10h1v1h-1z" fill-opacity="0.45"/><path d="M5 3h1v1h-1zM10 3h1v1h-1zM4 6h1v1h-1zM4 7h1v1h-1zM9 9h1v1h-1z" fill-opacity="0.2"/></g>
<g transform="translate(284 399)"><path d="M5 7h2v1h-2zM9 7h2v1h-2z"/><path d="M6 3h4v1h-4zM6 4h1v1h-1zM6 5h1v1h-1zM6 6h1v1h-1zM4 7h1v1h-1zM7 7h2v1h-2zM11 7h1v1h-1zM4 8h1v1h-1zM7 8h2v1h-2zM11 8h1v1h-1zM4 9h1v1h-1zM7 9h2v1h-2zM11 9h1v1h-1zM4 10h8v1h-8z" fill-opacity="0.72"/><path d="M9 4h2v1h-2zM9 5h2v1h-2zM7 6h4v1h-4zM6 8h1v1h-1zM6 9h1v1h-1z" fill-opacity="0.45"/><path d="M5 3h1v1h-1zM10 3h1v1h-1zM5 4h1v1h-1zM5 5h1v1h-1zM5 6h1v1h-1zM5 8h1v1h-1zM9 8h2v1h-2zM5 9h1v1h-1zM9 9h2v1h-2z" fill-opacity="0.2"/></g>
<g transform="translate(247 410)"><path d="M9 4h1v1h-1zM9 5h1v1h-1zM5 6h1v1h-1zM5 7h2v1h-2zM8 8h3v1h-3zM8 9h2v1h-2z"/><path d="M5 4h4v1h-4zM10 4h1v1h-1zM5 5h4v1h-4zM10 5h1v1h-1zM6 6h5v1h-5zM7 7h4v1h-4zM4 8h2v1h-2zM7 8h1v1h-1zM10 9h1v1h-1zM6 10h5v1h-5z" fill-opacity="0.72"/><path d="M4 4h1v1h-1zM11 5h1v1h-1zM6 8h1v1h-1zM4 9h4v1h-4zM5 10h1v1h-1zM11 10h1v1h-1z" fill-opacity="0.45"/><path d="M4 5h1v1h-1zM4 6h1v1h-1zM11 6h1v1h-1zM4 7h1v1h-1zM11 7h1v1h-1zM11 8h1v1h-1zM11 9h1v1h-1z" fill-opacity="0.2"/></g>
<g transform="translate(259 410)"><path d="M5 4h2v1h-2zM9 4h2v1h-2zM6 8h4v1h-4z"/><path d="M4 4h1v1h-1zM7 4h2v1h-2zM11 4h1v1h-1zM4 5h1v1h-1zM7 5h2v1h-2zM10 5h2v1h-2zM4 6h1v1h-1zM10 6h2v1h-2zM6 7h3v1h-3zM11 7h1v1h-1zM5 8h1v1h-1zM10 8h2v1h-2zM8 9h1v1h-1zM11 9h1v1h-1zM4 10h3v1h-3zM8 10h1v1h-1zM10 10h1v1h-1z" fill-opacity="0.72"/><path d="M5 3h2v1h-2zM9 3h2v1h-2zM5 5h2v1h-2zM9 5h1v1h-1zM5 6h5v1h-5zM4 7h2v1h-2zM9 7h2v1h-2zM4 8h1v1h-1zM4 9h4v1h-4zM10 9h1v1h-1zM9 10h1v1h-1zM11 10h1v1h-1z" fill-opacity="0.45"/><path d="M4 3h1v1h-1zM7 3h2v1h-2zM11 3h1v1h-1zM9 9h1v1h-1zM10 11h1v1h-1z" fill-opacity="0.2"/></g>
<g transform="translate(272 410)"><path d="M6 4h1v1h-1zM8 4h2v1h-2zM5 5h1v1h-1zM6 6h1v1h-1zM9 6h1v1h-1zM5 7h1v1h-1zM6 8h4v1h-4zM9 10h2v1h-2z"/><path d="M5 4h1v1h-1zM7 4h1v1h-1zM6 5h1v1h-1zM9 5h2v1h-2zM5 6h1v1h-1zM7 6h2v1h-2zM10 6h1v1h-1zM4 7h1v1h-1zM7 7h2v1h-2zM10 8h1v1h-1zM6 9h1v1h-1zM8 9h1v1h-1zM5 10h1v1h-1z" fill-opacity="0.72"/><path d="M9 3h1v1h-1zM10 4h1v1h-1zM7 5h2v1h-2zM6 7h1v1h-1zM9 7h3v1h-3zM5 8h1v1h-1zM7 9h1v1h-1zM9 9h2v1h-2zM6 10h1v1h-1zM8 10h1v1h-1z" fill-opacity="0.45"/><path d="M8 3h1v1h-1zM10 3h1v1h-1zM4 5h1v1h-1zM4 8h1v1h-1zM11 9h1v1h-1zM11 10h1v1h-1z" fill-opacity="0.2"/></g>
<g transform="translate(464 309)"><path d="M8 4h1v1h-1zM7 5h1v1h-1zM10 5h1v1h-1zM6 6h6v1h-6zM7 8h1v1h-1zM10 8h1v1h-1zM5 9h1v1h-1zM7 9h1v1h-1zM10 9h1v1h-1zM7 10h1v1h-1zM7 11h1v1h-1zM12 12h1v1h-1z"/><path d="M9 4h1v1h-1zM6 5h1v1h-1zM5 6h1v1h-1zM12 6h1v1h-1zM5 7h1v1h-1zM7 7h1v1h-1zM9 7h2v1h-2zM12 7h1v1h-1zM5 8h2v1h-2zM11 8h2v1h-2zM6 9h1v1h-1zM8 9h2v1h-2zM12 9h1v1h-1zM5 10h1v1h-1zM10 10h1v1h-1zM12 10h1v1h-1zM5 11h1v1h-1zM10 11h1v1h-1zM12 11h1v1h-1zM5 12h1v1h-1zM11 12h1v1h-1z" fill-opacity="0.72"/><path d="M5 4h3v1h-3zM10 4h3v1h-3zM5 5h1v1h-1zM8 5h2v1h-2zM11 5h2v1h-2zM8 7h1v1h-1zM11 9h1v1h-1zM8 10h2v1h-2zM8 11h2v1h-2zM5 13h1v1h-1z" fill-opacity="0.45"/><path d="M8 3h1v1h-1zM4 4h1v1h-1zM13 4h1v1h-1zM4 5h1v1h-1zM13 5h1v1h-1zM4 6h1v1h-1zM4 7h1v1h-1zM6 7h1v1h-1zM11 7h1v1h-1zM4 8h1v1h-1zM9 8h1v1h-1zM4 9h1v1h-1zM4 10h1v1h-1zM6 10h1v1h-1zM11 10h1v1h-1zM4 11h1v1h-1zM6 11h1v1h-1zM11 11h1v1h-1zM4 12h1v1h-1zM11 13h1v1h-1z" fill-opacity="0.2"/></g>
<g transform="translate(476 309)"><path d="M7 4h1v1h-1zM11 4h1v1h-1zM11 6h1v1h-1zM6 7h6v1h-6zM5 12h1v1h-1zM7 12h1v1h-1zM10 12h1v1h-1zM12 12h1v1h-1z"/><path d="M6 4h1v1h-1zM8 4h3v1h-3zM6 5h1v1h-1zM11 5h1v1h-1zM6 6h1v1h-1zM4 9h2v1h-2zM7 9h1v1h-1zM9 9h2v1h-2zM12 9h1v1h-1zM4 10h1v1h-1zM7 10h1v1h-1zM9 10h1v1h-1zM4 11h1v1h-1zM7 11h1v1h-1zM4 12h1v1h-1zM6 12h1v1h-1zM9 12h1v1h-1zM11 12h1v1h-1z" fill-opacity="0.72"/><path d="M7 6h4v1h-4zM5 8h3v1h-3zM10 8h3v1h-3zM6 9h1v1h-1zM8 9h1v1h-1zM11 9h1v1h-1zM13 9h1v1h-1zM5 10h1v1h-1zM8 10h1v1h-1zM10 10h1v1h-1zM12 10h2v1h-2zM5 11h1v1h-1zM8 11h3v1h-3zM12 11h2v1h-2zM8 12h1v1h-1zM13 12h1v1h-1z" fill-opacity="0.45"/><path d="M7 5h1v1h-1zM10 5h1v1h-1zM4 8h1v1h-1zM9 8h1v1h-1zM4 13h1v1h-1zM9 13h1v1h-1z" fill-opacity="0.2"/></g>
<g transform="translate(441 321)"><path d="M5 4h3v1h-3zM10 4h3v1h-3zM5 5h1v1h-1zM7 5h1v1h-1zM10 5h1v1h-1zM12 5h1v1h-1zM12 7h1v1h-1zM7 8h4v1h-4zM7 10h1v1h-1zM9 10h1v1h-1zM12 12h1v1h-1z"/><path d="M6 5h1v1h-1zM8 5h2v1h-2zM11 5h1v1h-1zM8 6h1v1h-1zM12 6h1v1h-1zM5 7h3v1h-3zM10 7h2v1h-2zM5 8h2v1h-2zM12 8h1v1h-1zM5 9h1v1h-1zM7 9h4v1h-4zM12 9h1v1h-1zM5 10h2v1h-2zM8 10h1v1h-1zM10 10h3v1h-3zM5 11h1v1h-1zM7 11h1v1h-1zM12 11h1v1h-1zM5 12h2v1h-2z" fill-opacity="0.72"/><path d="M4 4h1v1h-1zM8 4h2v1h-2zM13 4h1v1h-1zM4 5h1v1h-1zM13 5h1v1h-1zM4 6h2v1h-2zM7 6h1v1h-1zM9 6h2v1h-2zM13 6h1v1h-1zM4 7h1v1h-1zM8 7h2v1h-2zM13 7h1v1h-1zM4 8h1v1h-1zM11 8h1v1h-1zM13 8h1v1h-1zM4 9h1v1h-1zM6 9h1v1h-1zM11 9h1v1h-1zM13 9h1v1h-1zM4 10h1v1h-1zM13 10h1v1h-1zM4 11h1v1h-1zM9 11h2v1h-2zM13 11h1v1h-1zM4 12h1v1h-1zM7 12h1v1h-1zM9 12h3v1h-3zM13 12h1v1h-1zM11 13h2v1h-2z" fill-opacity="0.45"/><path d="M8 11h1v1h-1zM10 13h1v1h-1z" fill-opacity="0.2"/></g>
<g transform="translate(458 321)"><path d="M10 5h1v1h-1zM6 6h2v1h-2zM6 7h1v1h-1zM11 7h1v1h-1zM7 8h4v1h-4zM12 8h1v1h-1zM8 9h3v1h-3zM7 10h1v1h-1zM9 10h2v1h-2zM7 11h1v1h-1zM6 12h1v1h-1zM10 12h1v1h-1zM12 12h1v1h-1z"/><path d="M6 4h2v1h-2zM9 4h3v1h-3zM9 5h1v1h-1zM5 6h1v1h-1zM10 6h3v1h-3zM10 7h1v1h-1zM5 8h2v1h-2zM11 8h1v1h-1zM5 9h3v1h-3zM11 9h1v1h-1zM6 10h1v1h-1zM8 10h1v1h-1zM11 10h1v1h-1zM10 11h1v1h-1zM5 12h1v1h-1zM11 12h1v1h-1z" fill-opacity="0.72"/><path d="M5 4h1v1h-1zM8 4h1v1h-1zM7 5h2v1h-2zM11 5h2v1h-2zM9 6h1v1h-1zM7 7h1v1h-1zM13 8h1v1h-1zM4 9h1v1h-1zM12 9h1v1h-1zM5 10h1v1h-1zM12 10h1v1h-1zM6 11h1v1h-1zM9 11h1v1h-1zM12 11h1v1h-1zM9 12h1v1h-1z" fill-opacity="0.45"/><path d="M5 5h2v1h-2zM8 6h1v1h-1zM13 9h1v1h-1zM7 12h1v1h-1zM13 12h1v1h-1z" fill-opacity="0.2"/></g>
<g transform="translate(476 321)"><path d="M6 4h1v1h-1zM8 5h1v1h-1zM5 7h4v1h-4zM5 9h1v1h-1zM8 9h1v1h-1zM5 11h1v1h-1zM8 11h1v1h-1zM12 11h1v1h-1z"/><path d="M7 4h1v1h-1zM11 4h2v1h-2zM5 5h1v1h-1zM10 5h1v1h-1zM12 5h1v1h-1zM5 6h1v1h-1zM8 6h1v1h-1zM10 6h1v1h-1zM12 6h1v1h-1zM4 7h1v1h-1zM9 7h4v1h-4zM5 8h6v1h-6zM12 8h1v1h-1zM6 9h2v1h-2zM10 9h1v1h-1zM5 10h1v1h-1zM8 10h1v1h-1zM10 10h1v1h-1zM13 10h1v1h-1zM6 11h2v1h-2zM10 11h1v1h-1zM5 12h1v1h-1zM8 12h1v1h-1zM10 12h1v1h-1z" fill-opacity="0.72"/><path d="M5 4h1v1h-1zM8 4h1v1h-1zM10 4h1v1h-1zM4 5h1v1h-1zM6 5h2v1h-2zM9 5h1v1h-1zM6 6h2v1h-2zM11 6h1v1h-1zM4 8h1v1h-1zM11 8h1v1h-1zM12 9h2v1h-2zM12 10h1v1h-1zM11 11h1v1h-1z" fill-opacity="0.45"/><path d="M6 3h1v1h-1zM4 4h1v1h-1zM9 4h1v1h-1zM13 4h1v1h-1zM11 5h1v1h-1zM13 5h1v1h-1zM13 8h1v1h-1zM9 9h1v1h-1zM11 9h1v1h-1zM6 10h1v1h-1zM9 10h1v1h-1zM11 10h1v1h-1zM9 11h1v1h-1zM13 11h1v1h-1zM6 12h1v1h-1zM9 12h1v1h-1zM11 12h1v1h-1zM5 13h1v1h-1zM8 13h1v1h-1zM10 13h1v1h-1z" fill-opacity="0.2"/></g>
<g transform="translate(429 363)"><path d="M8 4h1v1h-1zM7 5h1v1h-1zM10 5h1v1h-1zM6 6h6v1h-6zM7 8h1v1h-1zM10 8h1v1h-1zM5 9h1v1h-1zM7 9h1v1h-1zM10 9h1v1h-1zM7 10h1v1h-1zM7 11h1v1h-1zM12 12h1v1h-1z"/><path d="M9 4h1v1h-1zM6 5h1v1h-1zM5 6h1v1h-1zM12 6h1v1h-1zM5 7h1v1h-1zM7 7h1v1h-1zM9 7h2v1h-2zM12 7h1v1h-1zM5 8h2v1h-2zM11 8h2v1h-2zM6 9h1v1h-1zM8 9h2v1h-2zM12 9h1v1h-1zM5 10h1v1h-1zM10 10h1v1h-1zM12 10h1v1h-1zM5 11h1v1h-1zM10 11h1v1h-1zM12 11h1v1h-1zM5 12h1v1h-1zM11 12h1v1h-1z" fill-opacity="0.72"/><path d="M5 4h3v1h-3zM10 4h3v1h-3zM5 5h1v1h-1zM8 5h2v1h-2zM11 5h2v1h-2zM8 7h1v1h-1zM11 9h1v1h-1zM8 10h2v1h-2zM8 11h2v1h-2zM5 13h1v1h-1z" fill-opacity="0.45"/><path d="M8 3h1v1h-1zM4 4h1v1h-1zM13 4h1v1h-1zM4 5h1v1h-1zM13 5h1v1h-1zM4 6h1v1h-1zM4 7h1v1h-1zM6 7h1v1h-1zM11 7h1v1h-1zM4 8h1v1h-1zM9 8h1v1h-1zM4 9h1v1h-1zM4 10h1v1h-1zM6 10h1v1h-1zM11 10h1v1h-1zM4 11h1v1h-1zM6 11h1v1h-1zM11 11h1v1h-1zM4 12h1v1h-1zM11 13h1v1h-1z" fill-opacity="0.2"/></g>
<g transform="translate(441 363)"><path d="M7 4h1v1h-1zM11 4h1v1h-1zM11 6h1v1h-1zM6 7h6v1h-6zM5 12h1v1h-1zM7 12h1v1h-1zM10 12h1v1h-1zM12 12h1v1h-1z"/><path d="M6 4h1v1h-1zM8 4h3v1h-3zM6 5h1v1h-1zM11 5h1v1h-1zM6 6h1v1h-1zM4 9h2v1h-2zM7 9h1v1h-1zM9 9h2v1h-2zM12 9h1v1h-1zM4 10h1v1h-1zM7 10h1v1h-1zM9 10h1v1h-1zM4 11h1v1h-1zM7 11h1v1h-1zM4 12h1v1h-1zM6 12h1v1h-1zM9 12h1v1h-1zM11 12h1v1h-1z" fill-opacity="0.72"/><path d="M7 6h4v1h-4zM5 8h3v1h-3zM10 8h3v1h-3zM6 9h1v1h-1zM8 9h1v1h-1zM11 9h1v1h-1zM13 9h1v1h-1zM5 10h1v1h-1zM8 10h1v1h-1zM10 10h1v1h-1zM12 10h2v1h-2zM5 11h1v1h-1zM8 11h3v1h-3zM12 11h2v1h-2zM8 12h1v1h-1zM13 12h1v1h-1z" fill-opacity="0.45"/><path d="M7 5h1v1h-1zM10 5h1v1h-1zM4 8h1v1h-1zM9 8h1v1h-1zM4 13h1v1h-1zM9 13h1v1h-1z" fill-opacity="0.2"/></g>
<g transform="translate(406 376)"><path d="M5 4h3v1h-3zM10 4h3v1h-3zM5 5h1v1h-1zM7 5h1v1h-1zM10 5h1v1h-1zM12 5h1v1h-1zM12 7h1v1h-1zM7 8h4v1h-4zM7 10h1v1h-1zM9 10h1v1h-1zM12 12h1v1h-1z"/><path d="M6 5h1v1h-1zM8 5h2v1h-2zM11 5h1v1h-1zM8 6h1v1h-1zM12 6h1v1h-1zM5 7h3v1h-3zM10 7h2v1h-2zM5 8h2v1h-2zM12 8h1v1h-1zM5 9h1v1h-1zM7 9h4v1h-4zM12 9h1v1h-1zM5 10h2v1h-2zM8 10h1v1h-1zM10 10h3v1h-3zM5 11h1v1h-1zM7 11h1v1h-1zM12 11h1v1h-1zM5 12h2v1h-2z" fill-opacity="0.72"/><path d="M4 4h1v1h-1zM8 4h2v1h-2zM13 4h1v1h-1zM4 5h1v1h-1zM13 5h1v1h-1zM4 6h2v1h-2zM7 6h1v1h-1zM9 6h2v1h-2zM13 6h1v1h-1zM4 7h1v1h-1zM8 7h2v1h-2zM13 7h1v1h-1zM4 8h1v1h-1zM11 8h1v1h-1zM13 8h1v1h-1zM4 9h1v1h-1zM6 9h1v1h-1zM11 9h1v1h-1zM13 9h1v1h-1zM4 10h1v1h-1zM13 10h1v1h-1zM4 11h1v1h-1zM9 11h2v1h-2zM13 11h1v1h-1zM4 12h1v1h-1zM7 12h1v1h-1zM9 12h3v1h-3zM13 12h1v1h-1zM11 13h2v1h-2z" fill-opacity="0.45"/><path d="M8 11h1v1h-1zM10 13h1v1h-1z" fill-opacity="0.2"/></g>
<g transform="translate(424 376)"><path d="M10 5h1v1h-1zM6 6h2v1h-2zM6 7h1v1h-1zM11 7h1v1h-1zM7 8h4v1h-4zM12 8h1v1h-1zM8 9h3v1h-3zM7 10h1v1h-1zM9 10h2v1h-2zM7 11h1v1h-1zM6 12h1v1h-1zM10 12h1v1h-1zM12 12h1v1h-1z"/><path d="M6 4h2v1h-2zM9 4h3v1h-3zM9 5h1v1h-1zM5 6h1v1h-1zM10 6h3v1h-3zM10 7h1v1h-1zM5 8h2v1h-2zM11 8h1v1h-1zM5 9h3v1h-3zM11 9h1v1h-1zM6 10h1v1h-1zM8 10h1v1h-1zM11 10h1v1h-1zM10 11h1v1h-1zM5 12h1v1h-1zM11 12h1v1h-1z" fill-opacity="0.72"/><path d="M5 4h1v1h-1zM8 4h1v1h-1zM7 5h2v1h-2zM11 5h2v1h-2zM9 6h1v1h-1zM7 7h1v1h-1zM13 8h1v1h-1zM4 9h1v1h-1zM12 9h1v1h-1zM5 10h1v1h-1zM12 10h1v1h-1zM6 11h1v1h-1zM9 11h1v1h-1zM12 11h1v1h-1zM9 12h1v1h-1z" fill-opacity="0.45"/><path d="M5 5h2v1h-2zM8 6h1v1h-1zM13 9h1v1h-1zM7 12h1v1h-1zM13 12h1v1h-1z" fill-opacity="0.2"/></g>
<g transform="translate(498 364)"><path d="M8 4h1v1h-1zM11 4h1v1h-1zM7 5h1v1h-1zM10 5h1v1h-1zM6 8h6v1h-6zM6 10h1v1h-1zM11 10h1v1h-1zM6 12h1v1h-1zM11 12h1v1h-1z"/><path d="M6 4h1v1h-1zM6 5h1v1h-1zM8 5h2v1h-2zM11 5h1v1h-1zM4 6h10v1h-10zM6 7h1v1h-1zM11 7h1v1h-1zM7 10h4v1h-4zM6 11h1v1h-1zM11 11h1v1h-1zM7 12h4v1h-4z" fill-opacity="0.72"/><path d="M7 4h1v1h-1zM5 5h1v1h-1zM12 5h1v1h-1zM7 7h4v1h-4zM6 13h1v1h-1zM11 13h1v1h-1z" fill-opacity="0.45"/><path d="M5 4h1v1h-1zM9 4h2v1h-2zM12 4h1v1h-1zM4 5h1v1h-1zM13 5h1v1h-1zM5 8h1v1h-1zM5 10h1v1h-1zM12 10h1v1h-1zM5 11h1v1h-1zM12 11h1v1h-1zM5 12h1v1h-1zM12 12h1v1h-1zM5 13h1v1h-1z" fill-opacity="0.2"/></g>
<g transform="translate(516 364)"><path d="M6 5h2v1h-2zM9 5h3v1h-3zM7 6h1v1h-1zM10 6h1v1h-1zM5 7h7v1h-7zM8 9h1v1h-1zM5 10h8v1h-8zM6 11h1v1h-1z"/><path d="M9 4h1v1h-1zM11 4h1v1h-1zM8 5h1v1h-1zM6 6h1v1h-1zM12 7h1v1h-1zM8 8h2v1h-2zM6 9h2v1h-2zM9 9h3v1h-3zM4 10h1v1h-1zM7 11h2v1h-2zM10 11h2v1h-2zM4 12h2v1h-2zM8 12h1v1h-1zM12 12h1v1h-1z" fill-opacity="0.72"/><path d="M9 3h1v1h-1zM5 4h4v1h-4zM10 4h1v1h-1zM5 5h1v1h-1zM12 5h1v1h-1zM5 6h1v1h-1zM8 6h2v1h-2zM11 6h2v1h-2zM4 7h1v1h-1zM6 8h2v1h-2zM10 8h2v1h-2zM5 9h1v1h-1zM13 10h1v1h-1zM5 11h1v1h-1zM9 11h1v1h-1zM9 12h1v1h-1zM11 12h1v1h-1zM13 12h1v1h-1z" fill-opacity="0.45"/><path d="M7 3h2v1h-2zM10 3h1v1h-1zM12 4h1v1h-1zM4 5h1v1h-1zM13 5h1v1h-1zM4 6h1v1h-1zM13 6h1v1h-1zM13 7h1v1h-1zM5 8h1v1h-1zM12 9h1v1h-1zM6 12h1v1h-1zM8 13h1v1h-1z" fill-opacity="0.2"/></g>
<g transform="translate(533 364)"><path d="M6 7h6v1h-6zM8 12h1v1h-1z"/><path d="M7 5h1v1h-1zM10 5h1v1h-1zM7 6h1v1h-1zM10 6h1v1h-1zM5 7h1v1h-1zM12 7h1v1h-1zM7 8h1v1h-1zM10 8h1v1h-1zM7 9h1v1h-1zM10 9h1v1h-1zM10 10h1v1h-1zM9 11h1v1h-1zM9 12h1v1h-1z" fill-opacity="0.72"/><path d="M6 5h1v1h-1zM11 5h1v1h-1zM6 6h1v1h-1zM11 6h1v1h-1zM4 7h1v1h-1zM13 7h1v1h-1zM6 8h1v1h-1zM11 8h1v1h-1zM6 9h1v1h-1zM7 10h1v1h-1zM10 11h1v1h-1zM8 13h1v1h-1z" fill-opacity="0.45"/><path d="M7 4h1v1h-1zM10 4h1v1h-1zM11 9h1v1h-1zM6 10h1v1h-1zM9 10h1v1h-1zM7 12h1v1h-1z" fill-opacity="0.2"/></g>
<g transform="translate(498 377)"><path d="M5 7h8v1h-8zM8 12h1v1h-1z"/><path d="M9 6h1v1h-1zM9 8h1v1h-1zM6 9h1v1h-1zM9 9h1v1h-1zM11 9h1v1h-1zM5 10h1v1h-1zM9 10h1v1h-1zM12 10h1v1h-1zM5 11h1v1h-1zM9 11h1v1h-1z" fill-opacity="0.72"/><path d="M11 4h2v1h-2zM8 5h2v1h-2zM11 5h2v1h-2zM8 6h1v1h-1zM8 8h1v1h-1zM8 9h1v1h-1zM6 10h1v1h-1zM8 10h1v1h-1zM4 11h1v1h-1zM8 11h1v1h-1zM12 11h2v1h-2zM7 12h1v1h-1zM9 12h1v1h-1z" fill-opacity="0.45"/><path d="M13 5h1v1h-1zM11 6h2v1h-2zM4 7h1v1h-1zM13 7h1v1h-1zM5 9h1v1h-1zM12 9h1v1h-1zM11 10h1v1h-1zM13 10h1v1h-1z" fill-opacity="0.2"/></g>
<g transform="translate(510 377)"><path d="M5 8h8v1h-8z"/><path d="M5 7h8v1h-8z" fill-opacity="0.45"/><path d="M4 8h1v1h-1zM13 8h1v1h-1z" fill-opacity="0.2"/></g>
<g transform="translate(521 377)"><path d="M8 8h3v1h-3z"/><path d="M8 5h1v1h-1zM8 6h1v1h-1zM8 7h1v1h-1zM8 9h1v1h-1zM10 9h2v1h-2zM8 10h1v1h-1zM8 11h1v1h-1zM8 12h1v1h-1z" fill-opacity="0.72"/><path d="M7 5h1v1h-1zM7 6h1v1h-1zM7 7h1v1h-1zM9 7h1v1h-1zM7 8h1v1h-1zM7 9h1v1h-1zM7 10h1v1h-1zM7 11h1v1h-1zM7 12h1v1h-1z" fill-opacity="0.45"/><path d="M11 8h1v1h-1zM8 13h1v1h-1z" fill-opacity="0.2"/></g>
<g transform="translate(404 412)"><path d="M7 4h1v1h-1zM11 4h1v1h-1zM11 6h1v1h-1zM6 7h6v1h-6zM5 12h1v1h-1zM7 12h1v1h-1zM10 12h1v1h-1zM12 12h1v1h-1z"/><path d="M6 4h1v1h-1zM8 4h3v1h-3zM6 5h1v1h-1zM11 5h1v1h-1zM6 6h1v1h-1zM4 9h2v1h-2zM7 9h1v1h-1zM9 9h2v1h-2zM12 9h1v1h-1zM4 10h1v1h-1zM7 10h1v1h-1zM9 10h1v1h-1zM4 11h1v1h-1zM7 11h1v1h-1zM4 12h1v1h-1zM6 12h1v1h-1zM9 12h1v1h-1zM11 12h1v1h-1z" fill-opacity="0.72"/><path d="M7 6h4v1h-4zM5 8h3v1h-3zM10 8h3v1h-3zM6 9h1v1h-1zM8 9h1v1h-1zM11 9h1v1h-1zM13 9h1v1h-1zM5 10h1v1h-1zM8 10h1v1h-1zM10 10h1v1h-1zM12 10h2v1h-2zM5 11h1v1h-1zM8 11h3v1h-3zM12 11h2v1h-2zM8 12h1v1h-1zM13 12h1v1h-1z" fill-opacity="0.45"/><path d="M7 5h1v1h-1zM10 5h1v1h-1zM4 8h1v1h-1zM9 8h1v1h-1zM4 13h1v1h-1zM9 13h1v1h-1z" fill-opacity="0.2"/></g>
<g transform="translate(416 412)"><path d="M6 5h2v1h-2zM10 5h2v1h-2zM11 8h1v1h-1zM6 9h1v1h-1zM11 9h1v1h-1zM6 10h6v1h-6zM6 11h6v1h-6zM6 12h1v1h-1zM11 12h1v1h-1z"/><path d="M5 4h3v1h-3zM10 4h2v1h-2zM5 5h1v1h-1zM8 5h2v1h-2zM12 5h1v1h-1zM5 6h1v1h-1zM7 6h1v1h-1zM9 6h1v1h-1zM11 6h1v1h-1zM9 7h1v1h-1zM6 8h1v1h-1zM7 9h4v1h-4zM12 12h1v1h-1zM5 13h1v1h-1zM12 13h1v1h-1z" fill-opacity="0.72"/><path d="M8 4h2v1h-2zM12 4h1v1h-1zM13 5h1v1h-1zM8 6h1v1h-1zM10 6h1v1h-1zM12 6h1v1h-1zM6 7h3v1h-3zM10 7h2v1h-2zM7 8h4v1h-4zM5 11h1v1h-1zM5 12h1v1h-1zM7 12h1v1h-1zM10 12h1v1h-1zM4 13h1v1h-1z" fill-opacity="0.45"/><path d="M4 6h1v1h-1zM6 6h1v1h-1zM4 7h2v1h-2zM12 7h1v1h-1zM5 8h1v1h-1zM12 8h1v1h-1zM5 9h1v1h-1zM12 9h1v1h-1zM5 10h1v1h-1zM12 10h1v1h-1zM12 11h1v1h-1zM6 13h1v1h-1zM13 13h1v1h-1z" fill-opacity="0.2"/></g>
<g transform="translate(429 412)"><path d="M7 5h1v1h-1zM9 5h1v1h-1zM11 5h1v1h-1zM8 6h1v1h-1zM5 7h1v1h-1zM12 7h1v1h-1zM7 10h4v1h-4zM11 11h1v1h-1zM7 12h1v1h-1zM11 12h1v1h-1z"/><path d="M6 4h2v1h-2zM9 4h2v1h-2zM5 5h2v1h-2zM8 5h1v1h-1zM10 5h1v1h-1zM12 5h1v1h-1zM9 6h1v1h-1zM6 7h6v1h-6zM13 7h1v1h-1zM7 8h5v1h-5zM6 9h2v1h-2zM11 9h1v1h-1zM6 10h1v1h-1zM11 10h1v1h-1zM6 11h2v1h-2zM6 12h1v1h-1zM8 12h3v1h-3z" fill-opacity="0.72"/><path d="M8 4h1v1h-1zM11 4h2v1h-2zM4 6h2v1h-2zM11 6h2v1h-2zM4 7h1v1h-1zM5 8h2v1h-2zM8 9h3v1h-3zM8 11h3v1h-3z" fill-opacity="0.45"/><path d="M5 4h1v1h-1zM13 4h1v1h-1zM13 5h1v1h-1zM7 6h1v1h-1zM4 8h1v1h-1zM12 8h2v1h-2zM12 11h1v1h-1zM12 12h1v1h-1z" fill-opacity="0.2"/></g>
<g transform="translate(441 412)"><path d="M8 4h1v1h-1zM10 4h1v1h-1zM12 4h1v1h-1zM8 6h1v1h-1zM10 6h1v1h-1zM12 6h1v1h-1zM5 7h1v1h-1zM8 8h1v1h-1zM10 8h1v1h-1zM12 8h1v1h-1zM10 10h1v1h-1zM4 11h1v1h-1zM7 12h6v1h-6z"/><path d="M4 4h3v1h-3zM9 4h1v1h-1zM11 4h1v1h-1zM5 5h1v1h-1zM8 5h1v1h-1zM10 5h1v1h-1zM12 5h1v1h-1zM5 6h1v1h-1zM9 6h1v1h-1zM11 6h1v1h-1zM6 7h1v1h-1zM8 7h1v1h-1zM10 7h1v1h-1zM12 7h1v1h-1zM5 8h1v1h-1zM9 8h1v1h-1zM11 8h1v1h-1zM5 9h1v1h-1zM10 9h1v1h-1zM5 10h2v1h-2zM8 10h2v1h-2zM11 10h2v1h-2zM5 11h1v1h-1zM10 11h1v1h-1zM13 12h1v1h-1z" fill-opacity="0.72"/><path d="M7 4h1v1h-1zM7 5h1v1h-1zM7 6h1v1h-1zM4 7h1v1h-1zM7 7h1v1h-1zM7 8h1v1h-1zM12 9h1v1h-1zM7 10h1v1h-1zM6 12h1v1h-1z" fill-opacity="0.45"/><path d="M13 4h1v1h-1zM6 5h1v1h-1zM9 5h1v1h-1zM11 5h1v1h-1zM13 5h1v1h-1zM6 6h1v1h-1zM13 6h1v1h-1zM9 7h1v1h-1zM11 7h1v1h-1zM13 7h1v1h-1zM6 8h1v1h-1zM13 8h1v1h-1zM6 9h1v1h-1zM9 9h1v1h-1zM6 11h1v1h-1zM9 11h1v1h-1z" fill-opacity="0.2"/></g>
<g transform="translate(497 412)"><path d="M7 6h1v1h-1zM6 7h2v1h-2zM7 9h2v1h-2zM11 9h1v1h-1zM6 10h1v1h-1zM11 12h1v1h-1z"/><path d="M7 5h1v1h-1zM8 6h1v1h-1zM11 6h2v1h-2zM7 8h1v1h-1zM10 9h1v1h-1zM7 10h1v1h-1zM12 10h1v1h-1zM5 11h1v1h-1zM7 11h1v1h-1zM12 11h1v1h-1zM5 12h3v1h-3zM10 12h1v1h-1zM6 13h1v1h-1z" fill-opacity="0.72"/><path d="M6 6h1v1h-1zM9 6h1v1h-1zM5 7h1v1h-1zM8 7h1v1h-1zM12 7h1v1h-1zM9 8h1v1h-1zM9 9h1v1h-1zM12 9h1v1h-1zM5 10h1v1h-1zM11 10h1v1h-1zM6 11h1v1h-1zM11 11h1v1h-1zM7 13h1v1h-1zM10 13h1v1h-1z" fill-opacity="0.45"/><path d="M6 5h1v1h-1zM13 7h1v1h-1zM6 8h1v1h-1zM10 8h1v1h-1zM6 9h1v1h-1zM4 11h1v1h-1zM4 12h1v1h-1zM9 12h1v1h-1zM12 12h1v1h-1zM5 13h1v1h-1zM11 13h1v1h-1z" fill-opacity="0.2"/></g>
<g transform="translate(509 412)"><path d="M8 4h1v1h-1zM5 5h1v1h-1zM7 5h1v1h-1zM12 5h1v1h-1zM7 6h4v1h-4zM6 7h2v1h-2zM8 8h2v1h-2zM6 9h2v1h-2zM10 9h2v1h-2zM7 10h1v1h-1zM10 10h1v1h-1zM7 12h1v1h-1zM10 12h1v1h-1z"/><path d="M9 4h1v1h-1zM6 6h1v1h-1zM9 7h2v1h-2zM8 9h2v1h-2zM12 9h1v1h-1zM6 10h1v1h-1zM8 10h2v1h-2zM11 10h1v1h-1zM8 12h2v1h-2z" fill-opacity="0.72"/><path d="M5 4h3v1h-3zM10 4h2v1h-2zM4 5h1v1h-1zM6 5h1v1h-1zM8 5h4v1h-4zM5 6h1v1h-1zM11 6h2v1h-2zM5 7h1v1h-1zM8 7h1v1h-1zM5 8h1v1h-1zM7 8h1v1h-1zM5 9h1v1h-1zM4 10h2v1h-2zM12 10h1v1h-1zM6 11h2v1h-2zM10 11h2v1h-2zM6 12h1v1h-1zM11 12h1v1h-1z" fill-opacity="0.45"/><path d="M8 3h1v1h-1zM12 4h1v1h-1zM4 6h1v1h-1zM10 8h1v1h-1zM4 9h1v1h-1zM13 9h1v1h-1zM13 10h1v1h-1z" fill-opacity="0.2"/></g>
<g transform="translate(521 412)"><path d="M9 4h1v1h-1zM10 5h2v1h-2zM5 6h2v1h-2zM9 6h3v1h-3zM6 7h1v1h-1zM5 8h2v1h-2zM5 9h1v1h-1zM10 9h1v1h-1zM9 10h3v1h-3zM8 11h1v1h-1zM10 12h1v1h-1z"/><path d="M6 4h1v1h-1zM11 4h1v1h-1zM6 5h1v1h-1zM8 5h2v1h-2zM12 5h1v1h-1zM7 6h1v1h-1zM12 6h1v1h-1zM5 7h1v1h-1zM10 7h1v1h-1zM7 8h1v1h-1zM10 8h1v1h-1zM6 9h1v1h-1zM9 9h1v1h-1zM12 9h1v1h-1zM4 10h3v1h-3zM6 11h1v1h-1zM9 11h4v1h-4zM6 12h1v1h-1z" fill-opacity="0.72"/><path d="M5 4h1v1h-1zM8 4h1v1h-1zM5 5h1v1h-1zM4 6h1v1h-1zM8 6h1v1h-1zM8 7h2v1h-2zM11 7h2v1h-2zM8 8h2v1h-2zM11 8h2v1h-2zM4 9h1v1h-1zM8 9h1v1h-1zM11 9h1v1h-1zM8 10h1v1h-1zM5 11h1v1h-1zM5 12h1v1h-1zM7 12h3v1h-3z" fill-opacity="0.45"/><path d="M5 3h2v1h-2zM10 4h1v1h-1zM12 4h1v1h-1zM13 5h1v1h-1zM7 7h1v1h-1zM13 7h1v1h-1zM4 8h1v1h-1zM13 8h1v1h-1zM12 10h1v1h-1zM7 11h1v1h-1zM13 11h1v1h-1zM12 12h2v1h-2zM9 13h1v1h-1z" fill-opacity="0.2"/></g>
<g transform="translate(533 412)"><path d="M9 5h1v1h-1zM12 5h1v1h-1zM5 6h5v1h-5zM6 7h1v1h-1zM9 7h4v1h-4zM6 8h2v1h-2zM9 8h1v1h-1zM6 9h1v1h-1zM9 9h1v1h-1zM12 9h1v1h-1zM9 11h1v1h-1zM12 11h1v1h-1zM9 12h1v1h-1zM12 12h1v1h-1z"/><path d="M6 4h1v1h-1zM6 5h1v1h-1zM4 6h1v1h-1zM12 6h1v1h-1zM7 7h1v1h-1zM8 8h1v1h-1zM12 8h1v1h-1zM5 9h1v1h-1zM10 9h2v1h-2zM4 10h3v1h-3zM9 10h1v1h-1zM12 10h1v1h-1zM6 11h1v1h-1zM10 11h2v1h-2zM6 12h1v1h-1zM10 12h2v1h-2z" fill-opacity="0.72"/><path d="M7 4h1v1h-1zM10 4h3v1h-3zM7 5h1v1h-1zM10 5h2v1h-2zM13 5h1v1h-1zM13 6h1v1h-1zM13 7h1v1h-1zM5 8h1v1h-1zM13 8h1v1h-1zM7 9h2v1h-2zM13 9h1v1h-1zM7 10h1v1h-1zM13 10h1v1h-1zM4 11h1v1h-1zM7 11h1v1h-1zM13 11h1v1h-1zM7 12h1v1h-1zM13 12h1v1h-1z" fill-opacity="0.45"/><path d="M6 3h1v1h-1zM9 4h1v1h-1zM10 6h1v1h-1zM5 7h1v1h-1zM8 7h1v1h-1zM10 8h1v1h-1zM10 10h1v1h-1zM5 11h1v1h-1zM6 13h1v1h-1zM9 13h1v1h-1zM12 13h1v1h-1z" fill-opacity="0.2"/></g>
<g transform="translate(497 424)"><path d="M5 4h1v1h-1zM10 4h1v1h-1zM5 5h2v1h-2zM10 5h2v1h-2zM10 6h1v1h-1zM9 7h1v1h-1zM5 8h1v1h-1zM8 8h1v1h-1zM10 9h1v1h-1zM8 10h1v1h-1zM10 10h2v1h-2zM6 12h1v1h-1zM12 12h1v1h-1z"/><path d="M4 5h1v1h-1zM8 5h1v1h-1zM12 5h1v1h-1zM8 6h2v1h-2zM11 6h1v1h-1zM5 7h1v1h-1zM12 7h1v1h-1zM6 8h2v1h-2zM10 8h1v1h-1zM8 9h2v1h-2zM12 9h1v1h-1zM4 10h1v1h-1zM6 10h2v1h-2zM4 11h1v1h-1zM6 11h1v1h-1zM9 11h1v1h-1zM11 11h1v1h-1zM4 12h2v1h-2zM7 12h3v1h-3z" fill-opacity="0.72"/><path d="M6 4h1v1h-1zM11 4h1v1h-1zM7 5h1v1h-1zM9 5h1v1h-1zM5 6h2v1h-2zM4 7h1v1h-1zM6 7h1v1h-1zM8 7h1v1h-1zM10 7h2v1h-2zM4 8h1v1h-1zM9 8h1v1h-1zM5 9h2v1h-2zM11 9h1v1h-1zM5 10h1v1h-1zM9 10h1v1h-1zM12 10h1v1h-1zM7 11h1v1h-1zM10 11h1v1h-1zM13 12h1v1h-1z" fill-opacity="0.45"/><path d="M4 4h1v1h-1zM9 4h1v1h-1zM12 4h1v1h-1zM4 6h1v1h-1zM7 6h1v1h-1zM13 7h1v1h-1zM11 8h3v1h-3zM4 9h1v1h-1zM7 9h1v1h-1zM13 9h1v1h-1zM5 11h1v1h-1zM8 11h1v1h-1zM12 11h1v1h-1zM11 12h1v1h-1zM4 13h1v1h-1zM6 13h3v1h-3z" fill-opacity="0.2"/></g>
<g transform="translate(515 424)"><path d="M8 4h2v1h-2zM5 5h1v1h-1zM10 5h1v1h-1zM6 6h2v1h-2zM10 6h2v1h-2zM10 8h2v1h-2zM9 10h1v1h-1zM12 11h1v1h-1zM7 12h1v1h-1zM11 12h1v1h-1z"/><path d="M8 5h2v1h-2zM12 5h2v1h-2zM5 6h1v1h-1zM8 6h1v1h-1zM5 7h1v1h-1zM7 7h1v1h-1zM6 8h2v1h-2zM9 8h1v1h-1zM6 9h1v1h-1zM8 9h1v1h-1zM11 9h1v1h-1zM7 10h1v1h-1zM5 11h1v1h-1zM7 11h1v1h-1zM11 11h1v1h-1zM8 12h3v1h-3z" fill-opacity="0.72"/><path d="M5 4h3v1h-3zM10 4h3v1h-3zM6 5h2v1h-2zM11 5h1v1h-1zM9 6h1v1h-1zM12 6h2v1h-2zM6 7h1v1h-1zM8 7h1v1h-1zM10 7h2v1h-2zM8 8h1v1h-1zM7 9h1v1h-1zM9 9h1v1h-1zM12 9h1v1h-1zM5 10h2v1h-2zM8 10h1v1h-1zM6 11h1v1h-1zM9 11h1v1h-1zM4 12h3v1h-3zM12 12h1v1h-1z" fill-opacity="0.45"/><path d="M8 3h1v1h-1zM13 4h1v1h-1zM4 5h1v1h-1zM4 7h1v1h-1zM5 9h1v1h-1zM11 10h2v1h-2zM4 11h1v1h-1zM10 11h1v1h-1zM13 11h1v1h-1zM13 12h1v1h-1z" fill-opacity="0.2"/></g>
<g transform="translate(533 424)"><path d="M5 5h1v1h-1zM11 5h1v1h-1zM5 11h7v1h-7z"/><path d="M6 5h5v1h-5zM5 6h1v1h-1zM5 7h1v1h-1zM5 8h1v1h-1zM5 9h1v1h-1zM5 10h1v1h-1zM5 12h1v1h-1z" fill-opacity="0.72"/><path d="M12 5h1v1h-1zM11 6h2v1h-2zM11 7h2v1h-2zM11 8h2v1h-2zM11 9h2v1h-2zM11 10h2v1h-2zM12 11h1v1h-1zM11 12h2v1h-2z" fill-opacity="0.45"/><path d="M4 5h1v1h-1zM4 6h1v1h-1zM4 7h1v1h-1zM4 8h1v1h-1zM4 9h1v1h-1zM4 10h1v1h-1zM4 11h1v1h-1zM4 12h1v1h-1zM6 12h1v1h-1zM5 13h1v1h-1zM11 13h1v1h-1z" fill-opacity="0.2"/></g>
<g transform="translate(497 457)"><path d="M8 4h2v1h-2zM9 5h1v1h-1zM10 7h2v1h-2zM8 9h4v1h-4z"/><path d="M6 4h2v1h-2zM10 4h3v1h-3zM6 5h1v1h-1zM10 5h1v1h-1zM6 6h1v1h-1zM9 6h1v1h-1zM6 7h1v1h-1zM9 7h1v1h-1zM12 7h1v1h-1zM6 8h1v1h-1zM9 8h1v1h-1zM6 9h2v1h-2zM12 9h1v1h-1zM6 10h2v1h-2zM12 10h1v1h-1zM5 11h1v1h-1zM7 11h2v1h-2zM11 11h2v1h-2zM5 12h1v1h-1zM7 12h2v1h-2zM11 12h2v1h-2z" fill-opacity="0.72"/><path d="M13 4h1v1h-1zM5 5h1v1h-1zM7 5h2v1h-2zM11 5h3v1h-3zM5 6h1v1h-1zM10 6h1v1h-1zM5 7h1v1h-1zM5 8h1v1h-1zM10 8h1v1h-1zM5 9h1v1h-1zM5 10h1v1h-1zM8 10h1v1h-1zM6 11h1v1h-1zM9 11h2v1h-2zM4 12h1v1h-1zM9 12h2v1h-2z" fill-opacity="0.45"/><path d="M8 3h2v1h-2zM5 4h1v1h-1zM13 7h1v1h-1zM11 10h1v1h-1zM7 13h1v1h-1zM12 13h1v1h-1z" fill-opacity="0.2"/></g>
<g transform="translate(509 457)"><path d="M6 5h2v1h-2zM5 6h1v1h-1zM10 6h2v1h-2zM6 7h2v1h-2zM9 8h1v1h-1zM9 9h1v1h-1zM8 10h2v1h-2zM8 11h1v1h-1zM8 12h1v1h-1zM12 12h1v1h-1z"/><path d="M6 4h2v1h-2zM11 4h1v1h-1zM8 5h1v1h-1zM11 5h2v1h-2zM6 6h2v1h-2zM9 6h1v1h-1zM12 6h1v1h-1zM4 7h2v1h-2zM9 7h4v1h-4zM5 8h4v1h-4zM10 8h3v1h-3zM10 9h3v1h-3zM5 10h1v1h-1zM7 10h1v1h-1zM10 10h3v1h-3zM5 11h1v1h-1zM9 11h1v1h-1zM11 11h1v1h-1zM5 12h3v1h-3zM9 12h1v1h-1zM11 12h1v1h-1z" fill-opacity="0.72"/><path d="M12 4h1v1h-1zM5 5h1v1h-1zM10 5h1v1h-1zM8 6h1v1h-1zM13 6h1v1h-1zM8 7h1v1h-1zM13 7h1v1h-1zM13 8h1v1h-1zM6 9h3v1h-3zM13 9h1v1h-1zM6 10h1v1h-1zM13 10h1v1h-1zM10 11h1v1h-1zM12 11h2v1h-2zM10 12h1v1h-1zM13 12h1v1h-1zM9 13h1v1h-1z" fill-opacity="0.45"/><path d="M10 4h1v1h-1zM13 5h1v1h-1zM4 6h1v1h-1zM4 8h1v1h-1zM5 9h1v1h-1zM6 11h2v1h-2zM5 13h1v1h-1zM8 13h1v1h-1zM11 13h2v1h-2z" fill-opacity="0.2"/></g>
<g transform="translate(521 457)"><path d="M9 5h1v1h-1zM12 5h1v1h-1zM5 6h5v1h-5zM6 7h1v1h-1zM9 7h4v1h-4zM6 8h2v1h-2zM9 8h1v1h-1zM6 9h1v1h-1zM9 9h1v1h-1zM12 9h1v1h-1zM9 11h1v1h-1zM12 11h1v1h-1zM9 12h1v1h-1zM12 12h1v1h-1z"/><path d="M6 4h1v1h-1zM6 5h1v1h-1zM4 6h1v1h-1zM12 6h1v1h-1zM7 7h1v1h-1zM8 8h1v1h-1zM12 8h1v1h-1zM5 9h1v1h-1zM10 9h2v1h-2zM4 10h3v1h-3zM9 10h1v1h-1zM12 10h1v1h-1zM6 11h1v1h-1zM10 11h2v1h-2zM6 12h1v1h-1zM10 12h2v1h-2z" fill-opacity="0.72"/><path d="M7 4h1v1h-1zM10 4h3v1h-3zM7 5h1v1h-1zM10 5h2v1h-2zM13 5h1v1h-1zM13 6h1v1h-1zM13 7h1v1h-1zM5 8h1v1h-1zM13 8h1v1h-1zM7 9h2v1h-2zM13 9h1v1h-1zM7 10h1v1h-1zM13 10h1v1h-1zM4 11h1v1h-1zM7 11h1v1h-1zM13 11h1v1h-1zM7 12h1v1h-1zM13 12h1v1h-1z" fill-opacity="0.45"/><path d="M6 3h1v1h-1zM9 4h1v1h-1zM10 6h1v1h-1zM5 7h1v1h-1zM8 7h1v1h-1zM10 8h1v1h-1zM10 10h1v1h-1zM5 11h1v1h-1zM6 13h1v1h-1zM9 13h1v1h-1zM12 13h1v1h-1z" fill-opacity="0.2"/></g>
<g transform="translate(533 457)"><path d="M5 4h1v1h-1zM10 4h1v1h-1zM5 5h2v1h-2zM10 5h2v1h-2zM10 6h1v1h-1zM9 7h1v1h-1zM5 8h1v1h-1zM8 8h1v1h-1zM10 9h1v1h-1zM8 10h1v1h-1zM10 10h2v1h-2zM6 12h1v1h-1zM12 12h1v1h-1z"/><path d="M4 5h1v1h-1zM8 5h1v1h-1zM12 5h1v1h-1zM8 6h2v1h-2zM11 6h1v1h-1zM5 7h1v1h-1zM12 7h1v1h-1zM6 8h2v1h-2zM10 8h1v1h-1zM8 9h2v1h-2zM12 9h1v1h-1zM4 10h1v1h-1zM6 10h2v1h-2zM4 11h1v1h-1zM6 11h1v1h-1zM9 11h1v1h-1zM11 11h1v1h-1zM4 12h2v1h-2zM7 12h3v1h-3z" fill-opacity="0.72"/><path d="M6 4h1v1h-1zM11 4h1v1h-1zM7 5h1v1h-1zM9 5h1v1h-1zM5 6h2v1h-2zM4 7h1v1h-1zM6 7h1v1h-1zM8 7h1v1h-1zM10 7h2v1h-2zM4 8h1v1h-1zM9 8h1v1h-1zM5 9h2v1h-2zM11 9h1v1h-1zM5 10h1v1h-1zM9 10h1v1h-1zM12 10h1v1h-1zM7 11h1v1h-1zM10 11h1v1h-1zM13 12h1v1h-1z" fill-opacity="0.45"/><path d="M4 4h1v1h-1zM9 4h1v1h-1zM12 4h1v1h-1zM4 6h1v1h-1zM7 6h1v1h-1zM13 7h1v1h-1zM11 8h3v1h-3zM4 9h1v1h-1zM7 9h1v1h-1zM13 9h1v1h-1zM5 11h1v1h-1zM8 11h1v1h-1zM12 11h1v1h-1zM11 12h1v1h-1zM4 13h1v1h-1zM6 13h3v1h-3z" fill-opacity="0.2"/></g>
<g transform="translate(497 469)"><path d="M8 4h2v1h-2zM5 5h1v1h-1zM10 5h1v1h-1zM6 6h2v1h-2zM10 6h2v1h-2zM10 8h2v1h-2zM9 10h1v1h-1zM12 11h1v1h-1zM7 12h1v1h-1zM11 12h1v1h-1z"/><path d="M8 5h2v1h-2zM12 5h2v1h-2zM5 6h1v1h-1zM8 6h1v1h-1zM5 7h1v1h-1zM7 7h1v1h-1zM6 8h2v1h-2zM9 8h1v1h-1zM6 9h1v1h-1zM8 9h1v1h-1zM11 9h1v1h-1zM7 10h1v1h-1zM5 11h1v1h-1zM7 11h1v1h-1zM11 11h1v1h-1zM8 12h3v1h-3z" fill-opacity="0.72"/><path d="M5 4h3v1h-3zM10 4h3v1h-3zM6 5h2v1h-2zM11 5h1v1h-1zM9 6h1v1h-1zM12 6h2v1h-2zM6 7h1v1h-1zM8 7h1v1h-1zM10 7h2v1h-2zM8 8h1v1h-1zM7 9h1v1h-1zM9 9h1v1h-1zM12 9h1v1h-1zM5 10h2v1h-2zM8 10h1v1h-1zM6 11h1v1h-1zM9 11h1v1h-1zM4 12h3v1h-3zM12 12h1v1h-1z" fill-opacity="0.45"/><path d="M8 3h1v1h-1zM13 4h1v1h-1zM4 5h1v1h-1zM4 7h1v1h-1zM5 9h1v1h-1zM11 10h2v1h-2zM4 11h1v1h-1zM10 11h1v1h-1zM13 11h1v1h-1zM13 12h1v1h-1z" fill-opacity="0.2"/></g>
<g transform="translate(533 469)"><path d="M5 5h1v1h-1zM11 5h1v1h-1zM5 11h7v1h-7z"/><path d="M6 5h5v1h-5zM5 6h1v1h-1zM5 7h1v1h-1zM5 8h1v1h-1zM5 9h1v1h-1zM5 10h1v1h-1zM5 12h1v1h-1z" fill-opacity="0.72"/><path d="M12 5h1v1h-1zM11 6h2v1h-2zM11 7h2v1h-2zM11 8h2v1h-2zM11 9h2v1h-2zM11 10h2v1h-2zM12 11h1v1h-1zM11 12h2v1h-2z" fill-opacity="0.45"/><path d="M4 5h1v1h-1zM4 6h1v1h-1zM4 7h1v1h-1zM4 8h1v1h-1zM4 9h1v1h-1zM4 10h1v1h-1zM4 11h1v1h-1zM4 12h1v1h-1zM6 12h1v1h-1zM5 13h1v1h-1zM11 13h1v1h-1z" fill-opacity="0.2"/></g>
<g transform="translate(696 309)"><path d="M11 5h1v1h-1zM10 6h1v1h-1zM9 7h1v1h-1z"/><path d="M8 7h1v1h-1zM7 8h3v1h-3zM5 9h1v1h-1zM9 9h1v1h-1zM9 10h1v1h-1zM9 11h1v1h-1zM9 12h1v1h-1z" fill-opacity="0.72"/><path d="M10 5h1v1h-1zM12 5h1v1h-1zM6 8h1v1h-1zM6 9h1v1h-1z" fill-opacity="0.45"/><path d="M9 6h1v1h-1zM11 6h1v1h-1zM10 7h1v1h-1zM8 9h1v1h-1zM8 10h1v1h-1zM8 11h1v1h-1zM8 12h1v1h-1zM9 13h1v1h-1z" fill-opacity="0.2"/></g>
<g transform="translate(706 309)"><path d="M6 6h1v1h-1zM10 9h1v1h-1zM9 10h1v1h-1zM7 11h1v1h-1z"/><path d="M7 6h1v1h-1zM11 8h2v1h-2zM11 9h1v1h-1zM8 10h1v1h-1zM6 11h1v1h-1zM8 11h1v1h-1z" fill-opacity="0.72"/><path d="M5 5h2v1h-2zM12 7h1v1h-1zM10 10h1v1h-1zM5 12h2v1h-2z" fill-opacity="0.45"/><path d="M5 6h1v1h-1zM7 7h1v1h-1zM13 7h1v1h-1zM9 9h1v1h-1zM7 10h1v1h-1zM5 11h1v1h-1z" fill-opacity="0.2"/></g>
<g transform="translate(717 309)"><path d="M8 5h1v1h-1zM8 6h4v1h-4zM9 9h2v1h-2zM9 10h2v1h-2zM8 11h1v1h-1zM11 11h1v1h-1zM6 12h2v1h-2z"/><path d="M7 6h1v1h-1zM6 7h2v1h-2zM11 7h1v1h-1zM8 8h1v1h-1z" fill-opacity="0.72"/><path d="M12 6h1v1h-1zM5 8h3v1h-3zM10 8h2v1h-2zM8 9h1v1h-1zM7 11h1v1h-1zM10 11h1v1h-1zM6 13h1v1h-1z" fill-opacity="0.45"/><path d="M8 4h2v1h-2zM7 5h1v1h-1zM9 5h1v1h-1zM10 7h1v1h-1zM9 8h1v1h-1zM8 10h1v1h-1zM11 10h1v1h-1zM9 11h1v1h-1zM5 12h1v1h-1zM8 12h1v1h-1zM5 13h1v1h-1z" fill-opacity="0.2"/></g>
<g transform="translate(727 309)"><path d="M5 8h8v1h-8z"/><path d="M5 7h8v1h-8z" fill-opacity="0.45"/><path d="M4 8h1v1h-1zM13 8h1v1h-1z" fill-opacity="0.2"/></g>
<g transform="translate(738 309)"><path d="M6 6h5v1h-5zM7 9h2v1h-2zM11 9h1v1h-1zM5 10h2v1h-2z"/><path d="M11 6h1v1h-1zM10 7h1v1h-1zM9 8h1v1h-1zM9 9h1v1h-1zM12 10h1v1h-1z" fill-opacity="0.72"/><path d="M8 5h2v1h-2zM5 6h1v1h-1zM11 7h1v1h-1zM8 8h1v1h-1zM10 8h1v1h-1zM10 9h1v1h-1zM8 10h2v1h-2zM8 11h2v1h-2zM8 12h2v1h-2z" fill-opacity="0.45"/><path d="M8 4h2v1h-2zM6 9h1v1h-1zM12 9h1v1h-1zM4 10h1v1h-1zM7 10h1v1h-1zM11 10h1v1h-1zM8 13h1v1h-1z" fill-opacity="0.2"/></g>
<g transform="translate(748 309)"><path d="M8 7h1v1h-1zM6 8h1v1h-1zM11 8h1v1h-1zM11 9h1v1h-1zM10 10h1v1h-1zM9 11h1v1h-1zM8 12h1v1h-1z" fill-opacity="0.72"/><path d="M11 7h2v1h-2zM8 8h1v1h-1zM10 9h1v1h-1zM10 11h1v1h-1z" fill-opacity="0.45"/><path d="M5 7h2v1h-2zM9 7h1v1h-1zM5 8h1v1h-1zM7 8h1v1h-1zM9 8h1v1h-1zM12 8h1v1h-1zM6 9h1v1h-1zM9 10h1v1h-1zM11 10h1v1h-1zM8 11h1v1h-1zM7 12h1v1h-1zM9 12h1v1h-1z" fill-opacity="0.2"/></g>
<g transform="translate(699 320)"><path d="M8 8h3v1h-3z"/><path d="M8 5h1v1h-1zM8 6h1v1h-1zM8 7h1v1h-1zM8 9h1v1h-1zM10 9h2v1h-2zM8 10h1v1h-1zM8 11h1v1h-1zM8 12h1v1h-1z" fill-opacity="0.72"/><path d="M7 5h1v1h-1zM7 6h1v1h-1zM7 7h1v1h-1zM9 7h1v1h-1zM7 8h1v1h-1zM7 9h1v1h-1zM7 10h1v1h-1zM7 11h1v1h-1zM7 12h1v1h-1z" fill-opacity="0.45"/><path d="M11 8h1v1h-1zM8 13h1v1h-1z" fill-opacity="0.2"/></g>
<g transform="translate(715 320)"><path d="M5 4h2v1h-2zM9 4h1v1h-1zM11 4h1v1h-1zM5 6h2v1h-2zM9 7h1v1h-1zM5 8h2v1h-2zM9 8h1v1h-1zM11 9h1v1h-1zM5 10h2v1h-2zM6 11h1v1h-1zM8 11h1v1h-1zM10 11h2v1h-2zM7 12h3v1h-3z"/><path d="M10 4h1v1h-1zM12 4h1v1h-1zM8 5h2v1h-2zM8 6h4v1h-4zM8 7h1v1h-1zM10 7h3v1h-3zM8 8h1v1h-1zM10 8h2v1h-2zM8 9h3v1h-3zM8 10h1v1h-1zM10 10h2v1h-2zM5 11h1v1h-1zM7 11h1v1h-1zM9 11h1v1h-1zM4 12h1v1h-1zM12 12h1v1h-1z" fill-opacity="0.72"/><path d="M4 4h1v1h-1zM7 4h2v1h-2zM4 5h4v1h-4zM10 5h1v1h-1zM4 6h1v1h-1zM7 6h1v1h-1zM12 6h1v1h-1zM4 7h4v1h-4zM4 8h1v1h-1zM7 8h1v1h-1zM12 8h1v1h-1zM4 9h4v1h-4zM4 10h1v1h-1zM7 10h1v1h-1zM9 10h1v1h-1zM4 11h1v1h-1zM12 11h1v1h-1zM5 12h2v1h-2zM13 12h1v1h-1z" fill-opacity="0.45"/><path d="M11 5h1v1h-1zM12 9h1v1h-1zM4 13h1v1h-1z" fill-opacity="0.2"/></g>
<g transform="translate(732 320)"><path d="M8 5h2v1h-2zM6 6h6v1h-6zM5 8h1v1h-1zM12 8h1v1h-1zM5 12h1v1h-1zM10 12h1v1h-1zM12 12h1v1h-1z"/><path d="M8 4h1v1h-1zM5 5h3v1h-3zM10 5h3v1h-3zM7 7h4v1h-4zM4 8h1v1h-1zM6 8h6v1h-6zM4 9h1v1h-1zM7 9h1v1h-1zM10 9h1v1h-1zM7 10h1v1h-1zM10 10h1v1h-1zM7 11h1v1h-1zM10 11h1v1h-1zM6 12h1v1h-1zM11 12h1v1h-1z" fill-opacity="0.72"/><path d="M9 4h1v1h-1zM4 5h1v1h-1zM13 5h1v1h-1zM5 6h1v1h-1zM12 6h1v1h-1zM6 7h1v1h-1zM11 7h1v1h-1zM13 8h1v1h-1zM5 9h1v1h-1zM9 9h1v1h-1zM12 9h2v1h-2zM9 10h1v1h-1zM6 11h1v1h-1zM9 11h1v1h-1zM12 11h2v1h-2zM13 12h1v1h-1z" fill-opacity="0.45"/><path d="M8 3h1v1h-1zM5 7h1v1h-1zM12 7h1v1h-1zM8 9h1v1h-1zM8 10h1v1h-1zM4 12h1v1h-1zM9 12h1v1h-1z" fill-opacity="0.2"/></g>
<g transform="translate(748 320)"><path d="M6 4h1v1h-1zM8 5h1v1h-1zM5 7h4v1h-4zM5 9h1v1h-1zM8 9h1v1h-1zM5 11h1v1h-1zM8 11h1v1h-1zM12 11h1v1h-1z"/><path d="M7 4h1v1h-1zM11 4h2v1h-2zM5 5h1v1h-1zM10 5h1v1h-1zM12 5h1v1h-1zM5 6h1v1h-1zM8 6h1v1h-1zM10 6h1v1h-1zM12 6h1v1h-1zM4 7h1v1h-1zM9 7h4v1h-4zM5 8h6v1h-6zM12 8h1v1h-1zM6 9h2v1h-2zM10 9h1v1h-1zM5 10h1v1h-1zM8 10h1v1h-1zM10 10h1v1h-1zM13 10h1v1h-1zM6 11h2v1h-2zM10 11h1v1h-1zM5 12h1v1h-1zM8 12h1v1h-1zM10 12h1v1h-1z" fill-opacity="0.72"/><path d="M5 4h1v1h-1zM8 4h1v1h-1zM10 4h1v1h-1zM4 5h1v1h-1zM6 5h2v1h-2zM9 5h1v1h-1zM6 6h2v1h-2zM11 6h1v1h-1zM4 8h1v1h-1zM11 8h1v1h-1zM12 9h2v1h-2zM12 10h1v1h-1zM11 11h1v1h-1z" fill-opacity="0.45"/><path d="M6 3h1v1h-1zM4 4h1v1h-1zM9 4h1v1h-1zM13 4h1v1h-1zM11 5h1v1h-1zM13 5h1v1h-1zM13 8h1v1h-1zM9 9h1v1h-1zM11 9h1v1h-1zM6 10h1v1h-1zM9 10h1v1h-1zM11 10h1v1h-1zM9 11h1v1h-1zM13 11h1v1h-1zM6 12h1v1h-1zM9 12h1v1h-1zM11 12h1v1h-1zM5 13h1v1h-1zM8 13h1v1h-1zM10 13h1v1h-1z" fill-opacity="0.2"/></g>
<g transform="translate(673 368)"><path d="M9 5h1v1h-1zM5 6h2v1h-2zM6 7h1v1h-1zM5 8h3v1h-3zM5 9h1v1h-1zM11 11h1v1h-1zM11 12h2v1h-2z"/><path d="M6 4h1v1h-1zM9 4h1v1h-1zM11 4h1v1h-1zM6 5h1v1h-1zM11 5h1v1h-1zM7 6h1v1h-1zM9 6h1v1h-1zM11 6h1v1h-1zM5 7h1v1h-1zM8 7h1v1h-1zM12 7h1v1h-1zM8 8h1v1h-1zM10 8h1v1h-1zM12 8h2v1h-2zM6 9h1v1h-1zM9 9h1v1h-1zM4 10h3v1h-3zM9 10h1v1h-1zM11 10h1v1h-1zM6 11h1v1h-1zM6 12h1v1h-1zM8 12h3v1h-3z" fill-opacity="0.72"/><path d="M5 4h1v1h-1zM10 4h1v1h-1zM5 5h1v1h-1zM10 5h1v1h-1zM4 6h1v1h-1zM8 6h1v1h-1zM9 7h1v1h-1zM11 7h1v1h-1zM9 8h1v1h-1zM4 9h1v1h-1zM7 9h1v1h-1zM10 9h1v1h-1zM5 11h1v1h-1zM8 11h2v1h-2zM12 11h1v1h-1zM5 12h1v1h-1z" fill-opacity="0.45"/><path d="M5 3h2v1h-2zM8 5h1v1h-1zM12 6h1v1h-1zM7 7h1v1h-1zM4 8h1v1h-1zM8 9h1v1h-1zM8 10h1v1h-1zM10 10h1v1h-1zM12 10h1v1h-1zM10 11h1v1h-1z" fill-opacity="0.2"/></g>
<g transform="translate(685 368)"><path d="M6 5h1v1h-1zM10 5h1v1h-1zM5 7h1v1h-1zM5 11h1v1h-1zM10 11h1v1h-1zM5 12h1v1h-1z"/><path d="M5 4h1v1h-1zM9 5h1v1h-1zM10 6h1v1h-1zM10 7h1v1h-1zM6 8h1v1h-1zM10 8h1v1h-1zM6 9h1v1h-1zM10 9h1v1h-1zM5 10h1v1h-1zM10 10h1v1h-1zM9 11h1v1h-1zM4 12h1v1h-1zM7 12h6v1h-6z" fill-opacity="0.72"/><path d="M6 4h1v1h-1zM8 4h5v1h-5zM5 5h1v1h-1zM7 5h2v1h-2zM11 5h2v1h-2zM4 6h2v1h-2zM9 6h1v1h-1zM6 7h1v1h-1zM9 7h1v1h-1zM9 8h1v1h-1zM9 9h1v1h-1zM6 10h1v1h-1zM9 10h1v1h-1zM7 11h2v1h-2zM11 11h2v1h-2zM13 12h1v1h-1z" fill-opacity="0.45"/><path d="M7 4h1v1h-1zM13 5h1v1h-1zM4 7h1v1h-1zM5 9h1v1h-1zM4 11h1v1h-1zM6 11h1v1h-1zM13 11h1v1h-1zM6 12h1v1h-1zM5 13h1v1h-1z" fill-opacity="0.2"/></g>
<g transform="translate(696 368)"><path d="M9 4h1v1h-1zM9 5h1v1h-1zM5 6h2v1h-2zM9 6h4v1h-4zM6 7h1v1h-1zM8 7h1v1h-1zM11 7h1v1h-1zM7 8h1v1h-1zM11 8h1v1h-1zM5 9h2v1h-2zM10 11h1v1h-1zM9 12h1v1h-1zM12 12h1v1h-1z"/><path d="M6 4h1v1h-1zM5 5h2v1h-2zM4 6h1v1h-1zM7 6h2v1h-2zM4 7h2v1h-2zM7 7h1v1h-1zM9 7h2v1h-2zM12 7h1v1h-1zM4 8h1v1h-1zM6 8h1v1h-1zM8 8h3v1h-3zM12 8h1v1h-1zM9 9h4v1h-4zM6 10h1v1h-1zM8 10h3v1h-3zM12 10h1v1h-1zM6 11h1v1h-1zM12 11h1v1h-1zM6 12h1v1h-1zM8 12h1v1h-1z" fill-opacity="0.72"/><path d="M10 4h1v1h-1zM4 5h1v1h-1zM13 6h1v1h-1zM13 7h1v1h-1zM5 8h1v1h-1zM13 8h1v1h-1zM4 9h1v1h-1zM7 9h1v1h-1zM13 9h1v1h-1zM4 10h2v1h-2zM11 10h1v1h-1zM13 10h1v1h-1zM7 11h3v1h-3zM13 11h1v1h-1zM11 12h1v1h-1zM13 12h1v1h-1z" fill-opacity="0.45"/><path d="M5 4h1v1h-1zM8 4h1v1h-1zM8 5h1v1h-1zM3 8h1v1h-1zM8 9h1v1h-1zM7 10h1v1h-1zM5 11h1v1h-1zM5 12h1v1h-1zM7 12h1v1h-1zM10 12h1v1h-1zM6 13h1v1h-1zM8 13h1v1h-1zM11 13h2v1h-2z" fill-opacity="0.2"/></g>
<g transform="translate(708 368)"><path d="M9 4h1v1h-1zM6 5h1v1h-1zM9 5h1v1h-1zM11 6h1v1h-1zM5 7h1v1h-1zM8 7h2v1h-2zM5 11h1v1h-1zM5 12h1v1h-1zM12 12h1v1h-1z"/><path d="M5 4h1v1h-1zM10 4h1v1h-1zM10 5h1v1h-1zM9 6h1v1h-1zM10 7h3v1h-3zM6 8h1v1h-1zM8 8h1v1h-1zM6 9h1v1h-1zM8 9h4v1h-4zM5 10h1v1h-1zM8 10h4v1h-4zM8 11h1v1h-1zM10 11h2v1h-2zM13 11h1v1h-1zM4 12h1v1h-1zM7 12h1v1h-1zM10 12h2v1h-2zM13 12h1v1h-1z" fill-opacity="0.72"/><path d="M6 4h1v1h-1zM8 4h1v1h-1zM11 4h2v1h-2zM5 5h1v1h-1zM7 5h2v1h-2zM11 5h2v1h-2zM4 6h2v1h-2zM8 6h1v1h-1zM10 6h1v1h-1zM6 7h2v1h-2zM9 8h4v1h-4zM12 9h1v1h-1zM6 10h1v1h-1zM12 10h1v1h-1zM9 11h1v1h-1zM12 11h1v1h-1zM6 12h1v1h-1zM9 12h1v1h-1z" fill-opacity="0.45"/><path d="M9 3h1v1h-1zM7 4h1v1h-1zM12 6h1v1h-1zM4 7h1v1h-1zM7 8h1v1h-1zM5 9h1v1h-1zM7 9h1v1h-1zM7 10h1v1h-1zM4 11h1v1h-1zM6 11h2v1h-2zM8 12h1v1h-1zM5 13h1v1h-1z" fill-opacity="0.2"/></g>
<g transform="translate(673 380)"><path d="M7 7h1v1h-1zM12 7h1v1h-1zM7 8h1v1h-1zM8 12h4v1h-4z"/><path d="M7 5h1v1h-1zM7 6h1v1h-1zM8 7h1v1h-1zM11 7h1v1h-1zM5 8h2v1h-2zM11 8h1v1h-1zM7 9h1v1h-1zM10 9h2v1h-2zM7 10h1v1h-1zM7 11h1v1h-1zM12 12h1v1h-1z" fill-opacity="0.72"/><path d="M9 7h2v1h-2zM8 8h1v1h-1zM12 8h1v1h-1zM10 10h1v1h-1zM7 12h1v1h-1z" fill-opacity="0.45"/><path d="M8 5h1v1h-1zM8 6h1v1h-1zM4 8h1v1h-1zM8 9h1v1h-1zM8 10h1v1h-1zM8 11h1v1h-1z" fill-opacity="0.2"/></g>
<g transform="translate(685 380)"><path d="M6 6h1v1h-1zM10 9h1v1h-1zM9 10h1v1h-1zM7 11h1v1h-1z"/><path d="M7 6h1v1h-1zM11 8h2v1h-2zM11 9h1v1h-1zM8 10h1v1h-1zM6 11h1v1h-1zM8 11h1v1h-1z" fill-opacity="0.72"/><path d="M5 5h2v1h-2zM12 7h1v1h-1zM10 10h1v1h-1zM5 12h2v1h-2z" fill-opacity="0.45"/><path d="M5 6h1v1h-1zM7 7h1v1h-1zM13 7h1v1h-1zM9 9h1v1h-1zM7 10h1v1h-1zM5 11h1v1h-1z" fill-opacity="0.2"/></g>
<g transform="translate(696 380)"><path d="M8 5h1v1h-1zM8 6h4v1h-4zM9 9h2v1h-2zM9 10h2v1h-2zM8 11h1v1h-1zM11 11h1v1h-1zM6 12h2v1h-2z"/><path d="M7 6h1v1h-1zM6 7h2v1h-2zM11 7h1v1h-1zM8 8h1v1h-1z" fill-opacity="0.72"/><path d="M12 6h1v1h-1zM5 8h3v1h-3zM10 8h2v1h-2zM8 9h1v1h-1zM7 11h1v1h-1zM10 11h1v1h-1zM6 13h1v1h-1z" fill-opacity="0.45"/><path d="M8 4h2v1h-2zM7 5h1v1h-1zM9 5h1v1h-1zM10 7h1v1h-1zM9 8h1v1h-1zM8 10h1v1h-1zM11 10h1v1h-1zM9 11h1v1h-1zM5 12h1v1h-1zM8 12h1v1h-1zM5 13h1v1h-1z" fill-opacity="0.2"/></g>
<g transform="translate(708 380)"><path d="M5 8h8v1h-8z"/><path d="M5 7h8v1h-8z" fill-opacity="0.45"/><path d="M4 8h1v1h-1zM13 8h1v1h-1z" fill-opacity="0.2"/></g>
<g transform="translate(605 424)"><path d="M11 9h1v1h-1zM10 10h1v1h-1zM8 11h1v1h-1zM6 12h1v1h-1z"/><path d="M7 5h1v1h-1zM8 6h1v1h-1zM6 8h1v1h-1zM12 8h1v1h-1zM9 10h1v1h-1zM7 11h1v1h-1zM7 12h1v1h-1z" fill-opacity="0.72"/><path d="M7 6h1v1h-1zM7 8h1v1h-1zM12 9h1v1h-1zM9 11h1v1h-1z" fill-opacity="0.45"/><path d="M6 5h1v1h-1zM5 7h1v1h-1zM5 8h1v1h-1zM11 8h1v1h-1zM13 8h1v1h-1zM10 9h1v1h-1zM11 10h1v1h-1zM6 11h1v1h-1zM5 12h1v1h-1z" fill-opacity="0.2"/></g>
<g transform="translate(617 424)"><path d="M10 6h1v1h-1zM10 7h1v1h-1zM9 9h1v1h-1zM6 11h1v1h-1z"/><path d="M6 6h4v1h-4zM11 6h1v1h-1zM9 8h1v1h-1zM8 9h1v1h-1zM10 9h1v1h-1zM7 10h2v1h-2zM11 10h1v1h-1zM5 11h1v1h-1zM11 11h2v1h-2z" fill-opacity="0.72"/><path d="M6 5h5v1h-5zM10 8h1v1h-1zM10 10h1v1h-1zM7 11h1v1h-1zM5 12h1v1h-1z" fill-opacity="0.45"/><path d="M5 6h1v1h-1zM9 7h1v1h-1zM11 7h1v1h-1z" fill-opacity="0.2"/></g>
<g transform="translate(629 424)"><path d="M7 5h4v1h-4z"/><path d="M6 5h1v1h-1zM11 5h1v1h-1zM8 8h2v1h-2zM8 10h1v1h-1zM7 11h2v1h-2zM6 12h2v1h-2z" fill-opacity="0.72"/><path d="M5 7h8v1h-8zM5 8h3v1h-3zM10 8h3v1h-3zM8 9h2v1h-2zM9 10h1v1h-1z" fill-opacity="0.45"/></g>
<g transform="translate(641 424)"><path d="M8 6h1v1h-1zM6 11h1v1h-1zM12 11h1v1h-1z"/><path d="M8 5h1v1h-1zM8 7h1v1h-1zM7 8h1v1h-1zM7 9h1v1h-1zM11 9h1v1h-1zM6 10h1v1h-1zM11 10h1v1h-1zM5 11h1v1h-1zM7 11h5v1h-5z" fill-opacity="0.72"/><path d="M9 5h1v1h-1zM7 7h1v1h-1zM8 8h1v1h-1zM6 9h1v1h-1zM10 9h1v1h-1zM7 10h1v1h-1zM12 10h1v1h-1zM5 12h1v1h-1z" fill-opacity="0.45"/><path d="M9 6h1v1h-1zM4 11h1v1h-1zM13 11h1v1h-1zM6 12h1v1h-1zM12 12h1v1h-1z" fill-opacity="0.2"/></g>
<g transform="translate(605 436)"><path d="M6 5h2v1h-2zM9 5h3v1h-3zM7 6h1v1h-1zM10 6h1v1h-1zM5 7h7v1h-7zM8 9h1v1h-1zM5 10h8v1h-8zM6 11h1v1h-1z"/><path d="M9 4h1v1h-1zM11 4h1v1h-1zM8 5h1v1h-1zM6 6h1v1h-1zM12 7h1v1h-1zM8 8h2v1h-2zM6 9h2v1h-2zM9 9h3v1h-3zM4 10h1v1h-1zM7 11h2v1h-2zM10 11h2v1h-2zM4 12h2v1h-2zM8 12h1v1h-1zM12 12h1v1h-1z" fill-opacity="0.72"/><path d="M9 3h1v1h-1zM5 4h4v1h-4zM10 4h1v1h-1zM5 5h1v1h-1zM12 5h1v1h-1zM5 6h1v1h-1zM8 6h2v1h-2zM11 6h2v1h-2zM4 7h1v1h-1zM6 8h2v1h-2zM10 8h2v1h-2zM5 9h1v1h-1zM13 10h1v1h-1zM5 11h1v1h-1zM9 11h1v1h-1zM9 12h1v1h-1zM11 12h1v1h-1zM13 12h1v1h-1z" fill-opacity="0.45"/><path d="M7 3h2v1h-2zM10 3h1v1h-1zM12 4h1v1h-1zM4 5h1v1h-1zM13 5h1v1h-1zM4 6h1v1h-1zM13 6h1v1h-1zM13 7h1v1h-1zM5 8h1v1h-1zM12 9h1v1h-1zM6 12h1v1h-1zM8 13h1v1h-1z" fill-opacity="0.2"/></g>
<g transform="translate(623 436)"><path d="M7 5h1v1h-1zM9 5h2v1h-2zM6 6h1v1h-1zM8 6h2v1h-2zM6 7h2v1h-2zM10 7h2v1h-2zM6 8h1v1h-1zM9 8h1v1h-1zM12 8h1v1h-1zM5 9h2v1h-2zM9 9h3v1h-3zM6 12h1v1h-1zM8 12h1v1h-1zM11 12h1v1h-1z"/><path d="M5 4h3v1h-3zM10 4h1v1h-1zM11 5h2v1h-2zM10 6h3v1h-3zM5 7h1v1h-1zM8 7h1v1h-1zM7 8h2v1h-2zM10 8h2v1h-2zM8 9h1v1h-1zM12 9h1v1h-1zM4 10h3v1h-3zM10 10h1v1h-1zM12 10h1v1h-1zM6 11h1v1h-1zM9 11h1v1h-1zM12 11h1v1h-1zM9 12h1v1h-1zM12 12h1v1h-1z" fill-opacity="0.72"/><path d="M9 4h1v1h-1zM6 5h1v1h-1zM8 5h1v1h-1zM5 6h1v1h-1zM7 6h1v1h-1zM4 7h1v1h-1zM9 7h1v1h-1zM13 8h1v1h-1zM7 9h1v1h-1zM7 10h1v1h-1zM7 11h1v1h-1zM10 11h1v1h-1zM5 12h1v1h-1zM7 12h1v1h-1z" fill-opacity="0.45"/><path d="M4 4h1v1h-1zM8 4h1v1h-1zM5 8h1v1h-1zM13 9h1v1h-1zM8 10h2v1h-2zM11 10h1v1h-1zM13 10h1v1h-1zM4 11h1v1h-1zM11 11h1v1h-1zM13 11h1v1h-1zM10 12h1v1h-1zM5 13h2v1h-2z" fill-opacity="0.2"/></g>
<g transform="translate(687 426)"><path d="M5 6h1v1h-1zM9 6h1v1h-1zM8 8h1v1h-1zM7 9h1v1h-1z" fill-opacity="0.72"/><path d="M9 5h1v1h-1zM6 6h1v1h-1zM8 7h2v1h-2zM6 10h1v1h-1z" fill-opacity="0.45"/><path d="M5 5h1v1h-1zM7 8h1v1h-1zM6 9h1v1h-1zM8 9h1v1h-1z" fill-opacity="0.2"/></g>
<g transform="translate(695 426)"><path d="M8 9h1v1h-1zM7 10h1v1h-1z" fill-opacity="0.72"/><path d="M5 5h2v1h-2zM8 5h2v1h-2zM5 6h2v1h-2zM8 6h1v1h-1zM5 7h2v1h-2zM8 7h1v1h-1zM8 8h1v1h-1z" fill-opacity="0.45"/><path d="M9 6h1v1h-1zM9 7h1v1h-1zM5 8h2v1h-2zM9 8h1v1h-1zM7 9h1v1h-1zM6 10h1v1h-1zM8 10h1v1h-1z" fill-opacity="0.2"/></g>
<g transform="translate(703 426)"><path d="M8 7h1v1h-1zM8 9h1v1h-1z" fill-opacity="0.72"/><path d="M6 6h2v1h-2zM6 7h2v1h-2zM8 8h1v1h-1zM5 9h3v1h-3zM9 9h1v1h-1zM5 10h5v1h-5z" fill-opacity="0.45"/><path d="M8 6h1v1h-1z" fill-opacity="0.2"/></g>
<g transform="translate(712 426)"><path d="M5 7h5v1h-5z"/><path d="M4 7h1v1h-1zM10 7h1v1h-1z" fill-opacity="0.45"/></g>
<g transform="translate(674 436)"><path d="M7 9h1v1h-1z"/><path d="M5 7h1v1h-1zM6 9h1v1h-1z" fill-opacity="0.72"/><path d="M6 5h1v1h-1zM9 7h2v1h-2zM8 8h2v1h-2zM5 10h2v1h-2z" fill-opacity="0.45"/><path d="M7 5h1v1h-1zM6 6h2v1h-2zM6 7h1v1h-1zM5 9h1v1h-1zM8 9h1v1h-1z" fill-opacity="0.2"/></g>
<g transform="translate(687 436)"><path d="M6 6h3v1h-3zM9 7h1v1h-1zM6 8h4v1h-4zM9 9h1v1h-1zM6 10h3v1h-3z" fill-opacity="0.45"/><path d="M9 6h1v1h-1zM8 7h1v1h-1zM8 9h1v1h-1zM5 10h1v1h-1zM9 10h1v1h-1z" fill-opacity="0.2"/></g>
<g transform="translate(700 436)"><path d="M5 5h1v1h-1zM9 7h1v1h-1zM8 8h1v1h-1zM6 9h1v1h-1z" fill-opacity="0.72"/><path d="M6 6h1v1h-1zM10 7h1v1h-1zM7 8h1v1h-1zM5 9h1v1h-1zM7 9h1v1h-1zM5 10h1v1h-1z" fill-opacity="0.45"/><path d="M6 5h1v1h-1zM5 6h1v1h-1zM8 7h1v1h-1zM9 8h1v1h-1z" fill-opacity="0.2"/></g>
<g transform="translate(745 423)"><path d="M5 4h7v1h-7zM8 5h1v1h-1zM11 5h1v1h-1zM9 6h2v1h-2zM5 7h8v1h-8zM7 9h1v1h-1zM10 9h1v1h-1zM9 10h1v1h-1zM8 11h2v1h-2zM5 12h2v1h-2zM11 12h2v1h-2z"/><path d="M6 5h1v1h-1zM6 6h2v1h-2zM4 7h1v1h-1zM5 8h1v1h-1zM12 8h1v1h-1zM8 10h1v1h-1zM7 11h1v1h-1zM7 12h1v1h-1zM10 12h1v1h-1z" fill-opacity="0.72"/><path d="M9 5h2v1h-2zM8 6h1v1h-1zM11 6h1v1h-1zM13 7h1v1h-1zM4 8h1v1h-1zM6 8h5v1h-5zM13 8h1v1h-1zM6 9h1v1h-1zM8 9h2v1h-2zM7 10h1v1h-1zM10 10h1v1h-1zM10 11h1v1h-1zM4 12h1v1h-1zM13 12h1v1h-1z" fill-opacity="0.45"/><path d="M11 3h1v1h-1zM4 4h1v1h-1zM12 4h1v1h-1zM5 5h1v1h-1zM7 5h1v1h-1zM11 8h1v1h-1zM5 9h1v1h-1zM11 9h2v1h-2zM8 12h2v1h-2zM4 13h2v1h-2zM12 13h1v1h-1z" fill-opacity="0.2"/></g>
<g transform="translate(757 423)"><path d="M6 5h1v1h-1zM9 6h2v1h-2zM5 7h1v1h-1zM9 9h2v1h-2zM5 11h1v1h-1zM5 12h1v1h-1zM10 12h1v1h-1z"/><path d="M5 4h1v1h-1zM9 4h2v1h-2zM10 5h1v1h-1zM8 6h1v1h-1zM11 6h2v1h-2zM10 7h1v1h-1zM6 8h1v1h-1zM10 8h1v1h-1zM6 9h1v1h-1zM8 9h1v1h-1zM11 9h2v1h-2zM10 10h1v1h-1zM10 11h1v1h-1zM7 12h3v1h-3zM11 12h2v1h-2z" fill-opacity="0.72"/><path d="M6 4h1v1h-1zM4 6h2v1h-2zM7 6h1v1h-1zM13 6h1v1h-1zM6 7h1v1h-1zM7 9h1v1h-1zM5 10h2v1h-2zM4 12h1v1h-1zM13 12h1v1h-1z" fill-opacity="0.45"/><path d="M9 3h1v1h-1zM5 5h1v1h-1zM7 5h1v1h-1zM9 5h1v1h-1zM4 7h1v1h-1zM7 7h1v1h-1zM9 7h1v1h-1zM7 8h1v1h-1zM9 8h1v1h-1zM12 8h1v1h-1zM5 9h1v1h-1zM9 10h1v1h-1zM6 11h1v1h-1zM9 11h1v1h-1zM6 12h1v1h-1zM5 13h1v1h-1z" fill-opacity="0.2"/></g>
<g transform="translate(768 423)"><path d="M9 8h1v1h-1z"/><path d="M8 8h1v1h-1z" fill-opacity="0.72"/><path d="M10 8h1v1h-1zM9 9h1v1h-1z" fill-opacity="0.2"/></g>
<g transform="translate(780 423)"><path d="M7 4h1v1h-1zM11 4h2v1h-2zM5 5h1v1h-1zM5 6h4v1h-4zM11 6h2v1h-2zM7 7h1v1h-1zM5 8h2v1h-2zM5 9h3v1h-3zM6 10h2v1h-2zM6 11h1v1h-1zM6 12h1v1h-1zM10 12h1v1h-1z"/><path d="M6 4h1v1h-1zM10 4h1v1h-1zM13 4h1v1h-1zM6 5h3v1h-3zM11 5h1v1h-1zM10 6h1v1h-1zM5 7h2v1h-2zM10 7h1v1h-1zM12 7h1v1h-1zM7 8h2v1h-2zM10 8h1v1h-1zM12 8h1v1h-1zM8 9h1v1h-1zM10 9h3v1h-3zM5 10h1v1h-1zM8 10h1v1h-1zM10 10h1v1h-1zM5 11h1v1h-1zM7 11h2v1h-2zM4 12h1v1h-1zM7 12h3v1h-3zM13 12h1v1h-1z" fill-opacity="0.72"/><path d="M5 4h1v1h-1zM8 4h2v1h-2zM9 5h1v1h-1zM9 6h1v1h-1zM13 6h1v1h-1zM8 7h1v1h-1zM11 7h1v1h-1zM13 7h1v1h-1zM9 8h1v1h-1zM11 8h1v1h-1zM13 8h1v1h-1zM9 9h1v1h-1zM13 9h1v1h-1zM12 10h2v1h-2zM4 11h1v1h-1zM10 11h3v1h-3zM5 12h1v1h-1zM12 12h1v1h-1zM9 13h1v1h-1z" fill-opacity="0.45"/><path d="M6 3h1v1h-1zM4 5h1v1h-1zM12 5h1v1h-1zM4 6h1v1h-1zM4 7h1v1h-1zM4 8h1v1h-1zM4 9h1v1h-1zM4 10h1v1h-1zM9 10h1v1h-1zM11 10h1v1h-1zM9 11h1v1h-1zM13 11h1v1h-1zM11 12h1v1h-1zM6 13h1v1h-1zM10 13h1v1h-1z" fill-opacity="0.2"/></g>
<g transform="translate(745 436)"><path d="M8 4h1v1h-1zM5 5h1v1h-1zM7 5h1v1h-1zM12 5h1v1h-1zM7 6h4v1h-4zM6 7h2v1h-2zM8 8h2v1h-2zM6 9h2v1h-2zM10 9h2v1h-2zM7 10h1v1h-1zM10 10h1v1h-1zM7 12h1v1h-1zM10 12h1v1h-1z"/><path d="M9 4h1v1h-1zM6 6h1v1h-1zM9 7h2v1h-2zM8 9h2v1h-2zM12 9h1v1h-1zM6 10h1v1h-1zM8 10h2v1h-2zM11 10h1v1h-1zM8 12h2v1h-2z" fill-opacity="0.72"/><path d="M5 4h3v1h-3zM10 4h2v1h-2zM4 5h1v1h-1zM6 5h1v1h-1zM8 5h4v1h-4zM5 6h1v1h-1zM11 6h2v1h-2zM5 7h1v1h-1zM8 7h1v1h-1zM5 8h1v1h-1zM7 8h1v1h-1zM5 9h1v1h-1zM4 10h2v1h-2zM12 10h1v1h-1zM6 11h2v1h-2zM10 11h2v1h-2zM6 12h1v1h-1zM11 12h1v1h-1z" fill-opacity="0.45"/><path d="M8 3h1v1h-1zM12 4h1v1h-1zM4 6h1v1h-1zM10 8h1v1h-1zM4 9h1v1h-1zM13 9h1v1h-1zM13 10h1v1h-1z" fill-opacity="0.2"/></g>
<g transform="translate(757 436)"><path d="M6 5h1v1h-1zM8 6h5v1h-5zM5 7h1v1h-1zM7 7h1v1h-1zM6 8h1v1h-1zM9 8h1v1h-1zM6 9h1v1h-1zM6 10h2v1h-2zM5 11h1v1h-1zM11 12h1v1h-1z"/><path d="M6 4h1v1h-1zM11 4h1v1h-1zM5 5h1v1h-1zM7 5h1v1h-1zM11 5h1v1h-1zM7 6h1v1h-1zM13 6h1v1h-1zM11 7h1v1h-1zM7 8h1v1h-1zM11 8h1v1h-1zM7 9h1v1h-1zM10 9h2v1h-2zM11 10h1v1h-1zM7 11h2v1h-2zM11 11h1v1h-1zM4 12h2v1h-2zM10 12h1v1h-1z" fill-opacity="0.72"/><path d="M5 4h1v1h-1zM4 5h1v1h-1zM8 5h1v1h-1zM6 7h1v1h-1zM5 8h1v1h-1zM10 8h1v1h-1zM9 9h1v1h-1zM5 10h1v1h-1zM6 11h1v1h-1z" fill-opacity="0.45"/><path d="M5 3h1v1h-1zM11 3h1v1h-1zM12 4h1v1h-1zM12 5h1v1h-1zM5 6h1v1h-1zM4 7h1v1h-1zM8 7h1v1h-1zM12 7h1v1h-1zM8 8h1v1h-1zM12 8h1v1h-1zM12 9h1v1h-1zM8 10h1v1h-1zM12 10h1v1h-1zM4 11h1v1h-1zM12 11h1v1h-1zM8 12h1v1h-1z" fill-opacity="0.2"/></g>
<g transform="translate(768 436)"><path d="M8 4h2v1h-2zM5 6h1v1h-1zM9 6h1v1h-1zM5 9h2v1h-2zM12 9h1v1h-1zM5 10h2v1h-2zM5 11h1v1h-1zM8 12h1v1h-1zM11 12h1v1h-1z"/><path d="M5 4h3v1h-3zM10 4h3v1h-3zM5 5h1v1h-1zM5 7h1v1h-1zM8 7h1v1h-1zM10 7h1v1h-1zM5 8h1v1h-1zM8 8h1v1h-1zM12 8h1v1h-1zM7 9h2v1h-2zM8 10h1v1h-1zM8 11h1v1h-1zM11 11h1v1h-1zM4 12h1v1h-1zM9 12h2v1h-2z" fill-opacity="0.72"/><path d="M13 4h1v1h-1zM9 5h1v1h-1zM10 6h1v1h-1zM9 7h1v1h-1zM6 8h2v1h-2zM11 8h1v1h-1zM13 9h1v1h-1zM7 10h1v1h-1zM13 10h1v1h-1zM4 11h1v1h-1zM6 11h1v1h-1zM12 11h1v1h-1zM5 12h1v1h-1z" fill-opacity="0.45"/><path d="M8 3h2v1h-2zM4 5h1v1h-1zM8 5h1v1h-1zM4 6h1v1h-1zM8 6h1v1h-1zM4 7h1v1h-1zM7 7h1v1h-1zM4 8h1v1h-1zM4 9h1v1h-1zM4 10h1v1h-1zM12 10h1v1h-1zM7 11h1v1h-1zM12 12h1v1h-1z" fill-opacity="0.2"/></g>
<g transform="translate(605 474)"><path d="M10 5h1v1h-1zM6 6h1v1h-1zM10 6h1v1h-1zM5 7h2v1h-2zM8 7h5v1h-5zM10 8h1v1h-1zM10 9h1v1h-1zM10 10h1v1h-1zM10 11h1v1h-1zM8 12h5v1h-5z"/><path d="M7 4h1v1h-1zM10 4h1v1h-1zM6 5h1v1h-1zM7 7h1v1h-1zM13 7h1v1h-1zM4 8h3v1h-3zM6 9h1v1h-1zM6 10h1v1h-1zM6 11h1v1h-1zM6 12h2v1h-2zM13 12h1v1h-1z" fill-opacity="0.72"/><path d="M6 4h1v1h-1zM7 5h1v1h-1zM5 6h1v1h-1zM5 9h1v1h-1zM5 10h1v1h-1zM5 11h1v1h-1zM5 12h1v1h-1z" fill-opacity="0.45"/><path d="M9 4h1v1h-1zM9 5h1v1h-1zM9 6h1v1h-1zM4 7h1v1h-1zM9 8h1v1h-1zM9 9h1v1h-1zM9 10h1v1h-1zM9 11h1v1h-1zM6 13h1v1h-1z" fill-opacity="0.2"/></g>
<g transform="translate(617 474)"><path d="M8 4h1v1h-1zM9 5h1v1h-1zM9 6h1v1h-1zM9 7h1v1h-1zM8 8h1v1h-1zM7 10h1v1h-1zM6 11h1v1h-1zM11 11h1v1h-1zM5 12h1v1h-1zM12 12h1v1h-1z"/><path d="M7 4h1v1h-1zM8 7h1v1h-1zM10 7h1v1h-1zM10 8h1v1h-1zM7 9h2v1h-2zM10 9h1v1h-1zM10 10h1v1h-1zM4 12h1v1h-1z" fill-opacity="0.72"/><path d="M7 3h1v1h-1zM9 4h1v1h-1zM8 5h1v1h-1zM8 6h1v1h-1zM10 6h1v1h-1zM9 8h1v1h-1zM6 10h1v1h-1zM11 10h1v1h-1zM5 11h1v1h-1zM7 11h1v1h-1zM6 12h1v1h-1zM11 12h1v1h-1zM13 12h1v1h-1zM4 13h1v1h-1z" fill-opacity="0.45"/><path d="M8 3h1v1h-1zM7 8h1v1h-1zM11 9h1v1h-1zM8 10h1v1h-1zM10 11h1v1h-1zM12 11h1v1h-1zM5 13h1v1h-1z" fill-opacity="0.2"/></g>
<g transform="translate(629 474)"><path d="M7 5h1v1h-1zM9 5h1v1h-1zM11 5h1v1h-1zM8 6h1v1h-1zM5 7h1v1h-1zM12 7h1v1h-1zM7 10h4v1h-4zM11 11h1v1h-1zM7 12h1v1h-1zM11 12h1v1h-1z"/><path d="M6 4h2v1h-2zM9 4h2v1h-2zM5 5h2v1h-2zM8 5h1v1h-1zM10 5h1v1h-1zM12 5h1v1h-1zM9 6h1v1h-1zM6 7h6v1h-6zM13 7h1v1h-1zM7 8h5v1h-5zM6 9h2v1h-2zM11 9h1v1h-1zM6 10h1v1h-1zM11 10h1v1h-1zM6 11h2v1h-2zM6 12h1v1h-1zM8 12h3v1h-3z" fill-opacity="0.72"/><path d="M8 4h1v1h-1zM11 4h2v1h-2zM4 6h2v1h-2zM11 6h2v1h-2zM4 7h1v1h-1zM5 8h2v1h-2zM8 9h3v1h-3zM8 11h3v1h-3z" fill-opacity="0.45"/><path d="M5 4h1v1h-1zM13 4h1v1h-1zM13 5h1v1h-1zM7 6h1v1h-1zM4 8h1v1h-1zM12 8h2v1h-2zM12 11h1v1h-1zM12 12h1v1h-1z" fill-opacity="0.2"/></g>
<g transform="translate(641 474)"><path d="M8 4h1v1h-1zM10 4h1v1h-1zM12 4h1v1h-1zM8 6h1v1h-1zM10 6h1v1h-1zM12 6h1v1h-1zM5 7h1v1h-1zM8 8h1v1h-1zM10 8h1v1h-1zM12 8h1v1h-1zM10 10h1v1h-1zM4 11h1v1h-1zM7 12h6v1h-6z"/><path d="M4 4h3v1h-3zM9 4h1v1h-1zM11 4h1v1h-1zM5 5h1v1h-1zM8 5h1v1h-1zM10 5h1v1h-1zM12 5h1v1h-1zM5 6h1v1h-1zM9 6h1v1h-1zM11 6h1v1h-1zM6 7h1v1h-1zM8 7h1v1h-1zM10 7h1v1h-1zM12 7h1v1h-1zM5 8h1v1h-1zM9 8h1v1h-1zM11 8h1v1h-1zM5 9h1v1h-1zM10 9h1v1h-1zM5 10h2v1h-2zM8 10h2v1h-2zM11 10h2v1h-2zM5 11h1v1h-1zM10 11h1v1h-1zM13 12h1v1h-1z" fill-opacity="0.72"/><path d="M7 4h1v1h-1zM7 5h1v1h-1zM7 6h1v1h-1zM4 7h1v1h-1zM7 7h1v1h-1zM7 8h1v1h-1zM12 9h1v1h-1zM7 10h1v1h-1zM6 12h1v1h-1z" fill-opacity="0.45"/><path d="M13 4h1v1h-1zM6 5h1v1h-1zM9 5h1v1h-1zM11 5h1v1h-1zM13 5h1v1h-1zM6 6h1v1h-1zM13 6h1v1h-1zM9 7h1v1h-1zM11 7h1v1h-1zM13 7h1v1h-1zM6 8h1v1h-1zM13 8h1v1h-1zM6 9h1v1h-1zM9 9h1v1h-1zM6 11h1v1h-1zM9 11h1v1h-1z" fill-opacity="0.2"/></g>
<g transform="translate(676 468)"><path d="M6 6h6v1h-6zM11 11h1v1h-1z"/><path d="M11 7h1v1h-1zM11 8h1v1h-1zM11 9h1v1h-1zM11 10h1v1h-1zM6 11h5v1h-5z" fill-opacity="0.72"/><path d="M5 6h1v1h-1zM12 6h1v1h-1zM12 7h1v1h-1zM12 8h1v1h-1zM12 9h1v1h-1zM12 10h1v1h-1zM5 11h1v1h-1zM12 11h1v1h-1z" fill-opacity="0.45"/><path d="M11 12h1v1h-1z" fill-opacity="0.2"/></g>
<g transform="translate(687 468)"><path d="M6 6h1v1h-1zM10 9h1v1h-1zM9 10h1v1h-1zM7 11h1v1h-1z"/><path d="M7 6h1v1h-1zM11 8h2v1h-2zM11 9h1v1h-1zM8 10h1v1h-1zM6 11h1v1h-1zM8 11h1v1h-1z" fill-opacity="0.72"/><path d="M5 5h2v1h-2zM12 7h1v1h-1zM10 10h1v1h-1zM5 12h2v1h-2z" fill-opacity="0.45"/><path d="M5 6h1v1h-1zM7 7h1v1h-1zM13 7h1v1h-1zM9 9h1v1h-1zM7 10h1v1h-1zM5 11h1v1h-1z" fill-opacity="0.2"/></g>
<g transform="translate(699 468)"><path d="M7 5h4v1h-4z"/><path d="M6 5h1v1h-1zM11 5h1v1h-1zM8 8h2v1h-2zM8 10h1v1h-1zM7 11h2v1h-2zM6 12h2v1h-2z" fill-opacity="0.72"/><path d="M5 7h8v1h-8zM5 8h3v1h-3zM10 8h3v1h-3zM8 9h2v1h-2zM9 10h1v1h-1z" fill-opacity="0.45"/></g>
<g transform="translate(710 468)"><path d="M6 6h1v1h-1zM10 9h1v1h-1zM9 10h1v1h-1zM7 11h1v1h-1z"/><path d="M7 6h1v1h-1zM11 8h2v1h-2zM11 9h1v1h-1zM8 10h1v1h-1zM6 11h1v1h-1zM8 11h1v1h-1z" fill-opacity="0.72"/><path d="M5 5h2v1h-2zM12 7h1v1h-1zM10 10h1v1h-1zM5 12h2v1h-2z" fill-opacity="0.45"/><path d="M5 6h1v1h-1zM7 7h1v1h-1zM13 7h1v1h-1zM9 9h1v1h-1zM7 10h1v1h-1zM5 11h1v1h-1z" fill-opacity="0.2"/></g>
<g transform="translate(676 480)"><path d="M5 6h1v1h-1zM8 6h1v1h-1zM12 6h1v1h-1z"/><path d="M5 7h1v1h-1zM11 7h1v1h-1zM11 8h1v1h-1zM10 9h1v1h-1zM7 12h1v1h-1z" fill-opacity="0.72"/><path d="M7 5h2v1h-2zM12 5h1v1h-1zM11 6h1v1h-1zM6 7h1v1h-1zM8 7h1v1h-1zM12 7h1v1h-1zM11 9h1v1h-1zM9 10h2v1h-2zM8 11h2v1h-2zM8 12h1v1h-1z" fill-opacity="0.45"/><path d="M4 6h1v1h-1zM7 6h1v1h-1zM9 6h1v1h-1zM9 7h1v1h-1zM10 8h1v1h-1z" fill-opacity="0.2"/></g>
<g transform="translate(693 480)"><path d="M7 5h1v1h-1zM9 5h1v1h-1zM11 5h1v1h-1zM8 6h1v1h-1zM5 7h1v1h-1zM12 7h1v1h-1zM7 10h4v1h-4zM11 11h1v1h-1zM7 12h1v1h-1zM11 12h1v1h-1z"/><path d="M6 4h2v1h-2zM9 4h2v1h-2zM5 5h2v1h-2zM8 5h1v1h-1zM10 5h1v1h-1zM12 5h1v1h-1zM9 6h1v1h-1zM6 7h6v1h-6zM13 7h1v1h-1zM7 8h5v1h-5zM6 9h2v1h-2zM11 9h1v1h-1zM6 10h1v1h-1zM11 10h1v1h-1zM6 11h2v1h-2zM6 12h1v1h-1zM8 12h3v1h-3z" fill-opacity="0.72"/><path d="M8 4h1v1h-1zM11 4h2v1h-2zM4 6h2v1h-2zM11 6h2v1h-2zM4 7h1v1h-1zM5 8h2v1h-2zM8 9h3v1h-3zM8 11h3v1h-3z" fill-opacity="0.45"/><path d="M5 4h1v1h-1zM13 4h1v1h-1zM13 5h1v1h-1zM7 6h1v1h-1zM4 8h1v1h-1zM12 8h2v1h-2zM12 11h1v1h-1zM12 12h1v1h-1z" fill-opacity="0.2"/></g>
<g transform="translate(710 480)"><path d="M8 4h1v1h-1zM10 4h1v1h-1zM12 4h1v1h-1zM8 6h1v1h-1zM10 6h1v1h-1zM12 6h1v1h-1zM5 7h1v1h-1zM8 8h1v1h-1zM10 8h1v1h-1zM12 8h1v1h-1zM10 10h1v1h-1zM4 11h1v1h-1zM7 12h6v1h-6z"/><path d="M4 4h3v1h-3zM9 4h1v1h-1zM11 4h1v1h-1zM5 5h1v1h-1zM8 5h1v1h-1zM10 5h1v1h-1zM12 5h1v1h-1zM5 6h1v1h-1zM9 6h1v1h-1zM11 6h1v1h-1zM6 7h1v1h-1zM8 7h1v1h-1zM10 7h1v1h-1zM12 7h1v1h-1zM5 8h1v1h-1zM9 8h1v1h-1zM11 8h1v1h-1zM5 9h1v1h-1zM10 9h1v1h-1zM5 10h2v1h-2zM8 10h2v1h-2zM11 10h2v1h-2zM5 11h1v1h-1zM10 11h1v1h-1zM13 12h1v1h-1z" fill-opacity="0.72"/><path d="M7 4h1v1h-1zM7 5h1v1h-1zM7 6h1v1h-1zM4 7h1v1h-1zM7 7h1v1h-1zM7 8h1v1h-1zM12 9h1v1h-1zM7 10h1v1h-1zM6 12h1v1h-1z" fill-opacity="0.45"/><path d="M13 4h1v1h-1zM6 5h1v1h-1zM9 5h1v1h-1zM11 5h1v1h-1zM13 5h1v1h-1zM6 6h1v1h-1zM13 6h1v1h-1zM9 7h1v1h-1zM11 7h1v1h-1zM13 7h1v1h-1zM6 8h1v1h-1zM13 8h1v1h-1zM6 9h1v1h-1zM9 9h1v1h-1zM6 11h1v1h-1zM9 11h1v1h-1z" fill-opacity="0.2"/></g>
</svg>
</body></html>
